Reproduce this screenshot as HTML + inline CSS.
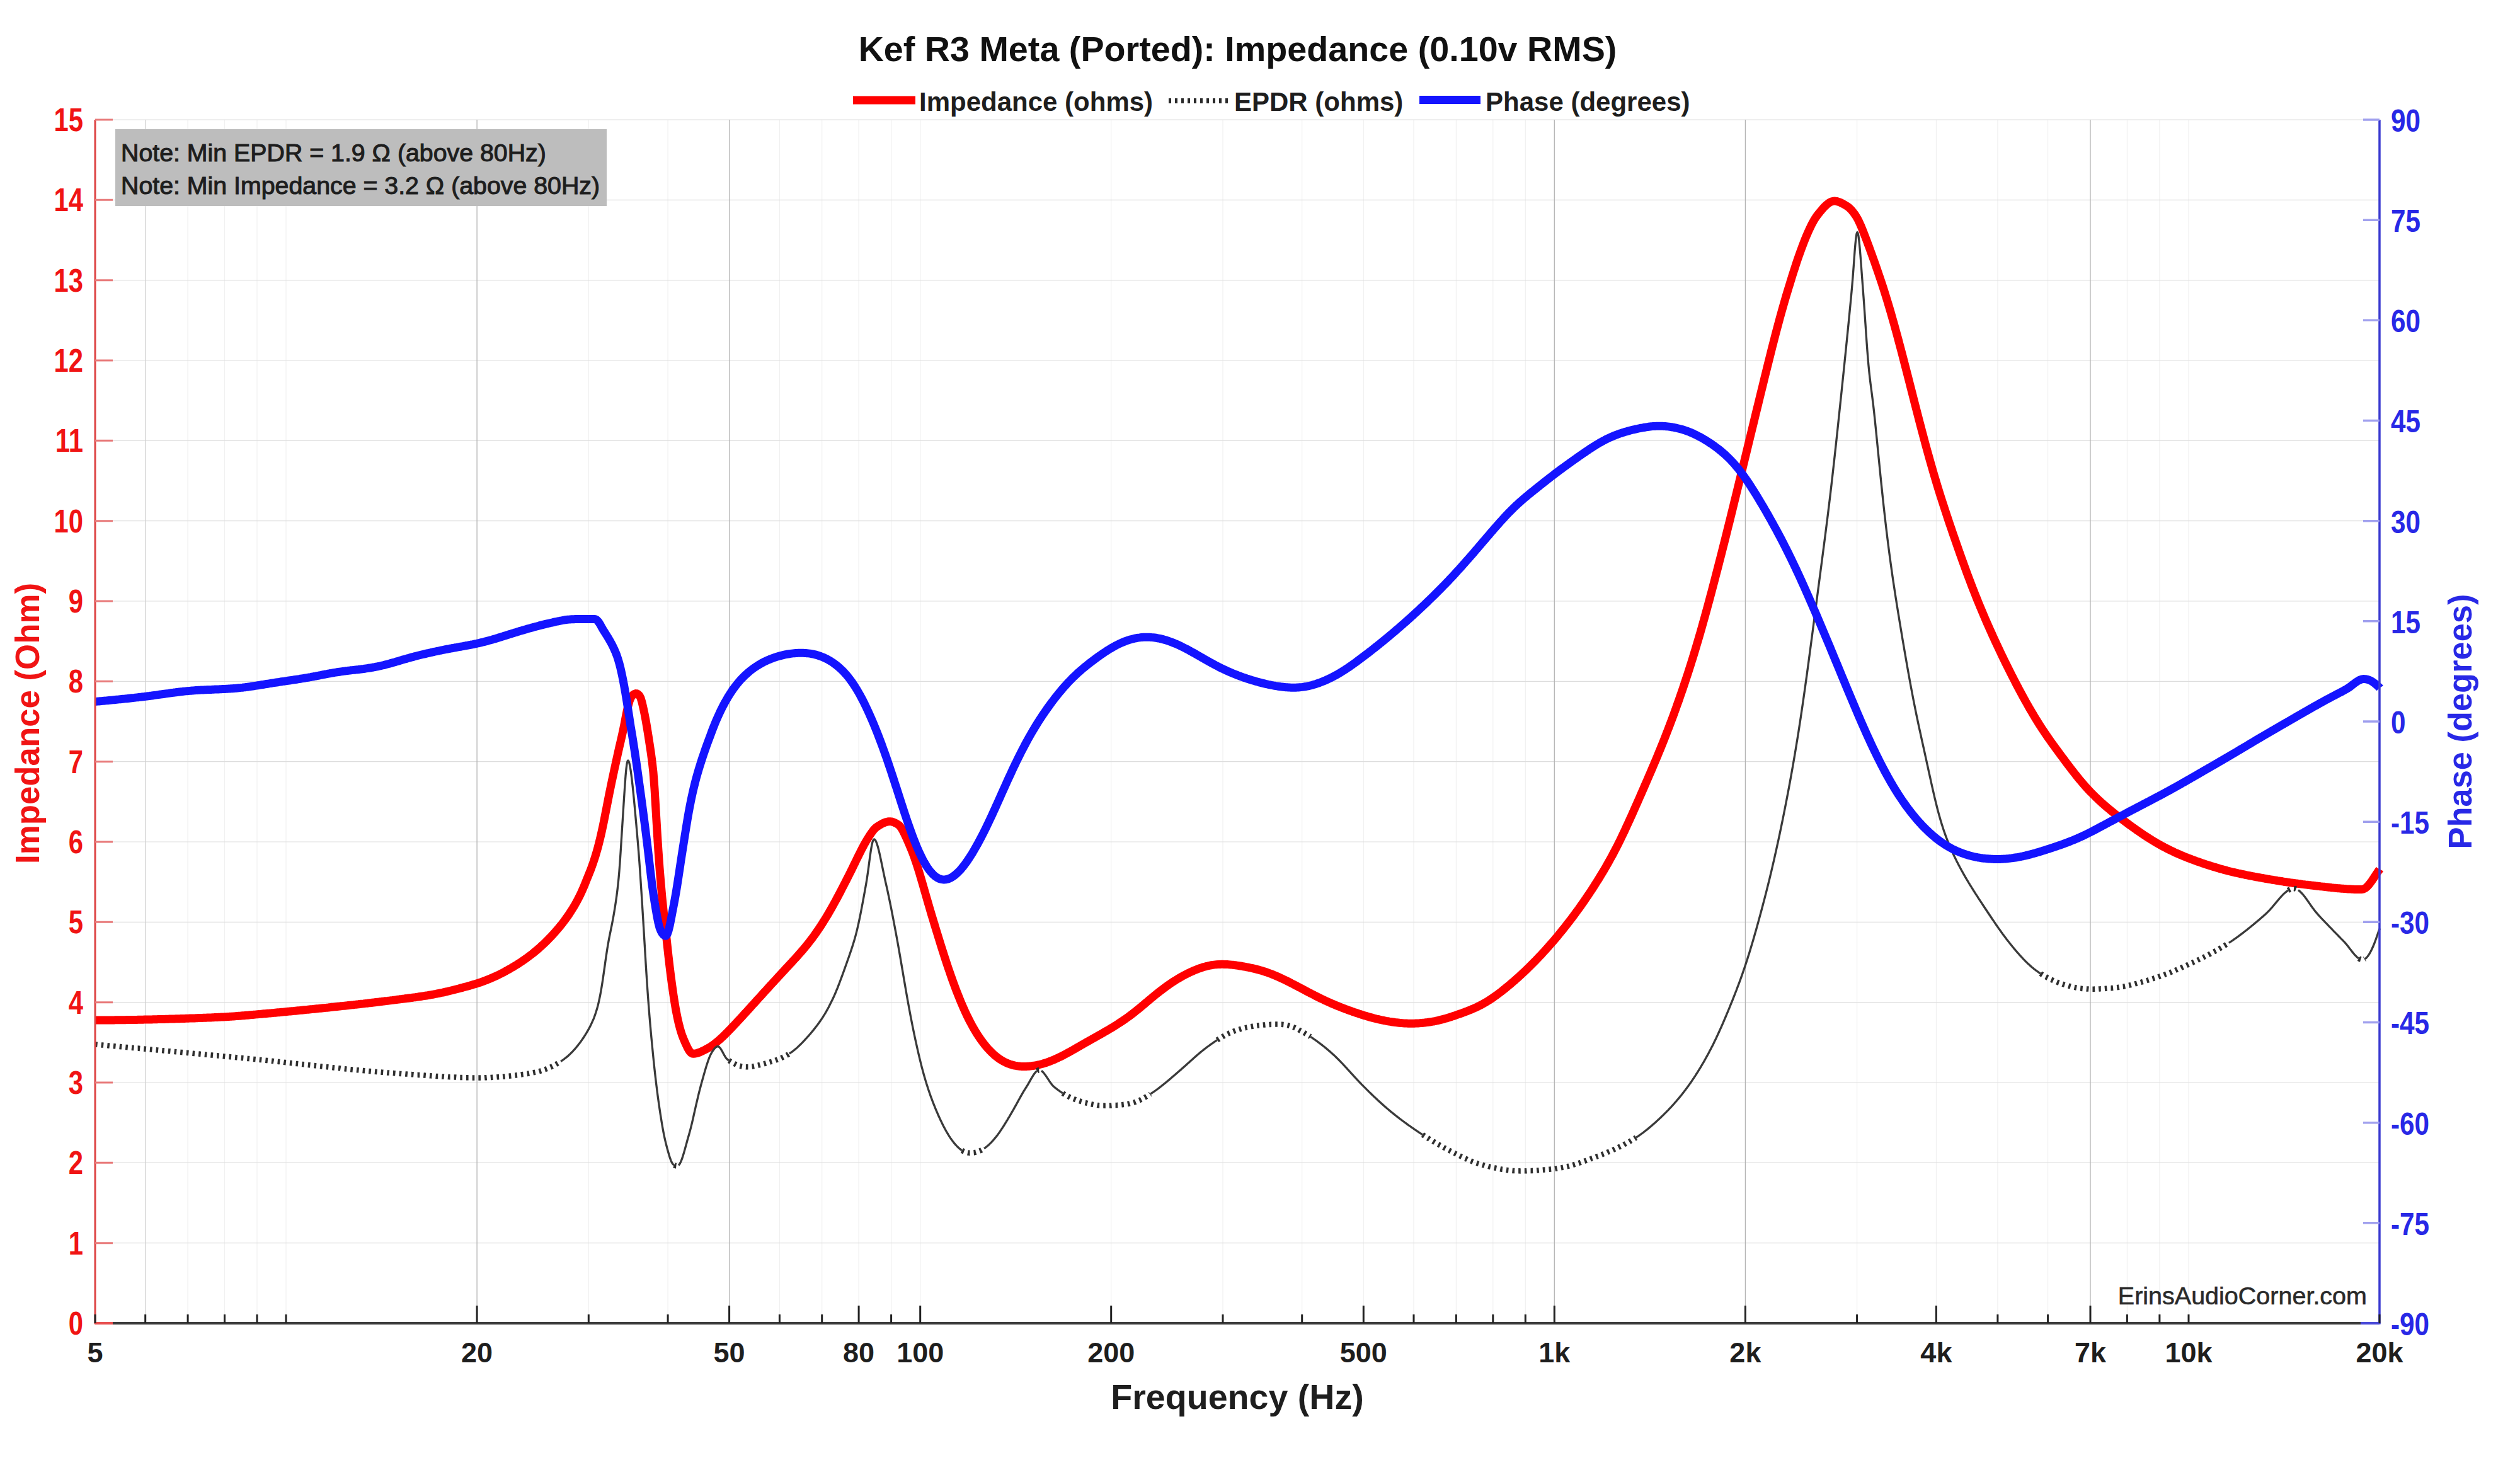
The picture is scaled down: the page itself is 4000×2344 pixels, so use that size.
<!DOCTYPE html>
<html><head><meta charset="utf-8"><title>Kef R3 Meta Impedance</title>
<style>html,body{margin:0;padding:0;background:#fff;width:4000px;height:2344px;overflow:hidden}svg{display:block}</style>
</head><body>
<svg width="4000" height="2344" viewBox="0 0 4000 2344">
<rect width="4000" height="2344" fill="#fff"/>
<path d="M298.1,190.0V2100.0 M356.5,190.0V2100.0 M408.0,190.0V2100.0 M454.0,190.0V2100.0 M934.3,190.0V2100.0 M1060.1,190.0V2100.0 M1237.4,190.0V2100.0 M1304.7,190.0V2100.0 M1363.1,190.0V2100.0 M1414.6,190.0V2100.0 M1460.7,190.0V2100.0 M1763.7,190.0V2100.0 M1941.0,190.0V2100.0 M2066.7,190.0V2100.0 M2164.3,190.0V2100.0 M2244.0,190.0V2100.0 M2311.4,190.0V2100.0 M2369.8,190.0V2100.0 M2421.3,190.0V2100.0 M2947.6,190.0V2100.0 M3073.4,190.0V2100.0 M3170.9,190.0V2100.0 M3250.6,190.0V2100.0 M3376.4,190.0V2100.0 M3427.9,190.0V2100.0 M3474.0,190.0V2100.0" stroke="#f0f0f0" stroke-width="1.2" fill="none"/>
<path d="M151.0,1972.7H3777.0 M151.0,1845.3H3777.0 M151.0,1718.0H3777.0 M151.0,1590.7H3777.0 M151.0,1463.3H3777.0 M151.0,1336.0H3777.0 M151.0,1208.7H3777.0 M151.0,1081.3H3777.0 M151.0,954.0H3777.0 M151.0,826.7H3777.0 M151.0,699.3H3777.0 M151.0,572.0H3777.0 M151.0,444.7H3777.0 M151.0,317.3H3777.0 M151.0,190.0H3777.0" stroke="#dddddd" stroke-width="1.2" fill="none"/>
<path d="M230.7,190.0V2100.0" stroke="#cfcfcf" stroke-width="1.2" fill="none"/>
<path d="M757.1,190.0V2100.0 M1157.6,190.0V2100.0 M2467.3,190.0V2100.0 M2770.4,190.0V2100.0 M3318.0,190.0V2100.0" stroke="#b4b4b4" stroke-width="1.3" fill="none"/>
<rect x="183" y="205" width="780" height="122" fill="#bdbdbd"/>
<text x="192" y="256" font-family='"Liberation Sans", sans-serif' font-size="39.3" fill="#1e1e1e" stroke="#1e1e1e" stroke-width="1.1">Note: Min EPDR = 1.9 &#937; (above 80Hz)</text>
<text x="192" y="308" font-family='"Liberation Sans", sans-serif' font-size="39.3" fill="#1e1e1e" stroke="#1e1e1e" stroke-width="1.1">Note: Min Impedance = 3.2 &#937; (above 80Hz)</text>
<text x="3757" y="2070" text-anchor="end" font-family='"Liberation Sans", sans-serif' font-size="39.5" fill="#2a2a2a" stroke="#2a2a2a" stroke-width="0.6">ErinsAudioCorner.com</text>
<path d="M151.0,1619.0 L153.0,1619.0 L155.0,1619.0 L157.0,1619.0 L159.0,1619.0 L161.0,1619.0 L163.0,1619.0 L165.0,1619.0 L167.0,1619.0 L169.0,1619.0 L171.0,1618.9 L173.0,1618.9 L175.0,1618.9 L177.0,1618.9 L179.0,1618.9 L181.0,1618.9 L183.0,1618.8 L185.0,1618.8 L187.0,1618.8 L189.0,1618.8 L191.0,1618.8 L193.0,1618.7 L195.0,1618.7 L197.0,1618.7 L199.0,1618.7 L201.0,1618.6 L203.0,1618.6 L205.0,1618.6 L207.0,1618.5 L209.0,1618.5 L211.0,1618.5 L213.0,1618.4 L215.0,1618.4 L217.0,1618.4 L219.0,1618.3 L221.0,1618.3 L223.0,1618.2 L225.0,1618.2 L227.0,1618.2 L229.0,1618.1 L231.0,1618.1 L233.0,1618.0 L235.0,1618.0 L237.0,1618.0 L239.0,1617.9 L241.0,1617.9 L243.0,1617.8 L245.0,1617.8 L247.0,1617.7 L249.0,1617.7 L251.0,1617.6 L253.0,1617.6 L255.0,1617.5 L257.0,1617.5 L259.0,1617.4 L261.0,1617.4 L263.0,1617.3 L265.0,1617.3 L267.0,1617.2 L269.0,1617.1 L271.0,1617.1 L273.0,1617.0 L275.0,1617.0 L277.0,1616.9 L279.0,1616.8 L281.0,1616.8 L283.0,1616.7 L285.0,1616.7 L287.0,1616.6 L289.0,1616.5 L291.0,1616.5 L293.0,1616.4 L295.0,1616.3 L297.0,1616.3 L299.0,1616.2 L301.0,1616.1 L303.0,1616.1 L305.0,1616.0 L307.0,1615.9 L309.0,1615.9 L311.0,1615.8 L313.0,1615.7 L315.0,1615.6 L317.0,1615.6 L319.0,1615.5 L321.0,1615.4 L323.0,1615.3 L325.0,1615.3 L327.0,1615.2 L329.0,1615.1 L331.0,1615.0 L333.0,1614.9 L335.0,1614.9 L337.0,1614.8 L339.0,1614.7 L341.0,1614.6 L343.0,1614.5 L345.0,1614.4 L347.0,1614.3 L349.0,1614.2 L351.0,1614.1 L353.0,1614.0 L355.0,1613.9 L357.0,1613.8 L359.0,1613.7 L361.0,1613.6 L363.0,1613.5 L365.0,1613.3 L367.0,1613.2 L369.0,1613.1 L371.0,1612.9 L373.0,1612.8 L375.0,1612.6 L377.0,1612.5 L379.0,1612.3 L381.0,1612.2 L383.0,1612.0 L385.0,1611.8 L387.0,1611.7 L389.0,1611.5 L391.0,1611.3 L393.0,1611.2 L395.0,1611.0 L397.0,1610.8 L399.0,1610.6 L401.0,1610.5 L403.0,1610.3 L405.0,1610.1 L407.0,1609.9 L409.0,1609.7 L411.0,1609.6 L413.0,1609.4 L415.0,1609.2 L417.0,1609.0 L419.0,1608.8 L421.0,1608.7 L423.0,1608.5 L425.0,1608.3 L427.0,1608.1 L429.0,1607.9 L431.0,1607.8 L433.0,1607.6 L435.0,1607.4 L437.0,1607.2 L439.0,1607.0 L441.0,1606.8 L443.0,1606.7 L445.0,1606.5 L447.0,1606.3 L449.0,1606.1 L451.0,1605.9 L453.0,1605.7 L455.0,1605.5 L457.0,1605.3 L459.0,1605.1 L461.0,1605.0 L463.0,1604.8 L465.0,1604.6 L467.0,1604.4 L469.0,1604.2 L471.0,1604.0 L473.0,1603.8 L475.0,1603.6 L477.0,1603.4 L479.0,1603.2 L481.0,1603.0 L483.0,1602.8 L485.0,1602.6 L487.0,1602.4 L489.0,1602.2 L491.0,1602.0 L493.0,1601.8 L495.0,1601.6 L497.0,1601.4 L499.0,1601.2 L501.0,1601.0 L503.0,1600.8 L505.0,1600.6 L507.0,1600.4 L509.0,1600.2 L511.0,1600.0 L513.0,1599.8 L515.0,1599.6 L517.0,1599.4 L519.0,1599.2 L521.0,1599.0 L523.0,1598.7 L525.0,1598.5 L527.0,1598.3 L529.0,1598.1 L531.0,1597.9 L533.0,1597.7 L535.0,1597.5 L537.0,1597.3 L539.0,1597.1 L541.0,1596.8 L543.0,1596.6 L545.0,1596.4 L547.0,1596.2 L549.0,1596.0 L551.0,1595.8 L553.0,1595.5 L555.0,1595.3 L557.0,1595.1 L559.0,1594.9 L561.0,1594.7 L563.0,1594.4 L565.0,1594.2 L567.0,1594.0 L569.0,1593.8 L571.0,1593.5 L573.0,1593.3 L575.0,1593.1 L577.0,1592.9 L579.0,1592.6 L581.0,1592.4 L583.0,1592.2 L585.0,1591.9 L587.0,1591.7 L589.0,1591.5 L591.0,1591.2 L593.0,1591.0 L595.0,1590.8 L597.0,1590.5 L599.0,1590.3 L601.0,1590.1 L603.0,1589.8 L605.0,1589.6 L607.0,1589.3 L609.0,1589.1 L611.0,1588.8 L613.0,1588.6 L615.0,1588.4 L617.0,1588.1 L619.0,1587.9 L621.0,1587.6 L623.0,1587.4 L625.0,1587.1 L627.0,1586.9 L629.0,1586.6 L631.0,1586.3 L633.0,1586.1 L635.0,1585.8 L637.0,1585.6 L639.0,1585.3 L641.0,1585.1 L643.0,1584.8 L645.0,1584.5 L647.0,1584.3 L649.0,1584.0 L651.0,1583.7 L653.0,1583.5 L655.0,1583.2 L657.0,1582.9 L659.0,1582.7 L661.0,1582.4 L663.0,1582.1 L665.0,1581.8 L667.0,1581.5 L669.0,1581.2 L671.0,1580.9 L673.0,1580.6 L675.0,1580.3 L677.0,1580.0 L679.0,1579.7 L681.0,1579.3 L683.0,1579.0 L685.0,1578.6 L687.0,1578.3 L689.0,1577.9 L691.0,1577.5 L693.0,1577.1 L695.0,1576.7 L697.0,1576.3 L699.0,1575.9 L701.0,1575.5 L703.0,1575.1 L705.0,1574.6 L707.0,1574.1 L709.0,1573.7 L711.0,1573.2 L713.0,1572.7 L715.0,1572.2 L717.0,1571.7 L719.0,1571.2 L721.0,1570.7 L723.0,1570.2 L725.0,1569.7 L727.0,1569.2 L729.0,1568.7 L731.0,1568.1 L733.0,1567.6 L735.0,1567.1 L737.0,1566.5 L739.0,1566.0 L741.0,1565.5 L743.0,1564.9 L745.0,1564.4 L747.0,1563.8 L749.0,1563.2 L751.0,1562.6 L753.0,1562.0 L755.0,1561.4 L757.0,1560.8 L759.0,1560.1 L761.0,1559.5 L763.0,1558.8 L765.0,1558.1 L767.0,1557.4 L769.0,1556.6 L771.0,1555.9 L773.0,1555.1 L775.0,1554.3 L777.0,1553.5 L779.0,1552.6 L781.0,1551.8 L783.0,1550.9 L785.0,1550.0 L787.0,1549.1 L789.0,1548.2 L791.0,1547.2 L793.0,1546.2 L795.0,1545.2 L797.0,1544.2 L799.0,1543.2 L801.0,1542.1 L803.0,1541.0 L805.0,1539.9 L807.0,1538.8 L809.0,1537.7 L811.0,1536.5 L813.0,1535.3 L815.0,1534.2 L817.0,1532.9 L819.0,1531.7 L821.0,1530.5 L823.0,1529.2 L825.0,1527.9 L827.0,1526.6 L829.0,1525.2 L831.0,1523.9 L833.0,1522.5 L835.0,1521.1 L837.0,1519.6 L839.0,1518.1 L841.0,1516.6 L843.0,1515.1 L845.0,1513.6 L847.0,1512.0 L849.0,1510.3 L851.0,1508.7 L853.0,1507.0 L855.0,1505.3 L857.0,1503.5 L859.0,1501.7 L861.0,1499.8 L863.0,1498.0 L865.0,1496.1 L867.0,1494.1 L869.0,1492.1 L871.0,1490.1 L873.0,1488.0 L875.0,1485.9 L877.0,1483.8 L879.0,1481.6 L881.0,1479.4 L883.0,1477.1 L885.0,1474.8 L887.0,1472.4 L889.0,1470.0 L891.0,1467.5 L893.0,1465.0 L895.0,1462.4 L897.0,1459.7 L899.0,1456.9 L901.0,1454.1 L903.0,1451.2 L905.0,1448.2 L907.0,1445.1 L909.0,1441.9 L911.0,1438.6 L913.0,1435.2 L915.0,1431.6 L917.0,1427.9 L919.0,1424.0 L921.0,1420.0 L923.0,1415.7 L925.0,1411.3 L927.0,1406.6 L929.0,1401.7 L931.0,1396.6 L933.0,1391.7 L935.0,1386.8 L937.0,1381.8 L939.0,1376.5 L941.0,1370.9 L943.0,1365.0 L945.0,1358.7 L947.0,1352.0 L949.0,1344.9 L951.0,1337.2 L953.0,1329.0 L955.0,1320.3 L957.0,1311.0 L959.0,1301.2 L961.0,1291.0 L963.0,1280.7 L965.0,1270.5 L967.0,1260.3 L969.0,1250.5 L971.0,1240.8 L973.0,1231.3 L975.0,1222.0 L977.0,1212.8 L979.0,1203.7 L981.0,1194.7 L983.0,1185.8 L985.0,1177.2 L987.0,1168.5 L989.0,1159.4 L991.0,1149.6 L993.0,1139.0 L995.0,1128.9 L997.0,1120.2 L999.0,1113.0 L1001.0,1107.8 L1003.0,1104.7 L1005.0,1102.7 L1007.0,1101.3 L1009.0,1100.6 L1011.0,1100.8 L1013.0,1101.9 L1015.0,1104.0 L1017.0,1107.8 L1019.0,1114.5 L1021.0,1123.1 L1023.0,1132.5 L1025.0,1143.0 L1027.0,1154.6 L1029.0,1167.0 L1031.0,1179.9 L1033.0,1193.2 L1035.0,1207.9 L1037.0,1225.8 L1039.0,1251.9 L1041.0,1285.3 L1043.0,1319.0 L1045.0,1350.2 L1047.0,1377.7 L1049.0,1402.1 L1051.0,1424.3 L1053.0,1444.5 L1055.0,1463.1 L1057.0,1480.4 L1059.0,1498.8 L1061.0,1517.1 L1063.0,1534.3 L1065.0,1550.4 L1067.0,1565.2 L1069.0,1579.2 L1071.0,1592.1 L1073.0,1603.8 L1075.0,1613.8 L1077.0,1622.8 L1079.0,1630.7 L1081.0,1637.7 L1083.0,1643.7 L1085.0,1648.8 L1087.0,1653.5 L1089.0,1657.9 L1091.0,1662.1 L1093.0,1665.8 L1095.0,1668.8 L1097.0,1670.9 L1099.0,1672.0 L1101.0,1672.3 L1103.0,1672.1 L1105.0,1671.7 L1107.0,1671.2 L1109.0,1670.5 L1111.0,1669.8 L1113.0,1668.9 L1115.0,1668.0 L1117.0,1667.0 L1119.0,1666.0 L1121.0,1664.9 L1123.0,1663.9 L1125.0,1662.8 L1127.0,1661.6 L1129.0,1660.3 L1131.0,1659.0 L1133.0,1657.5 L1135.0,1656.0 L1137.0,1654.3 L1139.0,1652.6 L1141.0,1650.9 L1143.0,1649.2 L1145.0,1647.4 L1147.0,1645.5 L1149.0,1643.6 L1151.0,1641.6 L1153.0,1639.6 L1155.0,1637.6 L1157.0,1635.6 L1159.0,1633.5 L1161.0,1631.4 L1163.0,1629.3 L1165.0,1627.2 L1167.0,1625.0 L1169.0,1622.9 L1171.0,1620.7 L1173.0,1618.6 L1175.0,1616.4 L1177.0,1614.3 L1179.0,1612.1 L1181.0,1609.9 L1183.0,1607.7 L1185.0,1605.6 L1187.0,1603.4 L1189.0,1601.2 L1191.0,1598.9 L1193.0,1596.7 L1195.0,1594.5 L1197.0,1592.3 L1199.0,1590.1 L1201.0,1587.9 L1203.0,1585.7 L1205.0,1583.5 L1207.0,1581.3 L1209.0,1579.1 L1211.0,1576.9 L1213.0,1574.7 L1215.0,1572.5 L1217.0,1570.3 L1219.0,1568.1 L1221.0,1565.9 L1223.0,1563.7 L1225.0,1561.5 L1227.0,1559.3 L1229.0,1557.2 L1231.0,1555.0 L1233.0,1552.8 L1235.0,1550.6 L1237.0,1548.4 L1239.0,1546.3 L1241.0,1544.1 L1243.0,1542.0 L1245.0,1539.8 L1247.0,1537.6 L1249.0,1535.5 L1251.0,1533.3 L1253.0,1531.2 L1255.0,1529.0 L1257.0,1526.9 L1259.0,1524.7 L1261.0,1522.5 L1263.0,1520.3 L1265.0,1518.1 L1267.0,1515.9 L1269.0,1513.6 L1271.0,1511.4 L1273.0,1509.0 L1275.0,1506.7 L1277.0,1504.3 L1279.0,1501.9 L1281.0,1499.5 L1283.0,1497.0 L1285.0,1494.4 L1287.0,1491.8 L1289.0,1489.2 L1291.0,1486.5 L1293.0,1483.7 L1295.0,1480.9 L1297.0,1478.0 L1299.0,1475.1 L1301.0,1472.1 L1303.0,1469.1 L1305.0,1466.0 L1307.0,1462.8 L1309.0,1459.6 L1311.0,1456.4 L1313.0,1453.1 L1315.0,1449.7 L1317.0,1446.3 L1319.0,1442.8 L1321.0,1439.3 L1323.0,1435.7 L1325.0,1432.0 L1327.0,1428.4 L1329.0,1424.6 L1331.0,1420.9 L1333.0,1417.1 L1335.0,1413.3 L1337.0,1409.4 L1339.0,1405.5 L1341.0,1401.6 L1343.0,1397.7 L1345.0,1393.8 L1347.0,1389.8 L1349.0,1385.9 L1351.0,1381.8 L1353.0,1377.8 L1355.0,1373.7 L1357.0,1369.6 L1359.0,1365.5 L1361.0,1361.4 L1363.0,1357.3 L1365.0,1353.3 L1367.0,1349.3 L1369.0,1345.5 L1371.0,1341.7 L1373.0,1338.1 L1375.0,1334.6 L1377.0,1331.3 L1379.0,1328.1 L1381.0,1325.0 L1383.0,1322.1 L1385.0,1319.4 L1387.0,1316.8 L1389.0,1314.7 L1391.0,1312.9 L1393.0,1311.5 L1395.0,1310.2 L1397.0,1309.0 L1399.0,1307.9 L1401.0,1306.8 L1403.0,1305.9 L1405.0,1305.1 L1407.0,1304.5 L1409.0,1304.0 L1411.0,1303.7 L1413.0,1303.7 L1415.0,1303.9 L1417.0,1304.4 L1419.0,1305.1 L1421.0,1306.0 L1423.0,1307.0 L1425.0,1308.2 L1427.0,1309.6 L1429.0,1311.8 L1431.0,1314.6 L1433.0,1318.0 L1435.0,1322.0 L1437.0,1326.3 L1439.0,1330.6 L1441.0,1335.1 L1443.0,1339.7 L1445.0,1344.4 L1447.0,1349.2 L1449.0,1354.4 L1451.0,1359.8 L1453.0,1365.5 L1455.0,1371.5 L1457.0,1377.7 L1459.0,1384.1 L1461.0,1390.8 L1463.0,1397.6 L1465.0,1404.5 L1467.0,1411.5 L1469.0,1418.5 L1471.0,1425.5 L1473.0,1432.4 L1475.0,1439.3 L1477.0,1446.1 L1479.0,1452.8 L1481.0,1459.4 L1483.0,1466.0 L1485.0,1472.6 L1487.0,1479.1 L1489.0,1485.7 L1491.0,1492.2 L1493.0,1498.6 L1495.0,1505.0 L1497.0,1511.3 L1499.0,1517.5 L1501.0,1523.6 L1503.0,1529.7 L1505.0,1535.7 L1507.0,1541.5 L1509.0,1547.3 L1511.0,1553.0 L1513.0,1558.6 L1515.0,1564.0 L1517.0,1569.4 L1519.0,1574.6 L1521.0,1579.7 L1523.0,1584.7 L1525.0,1589.6 L1527.0,1594.3 L1529.0,1598.9 L1531.0,1603.4 L1533.0,1607.7 L1535.0,1612.0 L1537.0,1616.0 L1539.0,1620.0 L1541.0,1623.8 L1543.0,1627.5 L1545.0,1631.1 L1547.0,1634.5 L1549.0,1637.8 L1551.0,1641.1 L1553.0,1644.1 L1555.0,1647.1 L1557.0,1650.0 L1559.0,1652.8 L1561.0,1655.4 L1563.0,1658.0 L1565.0,1660.4 L1567.0,1662.8 L1569.0,1665.0 L1571.0,1667.2 L1573.0,1669.2 L1575.0,1671.2 L1577.0,1673.0 L1579.0,1674.8 L1581.0,1676.4 L1583.0,1678.0 L1585.0,1679.5 L1587.0,1680.9 L1589.0,1682.1 L1591.0,1683.4 L1593.0,1684.5 L1595.0,1685.5 L1597.0,1686.5 L1599.0,1687.4 L1601.0,1688.2 L1603.0,1688.9 L1605.0,1689.5 L1607.0,1690.1 L1609.0,1690.6 L1611.0,1691.1 L1613.0,1691.5 L1615.0,1691.8 L1617.0,1692.0 L1619.0,1692.2 L1621.0,1692.4 L1623.0,1692.5 L1625.0,1692.5 L1627.0,1692.5 L1629.0,1692.4 L1631.0,1692.3 L1633.0,1692.2 L1635.0,1692.0 L1637.0,1691.8 L1639.0,1691.5 L1641.0,1691.2 L1643.0,1690.9 L1645.0,1690.5 L1647.0,1690.1 L1649.0,1689.7 L1651.0,1689.2 L1653.0,1688.7 L1655.0,1688.2 L1657.0,1687.6 L1659.0,1687.0 L1661.0,1686.3 L1663.0,1685.6 L1665.0,1684.9 L1667.0,1684.1 L1669.0,1683.4 L1671.0,1682.5 L1673.0,1681.7 L1675.0,1680.8 L1677.0,1679.9 L1679.0,1679.0 L1681.0,1678.0 L1683.0,1677.1 L1685.0,1676.1 L1687.0,1675.1 L1689.0,1674.0 L1691.0,1673.0 L1693.0,1671.9 L1695.0,1670.8 L1697.0,1669.7 L1699.0,1668.6 L1701.0,1667.5 L1703.0,1666.4 L1705.0,1665.2 L1707.0,1664.1 L1709.0,1662.9 L1711.0,1661.8 L1713.0,1660.6 L1715.0,1659.5 L1717.0,1658.3 L1719.0,1657.2 L1721.0,1656.0 L1723.0,1654.9 L1725.0,1653.8 L1727.0,1652.6 L1729.0,1651.5 L1731.0,1650.4 L1733.0,1649.2 L1735.0,1648.1 L1737.0,1647.0 L1739.0,1645.9 L1741.0,1644.7 L1743.0,1643.6 L1745.0,1642.5 L1747.0,1641.4 L1749.0,1640.2 L1751.0,1639.1 L1753.0,1637.9 L1755.0,1636.8 L1757.0,1635.6 L1759.0,1634.5 L1761.0,1633.3 L1763.0,1632.1 L1765.0,1630.9 L1767.0,1629.7 L1769.0,1628.4 L1771.0,1627.2 L1773.0,1625.9 L1775.0,1624.6 L1777.0,1623.3 L1779.0,1622.0 L1781.0,1620.7 L1783.0,1619.3 L1785.0,1618.0 L1787.0,1616.6 L1789.0,1615.1 L1791.0,1613.7 L1793.0,1612.2 L1795.0,1610.7 L1797.0,1609.2 L1799.0,1607.7 L1801.0,1606.1 L1803.0,1604.5 L1805.0,1602.9 L1807.0,1601.3 L1809.0,1599.7 L1811.0,1598.0 L1813.0,1596.4 L1815.0,1594.7 L1817.0,1593.0 L1819.0,1591.3 L1821.0,1589.6 L1823.0,1587.9 L1825.0,1586.3 L1827.0,1584.6 L1829.0,1582.9 L1831.0,1581.3 L1833.0,1579.6 L1835.0,1578.0 L1837.0,1576.4 L1839.0,1574.8 L1841.0,1573.2 L1843.0,1571.7 L1845.0,1570.2 L1847.0,1568.7 L1849.0,1567.2 L1851.0,1565.7 L1853.0,1564.3 L1855.0,1562.9 L1857.0,1561.5 L1859.0,1560.1 L1861.0,1558.8 L1863.0,1557.5 L1865.0,1556.2 L1867.0,1555.0 L1869.0,1553.8 L1871.0,1552.6 L1873.0,1551.4 L1875.0,1550.2 L1877.0,1549.1 L1879.0,1548.0 L1881.0,1547.0 L1883.0,1546.0 L1885.0,1544.9 L1887.0,1544.0 L1889.0,1543.0 L1891.0,1542.1 L1893.0,1541.2 L1895.0,1540.3 L1897.0,1539.5 L1899.0,1538.7 L1901.0,1537.9 L1903.0,1537.2 L1905.0,1536.5 L1907.0,1535.8 L1909.0,1535.1 L1911.0,1534.5 L1913.0,1534.0 L1915.0,1533.4 L1917.0,1533.0 L1919.0,1532.5 L1921.0,1532.1 L1923.0,1531.7 L1925.0,1531.4 L1927.0,1531.1 L1929.0,1530.9 L1931.0,1530.7 L1933.0,1530.6 L1935.0,1530.4 L1937.0,1530.4 L1939.0,1530.3 L1941.0,1530.3 L1943.0,1530.4 L1945.0,1530.4 L1947.0,1530.5 L1949.0,1530.6 L1951.0,1530.8 L1953.0,1530.9 L1955.0,1531.1 L1957.0,1531.3 L1959.0,1531.6 L1961.0,1531.8 L1963.0,1532.1 L1965.0,1532.4 L1967.0,1532.7 L1969.0,1533.0 L1971.0,1533.3 L1973.0,1533.7 L1975.0,1534.0 L1977.0,1534.4 L1979.0,1534.8 L1981.0,1535.2 L1983.0,1535.6 L1985.0,1536.0 L1987.0,1536.4 L1989.0,1536.9 L1991.0,1537.4 L1993.0,1537.9 L1995.0,1538.4 L1997.0,1538.9 L1999.0,1539.4 L2001.0,1540.0 L2003.0,1540.6 L2005.0,1541.2 L2007.0,1541.8 L2009.0,1542.5 L2011.0,1543.2 L2013.0,1543.9 L2015.0,1544.6 L2017.0,1545.3 L2019.0,1546.1 L2021.0,1546.9 L2023.0,1547.7 L2025.0,1548.6 L2027.0,1549.4 L2029.0,1550.3 L2031.0,1551.2 L2033.0,1552.1 L2035.0,1553.1 L2037.0,1554.0 L2039.0,1555.0 L2041.0,1555.9 L2043.0,1556.9 L2045.0,1557.9 L2047.0,1558.9 L2049.0,1560.0 L2051.0,1561.0 L2053.0,1562.0 L2055.0,1563.1 L2057.0,1564.1 L2059.0,1565.1 L2061.0,1566.2 L2063.0,1567.3 L2065.0,1568.3 L2067.0,1569.4 L2069.0,1570.4 L2071.0,1571.5 L2073.0,1572.6 L2075.0,1573.6 L2077.0,1574.7 L2079.0,1575.7 L2081.0,1576.8 L2083.0,1577.8 L2085.0,1578.8 L2087.0,1579.9 L2089.0,1580.9 L2091.0,1581.9 L2093.0,1582.9 L2095.0,1583.9 L2097.0,1584.9 L2099.0,1585.8 L2101.0,1586.8 L2103.0,1587.7 L2105.0,1588.6 L2107.0,1589.5 L2109.0,1590.4 L2111.0,1591.3 L2113.0,1592.2 L2115.0,1593.1 L2117.0,1593.9 L2119.0,1594.7 L2121.0,1595.6 L2123.0,1596.4 L2125.0,1597.2 L2127.0,1598.0 L2129.0,1598.8 L2131.0,1599.6 L2133.0,1600.3 L2135.0,1601.1 L2137.0,1601.8 L2139.0,1602.6 L2141.0,1603.3 L2143.0,1604.0 L2145.0,1604.7 L2147.0,1605.5 L2149.0,1606.2 L2151.0,1606.8 L2153.0,1607.5 L2155.0,1608.2 L2157.0,1608.9 L2159.0,1609.5 L2161.0,1610.2 L2163.0,1610.8 L2165.0,1611.4 L2167.0,1612.0 L2169.0,1612.6 L2171.0,1613.2 L2173.0,1613.8 L2175.0,1614.4 L2177.0,1614.9 L2179.0,1615.4 L2181.0,1616.0 L2183.0,1616.5 L2185.0,1617.0 L2187.0,1617.4 L2189.0,1617.9 L2191.0,1618.3 L2193.0,1618.8 L2195.0,1619.2 L2197.0,1619.6 L2199.0,1620.0 L2201.0,1620.4 L2203.0,1620.7 L2205.0,1621.1 L2207.0,1621.4 L2209.0,1621.7 L2211.0,1622.0 L2213.0,1622.3 L2215.0,1622.6 L2217.0,1622.8 L2219.0,1623.0 L2221.0,1623.3 L2223.0,1623.4 L2225.0,1623.6 L2227.0,1623.8 L2229.0,1623.9 L2231.0,1624.0 L2233.0,1624.1 L2235.0,1624.2 L2237.0,1624.2 L2239.0,1624.2 L2241.0,1624.2 L2243.0,1624.2 L2245.0,1624.2 L2247.0,1624.1 L2249.0,1624.0 L2251.0,1623.9 L2253.0,1623.8 L2255.0,1623.6 L2257.0,1623.5 L2259.0,1623.3 L2261.0,1623.1 L2263.0,1622.8 L2265.0,1622.6 L2267.0,1622.3 L2269.0,1622.0 L2271.0,1621.7 L2273.0,1621.4 L2275.0,1621.0 L2277.0,1620.7 L2279.0,1620.3 L2281.0,1619.8 L2283.0,1619.4 L2285.0,1618.9 L2287.0,1618.4 L2289.0,1617.9 L2291.0,1617.4 L2293.0,1616.8 L2295.0,1616.3 L2297.0,1615.7 L2299.0,1615.1 L2301.0,1614.4 L2303.0,1613.8 L2305.0,1613.1 L2307.0,1612.5 L2309.0,1611.8 L2311.0,1611.1 L2313.0,1610.4 L2315.0,1609.7 L2317.0,1609.0 L2319.0,1608.3 L2321.0,1607.6 L2323.0,1606.8 L2325.0,1606.1 L2327.0,1605.3 L2329.0,1604.6 L2331.0,1603.8 L2333.0,1603.0 L2335.0,1602.2 L2337.0,1601.3 L2339.0,1600.5 L2341.0,1599.6 L2343.0,1598.7 L2345.0,1597.7 L2347.0,1596.8 L2349.0,1595.8 L2351.0,1594.7 L2353.0,1593.6 L2355.0,1592.5 L2357.0,1591.4 L2359.0,1590.2 L2361.0,1589.0 L2363.0,1587.8 L2365.0,1586.5 L2367.0,1585.2 L2369.0,1583.8 L2371.0,1582.4 L2373.0,1581.0 L2375.0,1579.6 L2377.0,1578.1 L2379.0,1576.6 L2381.0,1575.1 L2383.0,1573.6 L2385.0,1572.0 L2387.0,1570.4 L2389.0,1568.8 L2391.0,1567.2 L2393.0,1565.5 L2395.0,1563.9 L2397.0,1562.2 L2399.0,1560.5 L2401.0,1558.8 L2403.0,1557.1 L2405.0,1555.3 L2407.0,1553.5 L2409.0,1551.8 L2411.0,1550.0 L2413.0,1548.1 L2415.0,1546.3 L2417.0,1544.4 L2419.0,1542.6 L2421.0,1540.7 L2423.0,1538.8 L2425.0,1536.8 L2427.0,1534.9 L2429.0,1532.9 L2431.0,1530.9 L2433.0,1528.9 L2435.0,1526.9 L2437.0,1524.9 L2439.0,1522.8 L2441.0,1520.7 L2443.0,1518.6 L2445.0,1516.5 L2447.0,1514.4 L2449.0,1512.2 L2451.0,1510.0 L2453.0,1507.8 L2455.0,1505.6 L2457.0,1503.4 L2459.0,1501.1 L2461.0,1498.8 L2463.0,1496.5 L2465.0,1494.2 L2467.0,1491.9 L2469.0,1489.5 L2471.0,1487.2 L2473.0,1484.8 L2475.0,1482.3 L2477.0,1479.9 L2479.0,1477.4 L2481.0,1475.0 L2483.0,1472.5 L2485.0,1469.9 L2487.0,1467.4 L2489.0,1464.8 L2491.0,1462.2 L2493.0,1459.6 L2495.0,1457.0 L2497.0,1454.3 L2499.0,1451.6 L2501.0,1448.9 L2503.0,1446.2 L2505.0,1443.5 L2507.0,1440.7 L2509.0,1437.9 L2511.0,1435.0 L2513.0,1432.2 L2515.0,1429.3 L2517.0,1426.4 L2519.0,1423.4 L2521.0,1420.5 L2523.0,1417.5 L2525.0,1414.5 L2527.0,1411.4 L2529.0,1408.4 L2531.0,1405.2 L2533.0,1402.1 L2535.0,1398.9 L2537.0,1395.7 L2539.0,1392.5 L2541.0,1389.2 L2543.0,1385.9 L2545.0,1382.6 L2547.0,1379.2 L2549.0,1375.8 L2551.0,1372.3 L2553.0,1368.8 L2555.0,1365.2 L2557.0,1361.5 L2559.0,1357.9 L2561.0,1354.1 L2563.0,1350.3 L2565.0,1346.5 L2567.0,1342.6 L2569.0,1338.6 L2571.0,1334.6 L2573.0,1330.5 L2575.0,1326.3 L2577.0,1322.2 L2579.0,1317.9 L2581.0,1313.6 L2583.0,1309.3 L2585.0,1304.9 L2587.0,1300.5 L2589.0,1296.1 L2591.0,1291.7 L2593.0,1287.2 L2595.0,1282.7 L2597.0,1278.2 L2599.0,1273.6 L2601.0,1269.1 L2603.0,1264.5 L2605.0,1260.0 L2607.0,1255.4 L2609.0,1250.8 L2611.0,1246.2 L2613.0,1241.6 L2615.0,1237.0 L2617.0,1232.4 L2619.0,1227.7 L2621.0,1223.1 L2623.0,1218.4 L2625.0,1213.7 L2627.0,1208.9 L2629.0,1204.2 L2631.0,1199.4 L2633.0,1194.6 L2635.0,1189.7 L2637.0,1184.8 L2639.0,1179.8 L2641.0,1174.8 L2643.0,1169.8 L2645.0,1164.7 L2647.0,1159.5 L2649.0,1154.3 L2651.0,1149.1 L2653.0,1143.8 L2655.0,1138.4 L2657.0,1133.0 L2659.0,1127.5 L2661.0,1121.9 L2663.0,1116.3 L2665.0,1110.7 L2667.0,1104.9 L2669.0,1099.2 L2671.0,1093.3 L2673.0,1087.4 L2675.0,1081.4 L2677.0,1075.3 L2679.0,1069.2 L2681.0,1063.0 L2683.0,1056.7 L2685.0,1050.4 L2687.0,1044.0 L2689.0,1037.5 L2691.0,1030.9 L2693.0,1024.2 L2695.0,1017.4 L2697.0,1010.6 L2699.0,1003.7 L2701.0,996.7 L2703.0,989.6 L2705.0,982.5 L2707.0,975.3 L2709.0,968.0 L2711.0,960.6 L2713.0,953.2 L2715.0,945.8 L2717.0,938.3 L2719.0,930.7 L2721.0,923.1 L2723.0,915.4 L2725.0,907.7 L2727.0,900.0 L2729.0,892.2 L2731.0,884.4 L2733.0,876.6 L2735.0,868.7 L2737.0,860.8 L2739.0,852.8 L2741.0,844.9 L2743.0,836.8 L2745.0,828.8 L2747.0,820.7 L2749.0,812.6 L2751.0,804.5 L2753.0,796.3 L2755.0,788.2 L2757.0,780.0 L2759.0,771.8 L2761.0,763.6 L2763.0,755.3 L2765.0,747.1 L2767.0,738.9 L2769.0,730.7 L2771.0,722.4 L2773.0,714.2 L2775.0,706.0 L2777.0,697.7 L2779.0,689.5 L2781.0,681.3 L2783.0,673.1 L2785.0,664.9 L2787.0,656.6 L2789.0,648.4 L2791.0,640.2 L2793.0,632.0 L2795.0,623.8 L2797.0,615.7 L2799.0,607.5 L2801.0,599.3 L2803.0,591.2 L2805.0,583.1 L2807.0,575.1 L2809.0,567.1 L2811.0,559.1 L2813.0,551.2 L2815.0,543.4 L2817.0,535.6 L2819.0,527.9 L2821.0,520.3 L2823.0,512.8 L2825.0,505.4 L2827.0,498.1 L2829.0,491.0 L2831.0,483.9 L2833.0,477.0 L2835.0,470.1 L2837.0,463.5 L2839.0,456.9 L2841.0,450.5 L2843.0,443.9 L2845.0,437.4 L2847.0,431.1 L2849.0,424.9 L2851.0,418.8 L2853.0,412.8 L2855.0,407.0 L2857.0,401.4 L2859.0,395.9 L2861.0,390.5 L2863.0,385.2 L2865.0,380.1 L2867.0,375.3 L2869.0,370.7 L2871.0,366.2 L2873.0,361.8 L2875.0,357.7 L2877.0,353.8 L2879.0,350.2 L2881.0,346.9 L2883.0,343.9 L2885.0,341.1 L2887.0,338.6 L2889.0,336.2 L2891.0,333.8 L2893.0,331.4 L2895.0,329.2 L2897.0,327.2 L2899.0,325.3 L2901.0,323.6 L2903.0,322.1 L2905.0,320.9 L2907.0,320.0 L2909.0,319.4 L2911.0,319.1 L2913.0,319.1 L2915.0,319.4 L2917.0,319.9 L2919.0,320.5 L2921.0,321.3 L2923.0,322.2 L2925.0,323.3 L2927.0,324.4 L2929.0,325.5 L2931.0,326.7 L2933.0,328.0 L2935.0,329.6 L2937.0,331.5 L2939.0,333.6 L2941.0,336.0 L2943.0,338.6 L2945.0,341.4 L2947.0,344.6 L2949.0,348.2 L2951.0,352.2 L2953.0,356.6 L2955.0,361.3 L2957.0,366.2 L2959.0,371.3 L2961.0,376.5 L2963.0,381.8 L2965.0,387.2 L2967.0,392.6 L2969.0,398.1 L2971.0,403.5 L2973.0,409.1 L2975.0,414.6 L2977.0,420.3 L2979.0,426.1 L2981.0,432.0 L2983.0,437.8 L2985.0,443.8 L2987.0,449.8 L2989.0,455.9 L2991.0,462.2 L2993.0,468.6 L2995.0,475.1 L2997.0,481.7 L2999.0,488.4 L3001.0,495.2 L3003.0,502.2 L3005.0,509.2 L3007.0,516.3 L3009.0,523.6 L3011.0,530.9 L3013.0,538.3 L3015.0,545.8 L3017.0,553.3 L3019.0,560.9 L3021.0,568.6 L3023.0,576.3 L3025.0,584.1 L3027.0,591.9 L3029.0,599.7 L3031.0,607.5 L3033.0,615.3 L3035.0,623.2 L3037.0,631.0 L3039.0,638.9 L3041.0,646.7 L3043.0,654.4 L3045.0,662.2 L3047.0,669.9 L3049.0,677.5 L3051.0,685.1 L3053.0,692.7 L3055.0,700.2 L3057.0,707.6 L3059.0,714.9 L3061.0,722.1 L3063.0,729.3 L3065.0,736.3 L3067.0,743.3 L3069.0,750.2 L3071.0,757.0 L3073.0,763.7 L3075.0,770.3 L3077.0,776.8 L3079.0,783.3 L3081.0,789.6 L3083.0,795.9 L3085.0,802.1 L3087.0,808.3 L3089.0,814.3 L3091.0,820.4 L3093.0,826.4 L3095.0,832.3 L3097.0,838.2 L3099.0,844.1 L3101.0,849.9 L3103.0,855.7 L3105.0,861.4 L3107.0,867.2 L3109.0,872.9 L3111.0,878.5 L3113.0,884.2 L3115.0,889.8 L3117.0,895.3 L3119.0,900.8 L3121.0,906.3 L3123.0,911.7 L3125.0,917.0 L3127.0,922.3 L3129.0,927.6 L3131.0,932.8 L3133.0,937.9 L3135.0,943.0 L3137.0,948.0 L3139.0,953.0 L3141.0,957.9 L3143.0,962.8 L3145.0,967.6 L3147.0,972.3 L3149.0,977.0 L3151.0,981.7 L3153.0,986.3 L3155.0,990.9 L3157.0,995.4 L3159.0,999.9 L3161.0,1004.3 L3163.0,1008.7 L3165.0,1013.1 L3167.0,1017.5 L3169.0,1021.8 L3171.0,1026.1 L3173.0,1030.3 L3175.0,1034.5 L3177.0,1038.7 L3179.0,1042.9 L3181.0,1047.0 L3183.0,1051.1 L3185.0,1055.2 L3187.0,1059.2 L3189.0,1063.2 L3191.0,1067.2 L3193.0,1071.1 L3195.0,1075.0 L3197.0,1078.9 L3199.0,1082.8 L3201.0,1086.6 L3203.0,1090.4 L3205.0,1094.2 L3207.0,1097.9 L3209.0,1101.6 L3211.0,1105.3 L3213.0,1108.9 L3215.0,1112.6 L3217.0,1116.1 L3219.0,1119.7 L3221.0,1123.2 L3223.0,1126.6 L3225.0,1130.0 L3227.0,1133.4 L3229.0,1136.8 L3231.0,1140.1 L3233.0,1143.3 L3235.0,1146.5 L3237.0,1149.7 L3239.0,1152.8 L3241.0,1155.9 L3243.0,1158.9 L3245.0,1161.9 L3247.0,1164.9 L3249.0,1167.8 L3251.0,1170.7 L3253.0,1173.5 L3255.0,1176.4 L3257.0,1179.2 L3259.0,1182.0 L3261.0,1184.7 L3263.0,1187.5 L3265.0,1190.2 L3267.0,1192.9 L3269.0,1195.6 L3271.0,1198.3 L3273.0,1201.0 L3275.0,1203.7 L3277.0,1206.4 L3279.0,1209.1 L3281.0,1211.7 L3283.0,1214.4 L3285.0,1217.0 L3287.0,1219.6 L3289.0,1222.2 L3291.0,1224.8 L3293.0,1227.4 L3295.0,1229.9 L3297.0,1232.4 L3299.0,1234.9 L3301.0,1237.3 L3303.0,1239.7 L3305.0,1242.0 L3307.0,1244.4 L3309.0,1246.6 L3311.0,1248.9 L3313.0,1251.1 L3315.0,1253.3 L3317.0,1255.4 L3319.0,1257.5 L3321.0,1259.5 L3323.0,1261.5 L3325.0,1263.5 L3327.0,1265.5 L3329.0,1267.4 L3331.0,1269.3 L3333.0,1271.1 L3335.0,1273.0 L3337.0,1274.8 L3339.0,1276.5 L3341.0,1278.3 L3343.0,1280.0 L3345.0,1281.7 L3347.0,1283.4 L3349.0,1285.0 L3351.0,1286.7 L3353.0,1288.3 L3355.0,1289.9 L3357.0,1291.5 L3359.0,1293.1 L3361.0,1294.6 L3363.0,1296.2 L3365.0,1297.7 L3367.0,1299.2 L3369.0,1300.8 L3371.0,1302.3 L3373.0,1303.8 L3375.0,1305.3 L3377.0,1306.7 L3379.0,1308.2 L3381.0,1309.7 L3383.0,1311.1 L3385.0,1312.6 L3387.0,1314.0 L3389.0,1315.4 L3391.0,1316.9 L3393.0,1318.3 L3395.0,1319.6 L3397.0,1321.0 L3399.0,1322.4 L3401.0,1323.7 L3403.0,1325.1 L3405.0,1326.4 L3407.0,1327.7 L3409.0,1329.0 L3411.0,1330.3 L3413.0,1331.5 L3415.0,1332.8 L3417.0,1334.0 L3419.0,1335.2 L3421.0,1336.4 L3423.0,1337.6 L3425.0,1338.7 L3427.0,1339.9 L3429.0,1341.0 L3431.0,1342.1 L3433.0,1343.2 L3435.0,1344.3 L3437.0,1345.3 L3439.0,1346.4 L3441.0,1347.4 L3443.0,1348.4 L3445.0,1349.4 L3447.0,1350.3 L3449.0,1351.3 L3451.0,1352.2 L3453.0,1353.2 L3455.0,1354.1 L3457.0,1354.9 L3459.0,1355.8 L3461.0,1356.7 L3463.0,1357.5 L3465.0,1358.4 L3467.0,1359.2 L3469.0,1360.0 L3471.0,1360.8 L3473.0,1361.6 L3475.0,1362.3 L3477.0,1363.1 L3479.0,1363.9 L3481.0,1364.6 L3483.0,1365.3 L3485.0,1366.1 L3487.0,1366.8 L3489.0,1367.5 L3491.0,1368.2 L3493.0,1368.9 L3495.0,1369.6 L3497.0,1370.3 L3499.0,1370.9 L3501.0,1371.6 L3503.0,1372.3 L3505.0,1372.9 L3507.0,1373.5 L3509.0,1374.2 L3511.0,1374.8 L3513.0,1375.4 L3515.0,1376.0 L3517.0,1376.6 L3519.0,1377.2 L3521.0,1377.8 L3523.0,1378.4 L3525.0,1379.0 L3527.0,1379.5 L3529.0,1380.1 L3531.0,1380.6 L3533.0,1381.1 L3535.0,1381.7 L3537.0,1382.2 L3539.0,1382.7 L3541.0,1383.2 L3543.0,1383.7 L3545.0,1384.2 L3547.0,1384.6 L3549.0,1385.1 L3551.0,1385.5 L3553.0,1386.0 L3555.0,1386.4 L3557.0,1386.9 L3559.0,1387.3 L3561.0,1387.7 L3563.0,1388.1 L3565.0,1388.6 L3567.0,1389.0 L3569.0,1389.4 L3571.0,1389.8 L3573.0,1390.1 L3575.0,1390.5 L3577.0,1390.9 L3579.0,1391.3 L3581.0,1391.7 L3583.0,1392.0 L3585.0,1392.4 L3587.0,1392.8 L3589.0,1393.1 L3591.0,1393.5 L3593.0,1393.8 L3595.0,1394.2 L3597.0,1394.5 L3599.0,1394.9 L3601.0,1395.2 L3603.0,1395.6 L3605.0,1395.9 L3607.0,1396.3 L3609.0,1396.6 L3611.0,1396.9 L3613.0,1397.2 L3615.0,1397.6 L3617.0,1397.9 L3619.0,1398.2 L3621.0,1398.5 L3623.0,1398.8 L3625.0,1399.2 L3627.0,1399.5 L3629.0,1399.8 L3631.0,1400.1 L3633.0,1400.4 L3635.0,1400.7 L3637.0,1400.9 L3639.0,1401.2 L3641.0,1401.5 L3643.0,1401.8 L3645.0,1402.0 L3647.0,1402.3 L3649.0,1402.6 L3651.0,1402.8 L3653.0,1403.1 L3655.0,1403.4 L3657.0,1403.6 L3659.0,1403.9 L3661.0,1404.1 L3663.0,1404.3 L3665.0,1404.6 L3667.0,1404.8 L3669.0,1405.1 L3671.0,1405.3 L3673.0,1405.5 L3675.0,1405.8 L3677.0,1406.0 L3679.0,1406.2 L3681.0,1406.4 L3683.0,1406.7 L3685.0,1406.9 L3687.0,1407.1 L3689.0,1407.3 L3691.0,1407.6 L3693.0,1407.8 L3695.0,1408.0 L3697.0,1408.2 L3699.0,1408.4 L3701.0,1408.7 L3703.0,1408.9 L3705.0,1409.1 L3707.0,1409.3 L3709.0,1409.5 L3711.0,1409.7 L3713.0,1409.8 L3715.0,1410.0 L3717.0,1410.2 L3719.0,1410.3 L3721.0,1410.5 L3723.0,1410.6 L3725.0,1410.8 L3727.0,1410.9 L3729.0,1411.0 L3731.0,1411.1 L3733.0,1411.2 L3735.0,1411.3 L3737.0,1411.4 L3739.0,1411.4 L3741.0,1411.5 L3743.0,1411.5 L3745.0,1411.6 L3747.0,1411.6 L3749.0,1411.5 L3751.0,1411.1 L3753.0,1410.3 L3755.0,1409.1 L3757.0,1407.4 L3759.0,1405.4 L3761.0,1403.0 L3763.0,1400.4 L3765.0,1397.7 L3767.0,1394.7 L3769.0,1391.7 L3771.0,1388.6 L3773.0,1385.5 L3775.0,1382.5 L3777.0,1380.1 L3777.3,1379.5" stroke="#ff0000" stroke-width="13" fill="none" stroke-linejoin="round" stroke-linecap="butt"/>
<path d="M151.0,1657.6 L152.0,1657.6 L153.0,1657.7 L154.0,1657.8 L155.0,1657.9 L156.0,1657.9 L157.0,1658.0 L158.0,1658.1 L159.0,1658.2 L160.0,1658.3 L161.0,1658.4 L162.0,1658.5 L163.0,1658.6 L164.0,1658.7 L165.0,1658.8 L166.0,1658.8 L167.0,1658.9 L168.0,1659.0 L169.0,1659.1 L170.0,1659.2 L171.0,1659.3 L172.0,1659.4 L173.0,1659.5 L174.0,1659.6 L175.0,1659.7 L176.0,1659.7 L177.0,1659.8 L178.0,1659.9 L179.0,1660.0 L180.0,1660.1 L181.0,1660.2 L182.0,1660.3 L183.0,1660.4 L184.0,1660.5 L185.0,1660.6 L186.0,1660.6 L187.0,1660.7 L188.0,1660.8 L189.0,1660.9 L190.0,1661.0 L191.0,1661.1 L192.0,1661.2 L193.0,1661.3 L194.0,1661.4 L195.0,1661.5 L196.0,1661.6 L197.0,1661.6 L198.0,1661.7 L199.0,1661.8 L200.0,1661.9 L201.0,1662.0 L202.0,1662.1 L203.0,1662.2 L204.0,1662.3 L205.0,1662.4 L206.0,1662.5 L207.0,1662.6 L208.0,1662.6 L209.0,1662.7 L210.0,1662.8 L211.0,1662.9 L212.0,1663.0 L213.0,1663.1 L214.0,1663.2 L215.0,1663.3 L216.0,1663.4 L217.0,1663.5 L218.0,1663.6 L219.0,1663.6 L220.0,1663.7 L221.0,1663.8 L222.0,1663.9 L223.0,1664.0 L224.0,1664.1 L225.0,1664.2 L226.0,1664.3 L227.0,1664.4 L228.0,1664.5 L229.0,1664.6 L230.0,1664.7 L231.0,1664.7 L232.0,1664.8 L233.0,1664.9 L234.0,1665.0 L235.0,1665.1 L236.0,1665.2 L237.0,1665.3 L238.0,1665.4 L239.0,1665.5 L240.0,1665.6 L241.0,1665.7 L242.0,1665.8 L243.0,1665.8 L244.0,1665.9 L245.0,1666.0 L246.0,1666.1 L247.0,1666.2 L248.0,1666.3 L249.0,1666.4 L250.0,1666.5 L251.0,1666.6 L252.0,1666.7 L253.0,1666.8 L254.0,1666.9 L255.0,1666.9 L256.0,1667.0 L257.0,1667.1 L258.0,1667.2 L259.0,1667.3 L260.0,1667.4 L261.0,1667.5 L262.0,1667.6 L263.0,1667.7 L264.0,1667.8 L265.0,1667.9 L266.0,1668.0 L267.0,1668.1 L268.0,1668.2 L269.0,1668.2 L270.0,1668.3 L271.0,1668.4 L272.0,1668.5 L273.0,1668.6 L274.0,1668.7 L275.0,1668.8 L276.0,1668.9 L277.0,1669.0 L278.0,1669.1 L279.0,1669.2 L280.0,1669.3 L281.0,1669.4 L282.0,1669.4 L283.0,1669.5 L284.0,1669.6 L285.0,1669.7 L286.0,1669.8 L287.0,1669.9 L288.0,1670.0 L289.0,1670.1 L290.0,1670.2 L291.0,1670.3 L292.0,1670.4 L293.0,1670.5 L294.0,1670.6 L295.0,1670.7 L296.0,1670.8 L297.0,1670.8 L298.0,1670.9 L299.0,1671.0 L300.0,1671.1 L301.0,1671.2 L302.0,1671.3 L303.0,1671.4 L304.0,1671.5 L305.0,1671.6 L306.0,1671.7 L307.0,1671.8 L308.0,1671.9 L309.0,1672.0 L310.0,1672.1 L311.0,1672.2 L312.0,1672.2 L313.0,1672.3 L314.0,1672.4 L315.0,1672.5 L316.0,1672.6 L317.0,1672.7 L318.0,1672.8 L319.0,1672.9 L320.0,1673.0 L321.0,1673.1 L322.0,1673.2 L323.0,1673.3 L324.0,1673.4 L325.0,1673.5 L326.0,1673.6 L327.0,1673.7 L328.0,1673.7 L329.0,1673.8 L330.0,1673.9 L331.0,1674.0 L332.0,1674.1 L333.0,1674.2 L334.0,1674.3 L335.0,1674.4 L336.0,1674.5 L337.0,1674.6 L338.0,1674.7 L339.0,1674.8 L340.0,1674.9 L341.0,1675.0 L342.0,1675.1 L343.0,1675.2 L344.0,1675.3 L345.0,1675.3 L346.0,1675.4 L347.0,1675.5 L348.0,1675.6 L349.0,1675.7 L350.0,1675.8 L351.0,1675.9 L352.0,1676.0 L353.0,1676.1 L354.0,1676.2 L355.0,1676.3 L356.0,1676.4 L357.0,1676.5 L358.0,1676.6 L359.0,1676.7 L360.0,1676.8 L361.0,1676.9 L362.0,1677.0 L363.0,1677.0 L364.0,1677.1 L365.0,1677.2 L366.0,1677.3 L367.0,1677.4 L368.0,1677.5 L369.0,1677.6 L370.0,1677.7 L371.0,1677.8 L372.0,1677.9 L373.0,1678.0 L374.0,1678.1 L375.0,1678.2 L376.0,1678.3 L377.0,1678.4 L378.0,1678.5 L379.0,1678.6 L380.0,1678.7 L381.0,1678.8 L382.0,1678.9 L383.0,1679.0 L384.0,1679.0 L385.0,1679.1 L386.0,1679.2 L387.0,1679.3 L388.0,1679.4 L389.0,1679.5 L390.0,1679.6 L391.0,1679.7 L392.0,1679.8 L393.0,1679.9 L394.0,1680.0 L395.0,1680.1 L396.0,1680.2 L397.0,1680.3 L398.0,1680.4 L399.0,1680.5 L400.0,1680.6 L401.0,1680.7 L402.0,1680.8 L403.0,1680.9 L404.0,1681.0 L405.0,1681.1 L406.0,1681.2 L407.0,1681.3 L408.0,1681.4 L409.0,1681.5 L410.0,1681.6 L411.0,1681.7 L412.0,1681.8 L413.0,1681.9 L414.0,1682.0 L415.0,1682.1 L416.0,1682.2 L417.0,1682.3 L418.0,1682.4 L419.0,1682.5 L420.0,1682.6 L421.0,1682.7 L422.0,1682.8 L423.0,1682.9 L424.0,1683.0 L425.0,1683.1 L426.0,1683.2 L427.0,1683.3 L428.0,1683.4 L429.0,1683.5 L430.0,1683.6 L431.0,1683.7 L432.0,1683.8 L433.0,1683.9 L434.0,1684.0 L435.0,1684.2 L436.0,1684.3 L437.0,1684.4 L438.0,1684.5 L439.0,1684.6 L440.0,1684.7 L441.0,1684.8 L442.0,1684.9 L443.0,1685.0 L444.0,1685.1 L445.0,1685.2 L446.0,1685.3 L447.0,1685.4 L448.0,1685.5 L449.0,1685.6 L450.0,1685.7 L451.0,1685.9 L452.0,1686.0 L453.0,1686.1 L454.0,1686.2 L455.0,1686.3 L456.0,1686.4 L457.0,1686.5 L458.0,1686.6 L459.0,1686.7 L460.0,1686.8 L461.0,1686.9 L462.0,1687.0 L463.0,1687.2 L464.0,1687.3 L465.0,1687.4 L466.0,1687.5 L467.0,1687.6 L468.0,1687.7 L469.0,1687.8 L470.0,1687.9 L471.0,1688.0 L472.0,1688.1 L473.0,1688.2 L474.0,1688.3 L475.0,1688.5 L476.0,1688.6 L477.0,1688.7 L478.0,1688.8 L479.0,1688.9 L480.0,1689.0 L481.0,1689.1 L482.0,1689.2 L483.0,1689.3 L484.0,1689.4 L485.0,1689.6 L486.0,1689.7 L487.0,1689.8 L488.0,1689.9 L489.0,1690.0 L490.0,1690.1 L491.0,1690.2 L492.0,1690.3 L493.0,1690.4 L494.0,1690.5 L495.0,1690.6 L496.0,1690.8 L497.0,1690.9 L498.0,1691.0 L499.0,1691.1 L500.0,1691.2 L501.0,1691.3 L502.0,1691.4 L503.0,1691.5 L504.0,1691.6 L505.0,1691.7 L506.0,1691.8 L507.0,1691.9 L508.0,1692.1 L509.0,1692.2 L510.0,1692.3 L511.0,1692.4 L512.0,1692.5 L513.0,1692.6 L514.0,1692.7 L515.0,1692.8 L516.0,1692.9 L517.0,1693.0 L518.0,1693.1 L519.0,1693.2 L520.0,1693.3 L521.0,1693.5 L522.0,1693.6 L523.0,1693.7 L524.0,1693.8 L525.0,1693.9 L526.0,1694.0 L527.0,1694.1 L528.0,1694.2 L529.0,1694.3 L530.0,1694.4 L531.0,1694.5 L532.0,1694.6 L533.0,1694.7 L534.0,1694.8 L535.0,1694.9 L536.0,1695.0 L537.0,1695.1 L538.0,1695.2 L539.0,1695.3 L540.0,1695.4 L541.0,1695.6 L542.0,1695.7 L543.0,1695.8 L544.0,1695.9 L545.0,1696.0 L546.0,1696.1 L547.0,1696.2 L548.0,1696.3 L549.0,1696.4 L550.0,1696.5 L551.0,1696.6 L552.0,1696.7 L553.0,1696.8 L554.0,1696.9 L555.0,1697.0 L556.0,1697.1 L557.0,1697.2 L558.0,1697.3 L559.0,1697.4 L560.0,1697.5 L561.0,1697.6 L562.0,1697.7 L563.0,1697.8 L564.0,1697.9 L565.0,1698.0 L566.0,1698.1 L567.0,1698.2 L568.0,1698.2 L569.0,1698.3 L570.0,1698.4 L571.0,1698.5 L572.0,1698.6 L573.0,1698.7 L574.0,1698.8 L575.0,1698.9 L576.0,1699.0 L577.0,1699.1 L578.0,1699.2 L579.0,1699.3 L580.0,1699.4 L581.0,1699.5 L582.0,1699.6 L583.0,1699.7 L584.0,1699.7 L585.0,1699.8 L586.0,1699.9 L587.0,1700.0 L588.0,1700.1 L589.0,1700.2 L590.0,1700.3 L591.0,1700.4 L592.0,1700.5 L593.0,1700.6 L594.0,1700.6 L595.0,1700.7 L596.0,1700.8 L597.0,1700.9 L598.0,1701.0 L599.0,1701.1 L600.0,1701.2 L601.0,1701.2 L602.0,1701.3 L603.0,1701.4 L604.0,1701.5 L605.0,1701.6 L606.0,1701.7 L607.0,1701.7 L608.0,1701.8 L609.0,1701.9 L610.0,1702.0 L611.0,1702.1 L612.0,1702.1 L613.0,1702.2 L614.0,1702.3 L615.0,1702.4 L616.0,1702.5 L617.0,1702.5 L618.0,1702.6 L619.0,1702.7 L620.0,1702.8 L621.0,1702.8 L622.0,1702.9 L623.0,1703.0 L624.0,1703.1 L625.0,1703.1 L626.0,1703.2 L627.0,1703.3 L628.0,1703.4 L629.0,1703.4 L630.0,1703.5 L631.0,1703.6 L632.0,1703.6 L633.0,1703.7 L634.0,1703.8 L635.0,1703.9 L636.0,1703.9 L637.0,1704.0 L638.0,1704.1 L639.0,1704.1 L640.0,1704.2 L641.0,1704.3 L642.0,1704.3 L643.0,1704.4 L644.0,1704.5 L645.0,1704.6 L646.0,1704.6 L647.0,1704.7 L648.0,1704.8 L649.0,1704.8 L650.0,1704.9 L651.0,1705.0 L652.0,1705.1 L653.0,1705.1 L654.0,1705.2 L655.0,1705.3 L656.0,1705.3 L657.0,1705.4 L658.0,1705.5 L659.0,1705.6 L660.0,1705.6 L661.0,1705.7 L662.0,1705.8 L663.0,1705.8 L664.0,1705.9 L665.0,1706.0 L666.0,1706.1 L667.0,1706.1 L668.0,1706.2 L669.0,1706.3 L670.0,1706.3 L671.0,1706.4 L672.0,1706.5 L673.0,1706.6 L674.0,1706.6 L675.0,1706.7 L676.0,1706.8 L677.0,1706.8 L678.0,1706.9 L679.0,1707.0 L680.0,1707.0 L681.0,1707.1 L682.0,1707.2 L683.0,1707.3 L684.0,1707.3 L685.0,1707.4 L686.0,1707.5 L687.0,1707.5 L688.0,1707.6 L689.0,1707.7 L690.0,1707.7 L691.0,1707.8 L692.0,1707.9 L693.0,1707.9 L694.0,1708.0 L695.0,1708.1 L696.0,1708.1 L697.0,1708.2 L698.0,1708.2 L699.0,1708.3 L700.0,1708.4 L701.0,1708.4 L702.0,1708.5 L703.0,1708.5 L704.0,1708.6 L705.0,1708.7 L706.0,1708.7 L707.0,1708.8 L708.0,1708.8 L709.0,1708.9 L710.0,1708.9 L711.0,1709.0 L712.0,1709.1 L713.0,1709.1 L714.0,1709.2 L715.0,1709.2 L716.0,1709.3 L717.0,1709.3 L718.0,1709.4 L719.0,1709.4 L720.0,1709.5 L721.0,1709.5 L722.0,1709.5 L723.0,1709.6 L724.0,1709.6 L725.0,1709.7 L726.0,1709.7 L727.0,1709.8 L728.0,1709.8 L729.0,1709.8 L730.0,1709.9 L731.0,1709.9 L732.0,1709.9 L733.0,1710.0 L734.0,1710.0 L735.0,1710.0 L736.0,1710.1 L737.0,1710.1 L738.0,1710.1 L739.0,1710.2 L740.0,1710.2 L741.0,1710.2 L742.0,1710.2 L743.0,1710.3 L744.0,1710.3 L745.0,1710.3 L746.0,1710.3 L747.0,1710.3 L748.0,1710.3 L749.0,1710.4 L750.0,1710.4 L751.0,1710.4 L752.0,1710.4 L753.0,1710.4 L754.0,1710.4 L755.0,1710.4 L756.0,1710.4 L757.0,1710.4 L758.0,1710.4 L759.0,1710.4 L760.0,1710.4 L761.0,1710.4 L762.0,1710.4 L763.0,1710.4 L764.0,1710.4 L765.0,1710.3 L766.0,1710.3 L767.0,1710.3 L768.0,1710.3 L769.0,1710.3 L770.0,1710.2 L771.0,1710.2 L772.0,1710.2 L773.0,1710.1 L774.0,1710.1 L775.0,1710.1 L776.0,1710.0 L777.0,1710.0 L778.0,1710.0 L779.0,1709.9 L780.0,1709.9 L781.0,1709.8 L782.0,1709.8 L783.0,1709.7 L784.0,1709.7 L785.0,1709.6 L786.0,1709.5 L787.0,1709.5 L788.0,1709.4 L789.0,1709.3 L790.0,1709.3 L791.0,1709.2 L792.0,1709.1 L793.0,1709.1 L794.0,1709.0 L795.0,1708.9 L796.0,1708.8 L797.0,1708.7 L798.0,1708.7 L799.0,1708.6 L800.0,1708.5 L801.0,1708.4 L802.0,1708.3 L803.0,1708.2 L804.0,1708.1 L805.0,1708.0 L806.0,1707.9 L807.0,1707.8 L808.0,1707.7 L809.0,1707.6 L810.0,1707.5 L811.0,1707.4 L812.0,1707.3 L813.0,1707.2 L814.0,1707.0 L815.0,1706.9 L816.0,1706.8 L817.0,1706.7 L818.0,1706.6 L819.0,1706.5 L820.0,1706.3 L821.0,1706.2 L822.0,1706.1 L823.0,1705.9 L824.0,1705.8 L825.0,1705.7 L826.0,1705.6 L827.0,1705.4 L828.0,1705.3 L829.0,1705.1 L830.0,1705.0 L831.0,1704.9 L832.0,1704.7 L833.0,1704.6 L834.0,1704.4 L835.0,1704.3 L836.0,1704.1 L837.0,1704.0 L838.0,1703.8 L839.0,1703.7 L840.0,1703.5 L841.0,1703.3 L842.0,1703.2 L843.0,1703.0 L844.0,1702.8 L845.0,1702.6 L846.0,1702.4 L847.0,1702.2 L848.0,1702.0 L849.0,1701.8 L850.0,1701.6 L851.0,1701.4 L852.0,1701.2 L853.0,1700.9 L854.0,1700.7 L855.0,1700.4 L856.0,1700.1 L857.0,1699.9 L858.0,1699.6 L859.0,1699.3 L860.0,1699.0 L861.0,1698.7 L862.0,1698.3 L863.0,1698.0 L864.0,1697.6 L865.0,1697.3 L866.0,1696.9 L867.0,1696.5 L868.0,1696.1 L869.0,1695.7 L870.0,1695.3 L871.0,1694.8 L872.0,1694.4 L873.0,1693.9 L874.0,1693.5 L875.0,1693.0 L876.0,1692.5 L877.0,1692.0 L878.0,1691.5 L879.0,1691.0 L880.0,1690.5 L881.0,1689.9 L882.0,1689.4 L883.0,1688.8 L884.0,1688.2 L885.0,1687.6 L886.0,1687.0 L887.0,1686.4 L888.0,1685.8 L889.0,1685.2 L890.0,1684.5 M1070.0,1849.1 L1071.0,1849.6 L1072.0,1849.9 L1073.0,1850.2 L1074.0,1850.3 L1075.0,1850.3 L1076.0,1850.1 L1077.0,1849.4 M1157.0,1683.1 L1158.0,1683.7 L1159.0,1684.3 L1160.0,1684.9 L1161.0,1685.5 L1162.0,1686.1 L1163.0,1686.7 L1164.0,1687.2 L1165.0,1687.8 L1166.0,1688.3 L1167.0,1688.8 L1168.0,1689.2 L1169.0,1689.7 L1170.0,1690.1 L1171.0,1690.5 L1172.0,1690.9 L1173.0,1691.2 L1174.0,1691.6 L1175.0,1691.8 L1176.0,1692.1 L1177.0,1692.4 L1178.0,1692.6 L1179.0,1692.8 L1180.0,1692.9 L1181.0,1693.0 L1182.0,1693.1 L1183.0,1693.2 L1184.0,1693.2 L1185.0,1693.3 L1186.0,1693.3 L1187.0,1693.2 L1188.0,1693.2 L1189.0,1693.1 L1190.0,1693.0 L1191.0,1692.9 L1192.0,1692.8 L1193.0,1692.6 L1194.0,1692.5 L1195.0,1692.3 L1196.0,1692.2 L1197.0,1692.0 L1198.0,1691.8 L1199.0,1691.6 L1200.0,1691.4 L1201.0,1691.2 L1202.0,1690.9 L1203.0,1690.7 L1204.0,1690.5 L1205.0,1690.2 L1206.0,1690.0 L1207.0,1689.7 L1208.0,1689.5 L1209.0,1689.2 L1210.0,1689.0 L1211.0,1688.7 L1212.0,1688.5 L1213.0,1688.2 L1214.0,1687.9 L1215.0,1687.7 L1216.0,1687.4 L1217.0,1687.1 L1218.0,1686.8 L1219.0,1686.5 L1220.0,1686.2 L1221.0,1685.9 L1222.0,1685.6 L1223.0,1685.3 L1224.0,1685.0 L1225.0,1684.7 L1226.0,1684.4 L1227.0,1684.1 L1228.0,1683.7 L1229.0,1683.4 L1230.0,1683.1 L1231.0,1682.7 L1232.0,1682.3 L1233.0,1682.0 L1234.0,1681.6 L1235.0,1681.2 L1236.0,1680.8 L1237.0,1680.4 L1238.0,1680.0 L1239.0,1679.6 L1240.0,1679.1 L1241.0,1678.7 L1242.0,1678.2 L1243.0,1677.8 L1244.0,1677.3 L1245.0,1676.8 L1246.0,1676.2 L1247.0,1675.7 L1248.0,1675.1 L1249.0,1674.6 L1250.0,1674.0 L1251.0,1673.4 L1252.0,1672.7 L1253.0,1672.1 M1527.0,1825.7 L1528.0,1826.3 L1529.0,1826.9 L1530.0,1827.4 L1531.0,1827.8 L1532.0,1828.2 L1533.0,1828.6 L1534.0,1828.9 L1535.0,1829.1 L1536.0,1829.3 L1537.0,1829.5 L1538.0,1829.6 L1539.0,1829.7 L1540.0,1829.7 L1541.0,1829.7 L1542.0,1829.7 L1543.0,1829.6 L1544.0,1829.5 L1545.0,1829.4 L1546.0,1829.3 L1547.0,1829.1 L1548.0,1828.8 L1549.0,1828.6 L1550.0,1828.3 L1551.0,1828.0 L1552.0,1827.7 L1553.0,1827.3 L1554.0,1826.9 L1555.0,1826.5 L1556.0,1826.1 L1557.0,1825.6 L1558.0,1825.1 L1559.0,1824.5 L1560.0,1823.9 L1561.0,1823.3 L1562.0,1822.7 M1646.0,1699.5 L1647.0,1698.9 L1648.0,1698.4 L1649.0,1698.2 L1650.0,1698.2 L1651.0,1698.4 L1652.0,1698.8 L1653.0,1699.3 M1687.0,1735.0 L1688.0,1735.7 L1689.0,1736.3 L1690.0,1736.9 L1691.0,1737.5 L1692.0,1738.1 L1693.0,1738.6 L1694.0,1739.2 L1695.0,1739.7 L1696.0,1740.2 L1697.0,1740.7 L1698.0,1741.2 L1699.0,1741.7 L1700.0,1742.2 L1701.0,1742.6 L1702.0,1743.0 L1703.0,1743.4 L1704.0,1743.8 L1705.0,1744.2 L1706.0,1744.6 L1707.0,1745.0 L1708.0,1745.4 L1709.0,1745.7 L1710.0,1746.1 L1711.0,1746.4 L1712.0,1746.8 L1713.0,1747.1 L1714.0,1747.4 L1715.0,1747.7 L1716.0,1748.1 L1717.0,1748.4 L1718.0,1748.7 L1719.0,1749.0 L1720.0,1749.3 L1721.0,1749.6 L1722.0,1749.9 L1723.0,1750.1 L1724.0,1750.4 L1725.0,1750.7 L1726.0,1750.9 L1727.0,1751.2 L1728.0,1751.4 L1729.0,1751.7 L1730.0,1751.9 L1731.0,1752.1 L1732.0,1752.3 L1733.0,1752.5 L1734.0,1752.7 L1735.0,1752.9 L1736.0,1753.1 L1737.0,1753.3 L1738.0,1753.4 L1739.0,1753.6 L1740.0,1753.7 L1741.0,1753.8 L1742.0,1754.0 L1743.0,1754.1 L1744.0,1754.2 L1745.0,1754.3 L1746.0,1754.3 L1747.0,1754.4 L1748.0,1754.5 L1749.0,1754.5 L1750.0,1754.6 L1751.0,1754.6 L1752.0,1754.6 L1753.0,1754.6 L1754.0,1754.7 L1755.0,1754.7 L1756.0,1754.7 L1757.0,1754.7 L1758.0,1754.6 L1759.0,1754.6 L1760.0,1754.6 L1761.0,1754.6 L1762.0,1754.5 L1763.0,1754.5 L1764.0,1754.5 L1765.0,1754.4 L1766.0,1754.4 L1767.0,1754.3 L1768.0,1754.3 L1769.0,1754.2 L1770.0,1754.1 L1771.0,1754.1 L1772.0,1754.0 L1773.0,1753.9 L1774.0,1753.8 L1775.0,1753.8 L1776.0,1753.7 L1777.0,1753.6 L1778.0,1753.5 L1779.0,1753.4 L1780.0,1753.3 L1781.0,1753.2 L1782.0,1753.1 L1783.0,1752.9 L1784.0,1752.8 L1785.0,1752.7 L1786.0,1752.6 L1787.0,1752.4 L1788.0,1752.3 L1789.0,1752.1 L1790.0,1751.9 L1791.0,1751.8 L1792.0,1751.6 L1793.0,1751.4 L1794.0,1751.1 L1795.0,1750.9 L1796.0,1750.7 L1797.0,1750.4 L1798.0,1750.1 L1799.0,1749.8 L1800.0,1749.5 L1801.0,1749.2 L1802.0,1748.9 L1803.0,1748.5 L1804.0,1748.1 L1805.0,1747.7 L1806.0,1747.3 L1807.0,1746.9 L1808.0,1746.4 L1809.0,1746.0 L1810.0,1745.5 L1811.0,1745.0 L1812.0,1744.5 L1813.0,1744.0 L1814.0,1743.4 L1815.0,1742.9 L1816.0,1742.3 L1817.0,1741.8 L1818.0,1741.2 L1819.0,1740.6 L1820.0,1740.0 L1821.0,1739.4 L1822.0,1738.8 L1823.0,1738.1 L1824.0,1737.5 L1825.0,1736.9 L1826.0,1736.2 M1932.0,1650.6 L1933.0,1649.9 L1934.0,1649.3 L1935.0,1648.7 L1936.0,1648.0 L1937.0,1647.4 L1938.0,1646.8 L1939.0,1646.2 L1940.0,1645.6 L1941.0,1645.0 L1942.0,1644.4 L1943.0,1643.9 L1944.0,1643.3 L1945.0,1642.8 L1946.0,1642.2 L1947.0,1641.7 L1948.0,1641.2 L1949.0,1640.7 L1950.0,1640.2 L1951.0,1639.7 L1952.0,1639.3 L1953.0,1638.8 L1954.0,1638.4 L1955.0,1637.9 L1956.0,1637.5 L1957.0,1637.1 L1958.0,1636.7 L1959.0,1636.3 L1960.0,1636.0 L1961.0,1635.6 L1962.0,1635.3 L1963.0,1634.9 L1964.0,1634.6 L1965.0,1634.3 L1966.0,1634.0 L1967.0,1633.7 L1968.0,1633.4 L1969.0,1633.1 L1970.0,1632.8 L1971.0,1632.5 L1972.0,1632.3 L1973.0,1632.0 L1974.0,1631.8 L1975.0,1631.5 L1976.0,1631.3 L1977.0,1631.1 L1978.0,1630.8 L1979.0,1630.6 L1980.0,1630.4 L1981.0,1630.2 L1982.0,1630.0 L1983.0,1629.8 L1984.0,1629.6 L1985.0,1629.4 L1986.0,1629.2 L1987.0,1629.0 L1988.0,1628.8 L1989.0,1628.7 L1990.0,1628.5 L1991.0,1628.3 L1992.0,1628.2 L1993.0,1628.0 L1994.0,1627.9 L1995.0,1627.7 L1996.0,1627.6 L1997.0,1627.5 L1998.0,1627.3 L1999.0,1627.2 L2000.0,1627.1 L2001.0,1627.0 L2002.0,1626.9 L2003.0,1626.8 L2004.0,1626.7 L2005.0,1626.6 L2006.0,1626.5 L2007.0,1626.4 L2008.0,1626.4 L2009.0,1626.3 L2010.0,1626.2 L2011.0,1626.2 L2012.0,1626.1 L2013.0,1626.0 L2014.0,1626.0 L2015.0,1625.9 L2016.0,1625.9 L2017.0,1625.8 L2018.0,1625.8 L2019.0,1625.8 L2020.0,1625.7 L2021.0,1625.7 L2022.0,1625.7 L2023.0,1625.6 L2024.0,1625.6 L2025.0,1625.6 L2026.0,1625.6 L2027.0,1625.6 L2028.0,1625.6 L2029.0,1625.6 L2030.0,1625.6 L2031.0,1625.6 L2032.0,1625.6 L2033.0,1625.7 L2034.0,1625.7 L2035.0,1625.8 L2036.0,1625.9 L2037.0,1626.0 L2038.0,1626.1 L2039.0,1626.2 L2040.0,1626.3 L2041.0,1626.5 L2042.0,1626.7 L2043.0,1626.9 L2044.0,1627.1 L2045.0,1627.4 L2046.0,1627.6 L2047.0,1627.9 L2048.0,1628.2 L2049.0,1628.5 L2050.0,1628.9 L2051.0,1629.3 L2052.0,1629.7 L2053.0,1630.1 L2054.0,1630.5 L2055.0,1630.9 L2056.0,1631.4 L2057.0,1631.9 L2058.0,1632.4 L2059.0,1632.9 L2060.0,1633.4 L2061.0,1633.9 L2062.0,1634.5 L2063.0,1635.0 L2064.0,1635.6 L2065.0,1636.1 L2066.0,1636.7 L2067.0,1637.3 L2068.0,1637.8 L2069.0,1638.4 L2070.0,1639.0 L2071.0,1639.6 L2072.0,1640.2 L2073.0,1640.8 L2074.0,1641.5 L2075.0,1642.1 L2076.0,1642.7 L2077.0,1643.3 L2078.0,1644.0 L2079.0,1644.6 L2080.0,1645.3 M2258.0,1800.8 L2259.0,1801.4 L2260.0,1802.0 L2261.0,1802.7 L2262.0,1803.3 L2263.0,1804.0 L2264.0,1804.6 L2265.0,1805.2 L2266.0,1805.9 L2267.0,1806.5 L2268.0,1807.1 L2269.0,1807.7 L2270.0,1808.4 L2271.0,1809.0 L2272.0,1809.6 L2273.0,1810.2 L2274.0,1810.8 L2275.0,1811.4 L2276.0,1812.0 L2277.0,1812.6 L2278.0,1813.2 L2279.0,1813.8 L2280.0,1814.4 L2281.0,1815.0 L2282.0,1815.6 L2283.0,1816.1 L2284.0,1816.7 L2285.0,1817.3 L2286.0,1817.8 L2287.0,1818.4 L2288.0,1819.0 L2289.0,1819.5 L2290.0,1820.1 L2291.0,1820.6 L2292.0,1821.2 L2293.0,1821.7 L2294.0,1822.3 L2295.0,1822.8 L2296.0,1823.4 L2297.0,1823.9 L2298.0,1824.5 L2299.0,1825.0 L2300.0,1825.5 L2301.0,1826.1 L2302.0,1826.6 L2303.0,1827.1 L2304.0,1827.6 L2305.0,1828.2 L2306.0,1828.7 L2307.0,1829.2 L2308.0,1829.7 L2309.0,1830.2 L2310.0,1830.8 L2311.0,1831.3 L2312.0,1831.8 L2313.0,1832.3 L2314.0,1832.8 L2315.0,1833.3 L2316.0,1833.8 L2317.0,1834.3 L2318.0,1834.8 L2319.0,1835.3 L2320.0,1835.8 L2321.0,1836.3 L2322.0,1836.8 L2323.0,1837.2 L2324.0,1837.7 L2325.0,1838.2 L2326.0,1838.6 L2327.0,1839.1 L2328.0,1839.5 L2329.0,1840.0 L2330.0,1840.4 L2331.0,1840.9 L2332.0,1841.3 L2333.0,1841.7 L2334.0,1842.1 L2335.0,1842.5 L2336.0,1842.9 L2337.0,1843.3 L2338.0,1843.7 L2339.0,1844.1 L2340.0,1844.4 L2341.0,1844.8 L2342.0,1845.1 L2343.0,1845.5 L2344.0,1845.8 L2345.0,1846.2 L2346.0,1846.5 L2347.0,1846.8 L2348.0,1847.1 L2349.0,1847.4 L2350.0,1847.7 L2351.0,1848.0 L2352.0,1848.3 L2353.0,1848.6 L2354.0,1848.9 L2355.0,1849.1 L2356.0,1849.4 L2357.0,1849.7 L2358.0,1849.9 L2359.0,1850.2 L2360.0,1850.4 L2361.0,1850.7 L2362.0,1850.9 L2363.0,1851.2 L2364.0,1851.4 L2365.0,1851.7 L2366.0,1851.9 L2367.0,1852.1 L2368.0,1852.4 L2369.0,1852.6 L2370.0,1852.8 L2371.0,1853.1 L2372.0,1853.3 L2373.0,1853.5 L2374.0,1853.7 L2375.0,1853.9 L2376.0,1854.1 L2377.0,1854.3 L2378.0,1854.5 L2379.0,1854.7 L2380.0,1854.9 L2381.0,1855.1 L2382.0,1855.3 L2383.0,1855.5 L2384.0,1855.7 L2385.0,1855.8 L2386.0,1856.0 L2387.0,1856.2 L2388.0,1856.3 L2389.0,1856.5 L2390.0,1856.6 L2391.0,1856.8 L2392.0,1856.9 L2393.0,1857.0 L2394.0,1857.2 L2395.0,1857.3 L2396.0,1857.4 L2397.0,1857.5 L2398.0,1857.6 L2399.0,1857.7 L2400.0,1857.8 L2401.0,1857.9 L2402.0,1857.9 L2403.0,1858.0 L2404.0,1858.1 L2405.0,1858.1 L2406.0,1858.2 L2407.0,1858.2 L2408.0,1858.2 L2409.0,1858.3 L2410.0,1858.3 L2411.0,1858.3 L2412.0,1858.3 L2413.0,1858.4 L2414.0,1858.4 L2415.0,1858.4 L2416.0,1858.4 L2417.0,1858.4 L2418.0,1858.4 L2419.0,1858.3 L2420.0,1858.3 L2421.0,1858.3 L2422.0,1858.3 L2423.0,1858.3 L2424.0,1858.2 L2425.0,1858.2 L2426.0,1858.2 L2427.0,1858.1 L2428.0,1858.1 L2429.0,1858.0 L2430.0,1858.0 L2431.0,1857.9 L2432.0,1857.9 L2433.0,1857.8 L2434.0,1857.8 L2435.0,1857.7 L2436.0,1857.7 L2437.0,1857.6 L2438.0,1857.5 L2439.0,1857.5 L2440.0,1857.4 L2441.0,1857.3 L2442.0,1857.3 L2443.0,1857.2 L2444.0,1857.1 L2445.0,1857.0 L2446.0,1857.0 L2447.0,1856.9 L2448.0,1856.8 L2449.0,1856.7 L2450.0,1856.6 L2451.0,1856.5 L2452.0,1856.4 L2453.0,1856.4 L2454.0,1856.3 L2455.0,1856.2 L2456.0,1856.1 L2457.0,1856.0 L2458.0,1855.9 L2459.0,1855.8 L2460.0,1855.7 L2461.0,1855.6 L2462.0,1855.5 L2463.0,1855.4 L2464.0,1855.2 L2465.0,1855.1 L2466.0,1855.0 L2467.0,1854.9 L2468.0,1854.8 L2469.0,1854.6 L2470.0,1854.5 L2471.0,1854.4 L2472.0,1854.2 L2473.0,1854.1 L2474.0,1853.9 L2475.0,1853.8 L2476.0,1853.6 L2477.0,1853.5 L2478.0,1853.3 L2479.0,1853.1 L2480.0,1852.9 L2481.0,1852.7 L2482.0,1852.5 L2483.0,1852.3 L2484.0,1852.1 L2485.0,1851.9 L2486.0,1851.7 L2487.0,1851.4 L2488.0,1851.2 L2489.0,1850.9 L2490.0,1850.7 L2491.0,1850.4 L2492.0,1850.2 L2493.0,1849.9 L2494.0,1849.6 L2495.0,1849.3 L2496.0,1849.0 L2497.0,1848.7 L2498.0,1848.4 L2499.0,1848.1 L2500.0,1847.8 L2501.0,1847.5 L2502.0,1847.2 L2503.0,1846.9 L2504.0,1846.5 L2505.0,1846.2 L2506.0,1845.9 L2507.0,1845.5 L2508.0,1845.2 L2509.0,1844.9 L2510.0,1844.5 L2511.0,1844.2 L2512.0,1843.8 L2513.0,1843.5 L2514.0,1843.1 L2515.0,1842.7 L2516.0,1842.4 L2517.0,1842.0 L2518.0,1841.7 L2519.0,1841.3 L2520.0,1840.9 L2521.0,1840.6 L2522.0,1840.2 L2523.0,1839.8 L2524.0,1839.5 L2525.0,1839.1 L2526.0,1838.7 L2527.0,1838.3 L2528.0,1838.0 L2529.0,1837.6 L2530.0,1837.2 L2531.0,1836.8 L2532.0,1836.5 L2533.0,1836.1 L2534.0,1835.7 L2535.0,1835.3 L2536.0,1834.9 L2537.0,1834.6 L2538.0,1834.2 L2539.0,1833.8 L2540.0,1833.4 L2541.0,1833.0 L2542.0,1832.6 L2543.0,1832.2 L2544.0,1831.8 L2545.0,1831.4 L2546.0,1831.0 L2547.0,1830.6 L2548.0,1830.2 L2549.0,1829.8 L2550.0,1829.4 L2551.0,1829.0 L2552.0,1828.5 L2553.0,1828.1 L2554.0,1827.7 L2555.0,1827.3 L2556.0,1826.8 L2557.0,1826.4 L2558.0,1826.0 L2559.0,1825.5 L2560.0,1825.1 L2561.0,1824.6 L2562.0,1824.2 L2563.0,1823.7 L2564.0,1823.2 L2565.0,1822.8 L2566.0,1822.3 L2567.0,1821.8 L2568.0,1821.4 L2569.0,1820.9 L2570.0,1820.4 L2571.0,1819.9 L2572.0,1819.4 L2573.0,1818.9 L2574.0,1818.4 L2575.0,1817.9 L2576.0,1817.4 L2577.0,1816.9 L2578.0,1816.3 L2579.0,1815.8 L2580.0,1815.3 L2581.0,1814.7 L2582.0,1814.2 L2583.0,1813.6 L2584.0,1813.1 L2585.0,1812.5 L2586.0,1812.0 L2587.0,1811.4 L2588.0,1810.8 L2589.0,1810.2 L2590.0,1809.6 L2591.0,1809.0 L2592.0,1808.4 L2593.0,1807.8 L2594.0,1807.2 L2595.0,1806.6 L2596.0,1805.9 L2597.0,1805.3 M3239.0,1545.1 L3240.0,1545.8 L3241.0,1546.4 L3242.0,1547.0 L3243.0,1547.6 L3244.0,1548.2 L3245.0,1548.8 L3246.0,1549.4 L3247.0,1550.0 L3248.0,1550.5 L3249.0,1551.1 L3250.0,1551.6 L3251.0,1552.1 L3252.0,1552.7 L3253.0,1553.2 L3254.0,1553.7 L3255.0,1554.2 L3256.0,1554.6 L3257.0,1555.1 L3258.0,1555.6 L3259.0,1556.0 L3260.0,1556.5 L3261.0,1556.9 L3262.0,1557.3 L3263.0,1557.7 L3264.0,1558.1 L3265.0,1558.5 L3266.0,1558.9 L3267.0,1559.3 L3268.0,1559.7 L3269.0,1560.0 L3270.0,1560.4 L3271.0,1560.7 L3272.0,1561.1 L3273.0,1561.4 L3274.0,1561.7 L3275.0,1562.1 L3276.0,1562.4 L3277.0,1562.7 L3278.0,1563.0 L3279.0,1563.3 L3280.0,1563.6 L3281.0,1563.9 L3282.0,1564.1 L3283.0,1564.4 L3284.0,1564.7 L3285.0,1565.0 L3286.0,1565.2 L3287.0,1565.5 L3288.0,1565.7 L3289.0,1566.0 L3290.0,1566.2 L3291.0,1566.4 L3292.0,1566.7 L3293.0,1566.9 L3294.0,1567.1 L3295.0,1567.3 L3296.0,1567.5 L3297.0,1567.7 L3298.0,1567.9 L3299.0,1568.0 L3300.0,1568.2 L3301.0,1568.4 L3302.0,1568.5 L3303.0,1568.6 L3304.0,1568.8 L3305.0,1568.9 L3306.0,1569.0 L3307.0,1569.1 L3308.0,1569.2 L3309.0,1569.3 L3310.0,1569.4 L3311.0,1569.4 L3312.0,1569.5 L3313.0,1569.5 L3314.0,1569.6 L3315.0,1569.6 L3316.0,1569.7 L3317.0,1569.7 L3318.0,1569.7 L3319.0,1569.7 L3320.0,1569.7 L3321.0,1569.7 L3322.0,1569.7 L3323.0,1569.7 L3324.0,1569.7 L3325.0,1569.6 L3326.0,1569.6 L3327.0,1569.6 L3328.0,1569.6 L3329.0,1569.5 L3330.0,1569.5 L3331.0,1569.5 L3332.0,1569.4 L3333.0,1569.4 L3334.0,1569.3 L3335.0,1569.3 L3336.0,1569.2 L3337.0,1569.2 L3338.0,1569.1 L3339.0,1569.0 L3340.0,1569.0 L3341.0,1568.9 L3342.0,1568.8 L3343.0,1568.8 L3344.0,1568.7 L3345.0,1568.6 L3346.0,1568.6 L3347.0,1568.5 L3348.0,1568.4 L3349.0,1568.3 L3350.0,1568.2 L3351.0,1568.2 L3352.0,1568.1 L3353.0,1568.0 L3354.0,1567.9 L3355.0,1567.8 L3356.0,1567.7 L3357.0,1567.5 L3358.0,1567.4 L3359.0,1567.3 L3360.0,1567.2 L3361.0,1567.1 L3362.0,1566.9 L3363.0,1566.8 L3364.0,1566.6 L3365.0,1566.5 L3366.0,1566.3 L3367.0,1566.2 L3368.0,1566.0 L3369.0,1565.8 L3370.0,1565.7 L3371.0,1565.5 L3372.0,1565.3 L3373.0,1565.1 L3374.0,1564.9 L3375.0,1564.7 L3376.0,1564.5 L3377.0,1564.3 L3378.0,1564.1 L3379.0,1563.8 L3380.0,1563.6 L3381.0,1563.4 L3382.0,1563.2 L3383.0,1562.9 L3384.0,1562.7 L3385.0,1562.4 L3386.0,1562.2 L3387.0,1561.9 L3388.0,1561.7 L3389.0,1561.4 L3390.0,1561.1 L3391.0,1560.9 L3392.0,1560.6 L3393.0,1560.3 L3394.0,1560.1 L3395.0,1559.8 L3396.0,1559.5 L3397.0,1559.2 L3398.0,1559.0 L3399.0,1558.7 L3400.0,1558.4 L3401.0,1558.1 L3402.0,1557.8 L3403.0,1557.5 L3404.0,1557.2 L3405.0,1556.9 L3406.0,1556.6 L3407.0,1556.3 L3408.0,1556.0 L3409.0,1555.7 L3410.0,1555.4 L3411.0,1555.1 L3412.0,1554.8 L3413.0,1554.5 L3414.0,1554.2 L3415.0,1553.9 L3416.0,1553.6 L3417.0,1553.3 L3418.0,1553.0 L3419.0,1552.6 L3420.0,1552.3 L3421.0,1552.0 L3422.0,1551.7 L3423.0,1551.3 L3424.0,1551.0 L3425.0,1550.7 L3426.0,1550.3 L3427.0,1550.0 L3428.0,1549.6 L3429.0,1549.3 L3430.0,1548.9 L3431.0,1548.6 L3432.0,1548.2 L3433.0,1547.8 L3434.0,1547.5 L3435.0,1547.1 L3436.0,1546.7 L3437.0,1546.3 L3438.0,1545.9 L3439.0,1545.6 L3440.0,1545.2 L3441.0,1544.8 L3442.0,1544.4 L3443.0,1544.0 L3444.0,1543.6 L3445.0,1543.2 L3446.0,1542.8 L3447.0,1542.4 L3448.0,1541.9 L3449.0,1541.5 L3450.0,1541.1 L3451.0,1540.7 L3452.0,1540.3 L3453.0,1539.8 L3454.0,1539.4 L3455.0,1539.0 L3456.0,1538.6 L3457.0,1538.1 L3458.0,1537.7 L3459.0,1537.3 L3460.0,1536.8 L3461.0,1536.4 L3462.0,1535.9 L3463.0,1535.5 L3464.0,1535.1 L3465.0,1534.6 L3466.0,1534.2 L3467.0,1533.7 L3468.0,1533.3 L3469.0,1532.8 L3470.0,1532.4 L3471.0,1531.9 L3472.0,1531.4 L3473.0,1531.0 L3474.0,1530.5 L3475.0,1530.1 L3476.0,1529.6 L3477.0,1529.2 L3478.0,1528.7 L3479.0,1528.2 L3480.0,1527.8 L3481.0,1527.3 L3482.0,1526.8 L3483.0,1526.3 L3484.0,1525.9 L3485.0,1525.4 L3486.0,1524.9 L3487.0,1524.4 L3488.0,1524.0 L3489.0,1523.5 L3490.0,1523.0 L3491.0,1522.5 L3492.0,1522.0 L3493.0,1521.5 L3494.0,1521.0 L3495.0,1520.5 L3496.0,1520.0 L3497.0,1519.5 L3498.0,1519.0 L3499.0,1518.5 L3500.0,1518.0 L3501.0,1517.5 L3502.0,1517.0 L3503.0,1516.5 L3504.0,1516.0 L3505.0,1515.4 L3506.0,1514.9 L3507.0,1514.4 L3508.0,1513.9 L3509.0,1513.3 L3510.0,1512.8 L3511.0,1512.2 L3512.0,1511.7 L3513.0,1511.2 L3514.0,1510.6 L3515.0,1510.1 L3516.0,1509.5 L3517.0,1508.9 L3518.0,1508.4 L3519.0,1507.8 L3520.0,1507.2 L3521.0,1506.7 L3522.0,1506.1 L3523.0,1505.5 L3524.0,1504.9 L3525.0,1504.3 L3526.0,1503.7 L3527.0,1503.2 L3528.0,1502.6 L3529.0,1501.9 L3530.0,1501.3 L3531.0,1500.7 L3532.0,1500.1 L3533.0,1499.5 L3534.0,1498.9 L3535.0,1498.2 L3536.0,1497.6 L3537.0,1496.9 L3538.0,1496.3 M3632.0,1413.1 L3633.0,1412.5 L3634.0,1411.9 L3635.0,1411.5 L3636.0,1411.0 L3637.0,1410.7 L3638.0,1410.4 L3639.0,1410.2 L3640.0,1410.1 L3641.0,1410.1 L3642.0,1410.2 L3643.0,1410.3 L3644.0,1410.6 L3645.0,1411.0 L3646.0,1411.4 L3647.0,1412.0 L3648.0,1412.6 M3744.0,1521.1 L3745.0,1521.7 L3746.0,1522.2 L3747.0,1522.6 L3748.0,1522.9 L3749.0,1523.1 L3750.0,1523.1 L3751.0,1523.0 L3752.0,1522.8 L3753.0,1522.4 L3754.0,1521.8" stroke="#2e2e2e" stroke-width="8.5" stroke-dasharray="3.6 6.1" fill="none"/>
<path d="M890.0,1684.5 L891.0,1683.9 L892.0,1683.2 L893.0,1682.5 L894.0,1681.8 L895.0,1681.0 L896.0,1680.3 L897.0,1679.5 L898.0,1678.7 L899.0,1677.9 L900.0,1677.1 L901.0,1676.3 L902.0,1675.4 L903.0,1674.5 L904.0,1673.6 L905.0,1672.6 L906.0,1671.6 L907.0,1670.7 L908.0,1669.6 L909.0,1668.6 L910.0,1667.5 L911.0,1666.4 L912.0,1665.3 L913.0,1664.2 L914.0,1663.0 L915.0,1661.8 L916.0,1660.6 L917.0,1659.4 L918.0,1658.1 L919.0,1656.8 L920.0,1655.5 L921.0,1654.2 L922.0,1652.8 L923.0,1651.4 L924.0,1649.9 L925.0,1648.5 L926.0,1647.0 L927.0,1645.5 L928.0,1643.9 L929.0,1642.4 L930.0,1640.7 L931.0,1639.1 L932.0,1637.4 L933.0,1635.7 L934.0,1633.9 L935.0,1632.1 L936.0,1630.2 L937.0,1628.2 L938.0,1626.2 L939.0,1624.1 L940.0,1621.9 L941.0,1619.6 L942.0,1617.3 L943.0,1614.8 L944.0,1612.1 L945.0,1609.3 L946.0,1606.3 L947.0,1603.1 L948.0,1599.6 L949.0,1595.9 L950.0,1591.8 L951.0,1587.4 L952.0,1582.7 L953.0,1577.6 L954.0,1572.1 L955.0,1566.2 L956.0,1560.0 L957.0,1553.4 L958.0,1546.5 L959.0,1539.5 L960.0,1532.4 L961.0,1525.3 L962.0,1518.4 L963.0,1511.7 L964.0,1505.3 L965.0,1499.3 L966.0,1493.6 L967.0,1488.3 L968.0,1483.2 L969.0,1478.3 L970.0,1473.4 L971.0,1468.6 L972.0,1463.5 L973.0,1458.3 L974.0,1452.8 L975.0,1446.9 L976.0,1440.8 L977.0,1434.3 L978.0,1427.5 L979.0,1420.2 L980.0,1412.3 L981.0,1403.5 L982.0,1393.6 L983.0,1382.1 L984.0,1368.8 L985.0,1353.9 L986.0,1338.1 L987.0,1322.1 L988.0,1306.4 L989.0,1290.8 L990.0,1275.2 L991.0,1259.7 L992.0,1244.8 L993.0,1231.3 L994.0,1220.2 L995.0,1212.4 L996.0,1208.0 L997.0,1206.9 L998.0,1208.2 L999.0,1211.5 L1000.0,1216.2 L1001.0,1222.1 L1002.0,1229.2 L1003.0,1237.2 L1004.0,1246.0 L1005.0,1255.5 L1006.0,1265.6 L1007.0,1276.1 L1008.0,1287.0 L1009.0,1298.0 L1010.0,1309.2 L1011.0,1320.4 L1012.0,1331.8 L1013.0,1343.6 L1014.0,1356.2 L1015.0,1369.6 L1016.0,1383.9 L1017.0,1398.8 L1018.0,1414.1 L1019.0,1429.7 L1020.0,1445.6 L1021.0,1461.8 L1022.0,1478.4 L1023.0,1495.1 L1024.0,1511.9 L1025.0,1528.3 L1026.0,1544.3 L1027.0,1559.6 L1028.0,1574.2 L1029.0,1588.0 L1030.0,1601.0 L1031.0,1613.4 L1032.0,1625.2 L1033.0,1636.5 L1034.0,1647.3 L1035.0,1657.7 L1036.0,1667.8 L1037.0,1678.1 L1038.0,1687.9 L1039.0,1697.2 L1040.0,1706.2 L1041.0,1714.8 L1042.0,1723.1 L1043.0,1731.0 L1044.0,1738.7 L1045.0,1746.1 L1046.0,1753.2 L1047.0,1760.0 L1048.0,1766.7 L1049.0,1773.1 L1050.0,1779.3 L1051.0,1785.3 L1052.0,1791.0 L1053.0,1796.4 L1054.0,1801.5 L1055.0,1806.1 L1056.0,1810.5 L1057.0,1814.6 L1058.0,1818.5 L1059.0,1822.3 L1060.0,1826.0 L1061.0,1829.5 L1062.0,1833.0 L1063.0,1836.2 L1064.0,1839.2 L1065.0,1841.8 L1066.0,1844.1 L1067.0,1846.0 L1068.0,1847.4 L1069.0,1848.4 L1070.0,1849.1 M1077.0,1849.4 L1078.0,1848.4 L1079.0,1847.0 L1080.0,1845.1 L1081.0,1842.9 L1082.0,1840.4 L1083.0,1837.6 L1084.0,1834.6 L1085.0,1831.3 L1086.0,1827.9 L1087.0,1824.4 L1088.0,1820.8 L1089.0,1817.1 L1090.0,1813.5 L1091.0,1809.8 L1092.0,1806.2 L1093.0,1802.7 L1094.0,1799.2 L1095.0,1795.6 L1096.0,1791.8 L1097.0,1787.9 L1098.0,1783.8 L1099.0,1779.6 L1100.0,1775.3 L1101.0,1770.9 L1102.0,1766.4 L1103.0,1762.0 L1104.0,1757.5 L1105.0,1753.1 L1106.0,1748.8 L1107.0,1744.6 L1108.0,1740.4 L1109.0,1736.2 L1110.0,1732.2 L1111.0,1728.3 L1112.0,1724.5 L1113.0,1720.8 L1114.0,1717.1 L1115.0,1713.5 L1116.0,1710.0 L1117.0,1706.4 L1118.0,1702.9 L1119.0,1699.4 L1120.0,1696.0 L1121.0,1692.6 L1122.0,1689.4 L1123.0,1686.4 L1124.0,1683.4 L1125.0,1680.7 L1126.0,1678.1 L1127.0,1675.7 L1128.0,1673.6 L1129.0,1671.7 L1130.0,1669.9 L1131.0,1668.4 L1132.0,1666.9 L1133.0,1665.6 L1134.0,1664.3 L1135.0,1663.1 L1136.0,1662.2 L1137.0,1661.4 L1138.0,1660.9 L1139.0,1660.6 L1140.0,1660.7 L1141.0,1661.2 L1142.0,1662.0 L1143.0,1663.1 L1144.0,1664.5 L1145.0,1666.1 L1146.0,1667.8 L1147.0,1669.6 L1148.0,1671.5 L1149.0,1673.4 L1150.0,1675.2 L1151.0,1676.9 L1152.0,1678.4 L1153.0,1679.7 L1154.0,1680.8 L1155.0,1681.6 L1156.0,1682.4 L1157.0,1683.1 M1253.0,1672.1 L1254.0,1671.4 L1255.0,1670.7 L1256.0,1670.0 L1257.0,1669.3 L1258.0,1668.6 L1259.0,1667.8 L1260.0,1667.0 L1261.0,1666.2 L1262.0,1665.4 L1263.0,1664.5 L1264.0,1663.7 L1265.0,1662.8 L1266.0,1661.9 L1267.0,1660.9 L1268.0,1660.0 L1269.0,1659.0 L1270.0,1658.1 L1271.0,1657.1 L1272.0,1656.1 L1273.0,1655.1 L1274.0,1654.1 L1275.0,1653.0 L1276.0,1652.0 L1277.0,1650.9 L1278.0,1649.8 L1279.0,1648.7 L1280.0,1647.7 L1281.0,1646.5 L1282.0,1645.4 L1283.0,1644.3 L1284.0,1643.2 L1285.0,1642.0 L1286.0,1640.9 L1287.0,1639.7 L1288.0,1638.5 L1289.0,1637.3 L1290.0,1636.1 L1291.0,1634.9 L1292.0,1633.6 L1293.0,1632.4 L1294.0,1631.1 L1295.0,1629.8 L1296.0,1628.5 L1297.0,1627.2 L1298.0,1625.9 L1299.0,1624.5 L1300.0,1623.1 L1301.0,1621.7 L1302.0,1620.3 L1303.0,1618.8 L1304.0,1617.3 L1305.0,1615.8 L1306.0,1614.3 L1307.0,1612.7 L1308.0,1611.1 L1309.0,1609.5 L1310.0,1607.8 L1311.0,1606.1 L1312.0,1604.4 L1313.0,1602.6 L1314.0,1600.8 L1315.0,1598.9 L1316.0,1597.0 L1317.0,1595.0 L1318.0,1593.1 L1319.0,1591.1 L1320.0,1589.1 L1321.0,1587.1 L1322.0,1585.0 L1323.0,1582.8 L1324.0,1580.6 L1325.0,1578.3 L1326.0,1576.0 L1327.0,1573.7 L1328.0,1571.2 L1329.0,1568.8 L1330.0,1566.3 L1331.0,1563.7 L1332.0,1561.1 L1333.0,1558.5 L1334.0,1555.8 L1335.0,1553.1 L1336.0,1550.4 L1337.0,1547.7 L1338.0,1544.9 L1339.0,1542.2 L1340.0,1539.4 L1341.0,1536.6 L1342.0,1533.8 L1343.0,1531.0 L1344.0,1528.2 L1345.0,1525.3 L1346.0,1522.5 L1347.0,1519.7 L1348.0,1516.8 L1349.0,1513.9 L1350.0,1511.0 L1351.0,1508.1 L1352.0,1505.0 L1353.0,1502.0 L1354.0,1498.8 L1355.0,1495.6 L1356.0,1492.2 L1357.0,1488.7 L1358.0,1485.1 L1359.0,1481.3 L1360.0,1477.3 L1361.0,1473.2 L1362.0,1468.9 L1363.0,1464.4 L1364.0,1459.7 L1365.0,1454.9 L1366.0,1449.9 L1367.0,1444.7 L1368.0,1439.5 L1369.0,1434.2 L1370.0,1428.9 L1371.0,1423.5 L1372.0,1418.0 L1373.0,1412.5 L1374.0,1407.0 L1375.0,1401.3 L1376.0,1395.2 L1377.0,1388.6 L1378.0,1381.5 L1379.0,1374.0 L1380.0,1366.4 L1381.0,1359.0 L1382.0,1352.0 L1383.0,1345.7 L1384.0,1340.3 L1385.0,1336.2 L1386.0,1333.5 L1387.0,1332.1 L1388.0,1332.0 L1389.0,1332.8 L1390.0,1334.4 L1391.0,1336.6 L1392.0,1339.3 L1393.0,1342.4 L1394.0,1346.0 L1395.0,1349.9 L1396.0,1354.1 L1397.0,1358.6 L1398.0,1363.3 L1399.0,1368.1 L1400.0,1372.9 L1401.0,1377.8 L1402.0,1382.7 L1403.0,1387.5 L1404.0,1392.2 L1405.0,1396.8 L1406.0,1401.3 L1407.0,1405.7 L1408.0,1410.2 L1409.0,1414.7 L1410.0,1419.4 L1411.0,1424.1 L1412.0,1428.9 L1413.0,1433.8 L1414.0,1438.8 L1415.0,1443.8 L1416.0,1448.9 L1417.0,1454.0 L1418.0,1459.2 L1419.0,1464.5 L1420.0,1469.7 L1421.0,1475.1 L1422.0,1480.4 L1423.0,1485.8 L1424.0,1491.3 L1425.0,1496.8 L1426.0,1502.3 L1427.0,1508.0 L1428.0,1513.6 L1429.0,1519.4 L1430.0,1525.2 L1431.0,1531.1 L1432.0,1536.9 L1433.0,1542.8 L1434.0,1548.7 L1435.0,1554.6 L1436.0,1560.4 L1437.0,1566.2 L1438.0,1572.0 L1439.0,1577.7 L1440.0,1583.4 L1441.0,1589.0 L1442.0,1594.5 L1443.0,1599.9 L1444.0,1605.3 L1445.0,1610.6 L1446.0,1615.8 L1447.0,1620.9 L1448.0,1626.0 L1449.0,1631.0 L1450.0,1635.9 L1451.0,1640.7 L1452.0,1645.5 L1453.0,1650.2 L1454.0,1654.7 L1455.0,1659.2 L1456.0,1663.6 L1457.0,1668.0 L1458.0,1672.3 L1459.0,1676.6 L1460.0,1680.8 L1461.0,1684.9 L1462.0,1688.9 L1463.0,1692.8 L1464.0,1696.6 L1465.0,1700.3 L1466.0,1704.0 L1467.0,1707.5 L1468.0,1711.0 L1469.0,1714.4 L1470.0,1717.7 L1471.0,1720.9 L1472.0,1724.1 L1473.0,1727.2 L1474.0,1730.2 L1475.0,1733.1 L1476.0,1736.0 L1477.0,1738.9 L1478.0,1741.6 L1479.0,1744.3 L1480.0,1747.0 L1481.0,1749.6 L1482.0,1752.2 L1483.0,1754.7 L1484.0,1757.2 L1485.0,1759.6 L1486.0,1762.0 L1487.0,1764.4 L1488.0,1766.7 L1489.0,1769.0 L1490.0,1771.2 L1491.0,1773.4 L1492.0,1775.6 L1493.0,1777.7 L1494.0,1779.8 L1495.0,1781.9 L1496.0,1783.9 L1497.0,1785.9 L1498.0,1787.9 L1499.0,1789.8 L1500.0,1791.7 L1501.0,1793.5 L1502.0,1795.3 L1503.0,1797.0 L1504.0,1798.7 L1505.0,1800.4 L1506.0,1802.0 L1507.0,1803.6 L1508.0,1805.1 L1509.0,1806.6 L1510.0,1808.0 L1511.0,1809.4 L1512.0,1810.8 L1513.0,1812.1 L1514.0,1813.4 L1515.0,1814.6 L1516.0,1815.8 L1517.0,1816.9 L1518.0,1818.0 L1519.0,1819.1 L1520.0,1820.1 L1521.0,1821.0 L1522.0,1821.9 L1523.0,1822.8 L1524.0,1823.6 L1525.0,1824.4 L1526.0,1825.1 L1527.0,1825.7 M1562.0,1822.7 L1563.0,1822.0 L1564.0,1821.3 L1565.0,1820.6 L1566.0,1819.8 L1567.0,1819.0 L1568.0,1818.1 L1569.0,1817.3 L1570.0,1816.4 L1571.0,1815.4 L1572.0,1814.4 L1573.0,1813.4 L1574.0,1812.4 L1575.0,1811.3 L1576.0,1810.2 L1577.0,1809.0 L1578.0,1807.9 L1579.0,1806.6 L1580.0,1805.4 L1581.0,1804.2 L1582.0,1802.9 L1583.0,1801.7 L1584.0,1800.3 L1585.0,1799.0 L1586.0,1797.6 L1587.0,1796.2 L1588.0,1794.7 L1589.0,1793.2 L1590.0,1791.7 L1591.0,1790.2 L1592.0,1788.6 L1593.0,1787.0 L1594.0,1785.5 L1595.0,1783.8 L1596.0,1782.2 L1597.0,1780.6 L1598.0,1778.9 L1599.0,1777.3 L1600.0,1775.6 L1601.0,1773.9 L1602.0,1772.3 L1603.0,1770.6 L1604.0,1768.9 L1605.0,1767.2 L1606.0,1765.4 L1607.0,1763.7 L1608.0,1762.0 L1609.0,1760.2 L1610.0,1758.4 L1611.0,1756.7 L1612.0,1754.9 L1613.0,1753.1 L1614.0,1751.3 L1615.0,1749.4 L1616.0,1747.6 L1617.0,1745.8 L1618.0,1744.0 L1619.0,1742.2 L1620.0,1740.4 L1621.0,1738.6 L1622.0,1736.9 L1623.0,1735.1 L1624.0,1733.4 L1625.0,1731.7 L1626.0,1730.1 L1627.0,1728.5 L1628.0,1726.9 L1629.0,1725.3 L1630.0,1723.7 L1631.0,1722.1 L1632.0,1720.4 L1633.0,1718.7 L1634.0,1716.9 L1635.0,1715.2 L1636.0,1713.4 L1637.0,1711.7 L1638.0,1710.0 L1639.0,1708.3 L1640.0,1706.7 L1641.0,1705.2 L1642.0,1703.8 L1643.0,1702.5 L1644.0,1701.3 L1645.0,1700.3 L1646.0,1699.5 M1653.0,1699.3 L1654.0,1700.1 L1655.0,1701.0 L1656.0,1702.0 L1657.0,1703.1 L1658.0,1704.4 L1659.0,1705.7 L1660.0,1707.1 L1661.0,1708.6 L1662.0,1710.1 L1663.0,1711.6 L1664.0,1713.1 L1665.0,1714.7 L1666.0,1716.2 L1667.0,1717.6 L1668.0,1719.0 L1669.0,1720.4 L1670.0,1721.6 L1671.0,1722.8 L1672.0,1723.8 L1673.0,1724.7 L1674.0,1725.5 L1675.0,1726.4 L1676.0,1727.2 L1677.0,1727.9 L1678.0,1728.7 L1679.0,1729.5 L1680.0,1730.2 L1681.0,1730.9 L1682.0,1731.6 L1683.0,1732.3 L1684.0,1733.0 L1685.0,1733.7 L1686.0,1734.4 L1687.0,1735.0 M1826.0,1736.2 L1827.0,1735.6 L1828.0,1734.9 L1829.0,1734.2 L1830.0,1733.6 L1831.0,1732.9 L1832.0,1732.2 L1833.0,1731.5 L1834.0,1730.8 L1835.0,1730.0 L1836.0,1729.3 L1837.0,1728.6 L1838.0,1727.8 L1839.0,1727.1 L1840.0,1726.3 L1841.0,1725.6 L1842.0,1724.8 L1843.0,1724.0 L1844.0,1723.2 L1845.0,1722.4 L1846.0,1721.6 L1847.0,1720.8 L1848.0,1720.0 L1849.0,1719.2 L1850.0,1718.4 L1851.0,1717.5 L1852.0,1716.7 L1853.0,1715.9 L1854.0,1715.0 L1855.0,1714.2 L1856.0,1713.4 L1857.0,1712.5 L1858.0,1711.7 L1859.0,1710.8 L1860.0,1710.0 L1861.0,1709.1 L1862.0,1708.2 L1863.0,1707.4 L1864.0,1706.5 L1865.0,1705.7 L1866.0,1704.8 L1867.0,1703.9 L1868.0,1703.1 L1869.0,1702.2 L1870.0,1701.3 L1871.0,1700.5 L1872.0,1699.6 L1873.0,1698.7 L1874.0,1697.9 L1875.0,1697.0 L1876.0,1696.1 L1877.0,1695.2 L1878.0,1694.3 L1879.0,1693.4 L1880.0,1692.6 L1881.0,1691.7 L1882.0,1690.8 L1883.0,1689.9 L1884.0,1689.0 L1885.0,1688.1 L1886.0,1687.2 L1887.0,1686.3 L1888.0,1685.4 L1889.0,1684.5 L1890.0,1683.6 L1891.0,1682.7 L1892.0,1681.8 L1893.0,1680.9 L1894.0,1680.0 L1895.0,1679.1 L1896.0,1678.2 L1897.0,1677.3 L1898.0,1676.4 L1899.0,1675.6 L1900.0,1674.7 L1901.0,1673.8 L1902.0,1673.0 L1903.0,1672.1 L1904.0,1671.3 L1905.0,1670.4 L1906.0,1669.6 L1907.0,1668.8 L1908.0,1668.0 L1909.0,1667.2 L1910.0,1666.4 L1911.0,1665.6 L1912.0,1664.8 L1913.0,1664.0 L1914.0,1663.3 L1915.0,1662.5 L1916.0,1661.7 L1917.0,1661.0 L1918.0,1660.3 L1919.0,1659.5 L1920.0,1658.8 L1921.0,1658.1 L1922.0,1657.4 L1923.0,1656.7 L1924.0,1656.0 L1925.0,1655.3 L1926.0,1654.6 L1927.0,1653.9 L1928.0,1653.2 L1929.0,1652.6 L1930.0,1651.9 L1931.0,1651.2 L1932.0,1650.6 M2080.0,1645.3 L2081.0,1645.9 L2082.0,1646.6 L2083.0,1647.2 L2084.0,1647.9 L2085.0,1648.6 L2086.0,1649.3 L2087.0,1650.0 L2088.0,1650.7 L2089.0,1651.4 L2090.0,1652.1 L2091.0,1652.8 L2092.0,1653.6 L2093.0,1654.3 L2094.0,1655.1 L2095.0,1655.8 L2096.0,1656.6 L2097.0,1657.3 L2098.0,1658.1 L2099.0,1658.9 L2100.0,1659.7 L2101.0,1660.5 L2102.0,1661.3 L2103.0,1662.1 L2104.0,1662.9 L2105.0,1663.7 L2106.0,1664.6 L2107.0,1665.4 L2108.0,1666.2 L2109.0,1667.1 L2110.0,1667.9 L2111.0,1668.8 L2112.0,1669.7 L2113.0,1670.6 L2114.0,1671.5 L2115.0,1672.4 L2116.0,1673.3 L2117.0,1674.2 L2118.0,1675.1 L2119.0,1676.1 L2120.0,1677.0 L2121.0,1678.0 L2122.0,1679.0 L2123.0,1680.0 L2124.0,1680.9 L2125.0,1682.0 L2126.0,1683.0 L2127.0,1684.0 L2128.0,1685.0 L2129.0,1686.1 L2130.0,1687.1 L2131.0,1688.2 L2132.0,1689.2 L2133.0,1690.3 L2134.0,1691.4 L2135.0,1692.5 L2136.0,1693.5 L2137.0,1694.6 L2138.0,1695.7 L2139.0,1696.8 L2140.0,1697.9 L2141.0,1699.0 L2142.0,1700.1 L2143.0,1701.2 L2144.0,1702.3 L2145.0,1703.4 L2146.0,1704.5 L2147.0,1705.6 L2148.0,1706.7 L2149.0,1707.8 L2150.0,1708.9 L2151.0,1710.0 L2152.0,1711.1 L2153.0,1712.2 L2154.0,1713.2 L2155.0,1714.3 L2156.0,1715.4 L2157.0,1716.4 L2158.0,1717.5 L2159.0,1718.5 L2160.0,1719.5 L2161.0,1720.6 L2162.0,1721.6 L2163.0,1722.6 L2164.0,1723.7 L2165.0,1724.7 L2166.0,1725.7 L2167.0,1726.7 L2168.0,1727.7 L2169.0,1728.7 L2170.0,1729.7 L2171.0,1730.7 L2172.0,1731.6 L2173.0,1732.6 L2174.0,1733.6 L2175.0,1734.6 L2176.0,1735.5 L2177.0,1736.5 L2178.0,1737.5 L2179.0,1738.4 L2180.0,1739.4 L2181.0,1740.3 L2182.0,1741.3 L2183.0,1742.2 L2184.0,1743.2 L2185.0,1744.1 L2186.0,1745.0 L2187.0,1746.0 L2188.0,1746.9 L2189.0,1747.8 L2190.0,1748.7 L2191.0,1749.6 L2192.0,1750.5 L2193.0,1751.4 L2194.0,1752.3 L2195.0,1753.2 L2196.0,1754.1 L2197.0,1755.0 L2198.0,1755.9 L2199.0,1756.7 L2200.0,1757.6 L2201.0,1758.5 L2202.0,1759.3 L2203.0,1760.2 L2204.0,1761.0 L2205.0,1761.9 L2206.0,1762.7 L2207.0,1763.5 L2208.0,1764.4 L2209.0,1765.2 L2210.0,1766.0 L2211.0,1766.8 L2212.0,1767.6 L2213.0,1768.4 L2214.0,1769.2 L2215.0,1770.0 L2216.0,1770.8 L2217.0,1771.6 L2218.0,1772.4 L2219.0,1773.2 L2220.0,1773.9 L2221.0,1774.7 L2222.0,1775.5 L2223.0,1776.2 L2224.0,1777.0 L2225.0,1777.7 L2226.0,1778.5 L2227.0,1779.2 L2228.0,1780.0 L2229.0,1780.7 L2230.0,1781.5 L2231.0,1782.2 L2232.0,1782.9 L2233.0,1783.6 L2234.0,1784.4 L2235.0,1785.1 L2236.0,1785.8 L2237.0,1786.5 L2238.0,1787.2 L2239.0,1787.9 L2240.0,1788.6 L2241.0,1789.3 L2242.0,1790.0 L2243.0,1790.7 L2244.0,1791.4 L2245.0,1792.1 L2246.0,1792.8 L2247.0,1793.4 L2248.0,1794.1 L2249.0,1794.8 L2250.0,1795.5 L2251.0,1796.1 L2252.0,1796.8 L2253.0,1797.5 L2254.0,1798.1 L2255.0,1798.8 L2256.0,1799.4 L2257.0,1800.1 L2258.0,1800.8 M2597.0,1805.3 L2598.0,1804.6 L2599.0,1803.9 L2600.0,1803.3 L2601.0,1802.6 L2602.0,1801.9 L2603.0,1801.2 L2604.0,1800.5 L2605.0,1799.7 L2606.0,1799.0 L2607.0,1798.3 L2608.0,1797.5 L2609.0,1796.8 L2610.0,1796.0 L2611.0,1795.2 L2612.0,1794.4 L2613.0,1793.7 L2614.0,1792.9 L2615.0,1792.0 L2616.0,1791.2 L2617.0,1790.4 L2618.0,1789.6 L2619.0,1788.7 L2620.0,1787.9 L2621.0,1787.0 L2622.0,1786.2 L2623.0,1785.3 L2624.0,1784.4 L2625.0,1783.6 L2626.0,1782.7 L2627.0,1781.8 L2628.0,1780.9 L2629.0,1780.0 L2630.0,1779.1 L2631.0,1778.2 L2632.0,1777.2 L2633.0,1776.3 L2634.0,1775.4 L2635.0,1774.4 L2636.0,1773.5 L2637.0,1772.5 L2638.0,1771.6 L2639.0,1770.6 L2640.0,1769.6 L2641.0,1768.7 L2642.0,1767.7 L2643.0,1766.7 L2644.0,1765.7 L2645.0,1764.7 L2646.0,1763.6 L2647.0,1762.6 L2648.0,1761.6 L2649.0,1760.5 L2650.0,1759.5 L2651.0,1758.4 L2652.0,1757.3 L2653.0,1756.3 L2654.0,1755.2 L2655.0,1754.1 L2656.0,1753.0 L2657.0,1751.9 L2658.0,1750.7 L2659.0,1749.6 L2660.0,1748.4 L2661.0,1747.3 L2662.0,1746.1 L2663.0,1744.9 L2664.0,1743.8 L2665.0,1742.6 L2666.0,1741.4 L2667.0,1740.1 L2668.0,1738.9 L2669.0,1737.7 L2670.0,1736.4 L2671.0,1735.1 L2672.0,1733.9 L2673.0,1732.6 L2674.0,1731.3 L2675.0,1730.0 L2676.0,1728.6 L2677.0,1727.3 L2678.0,1725.9 L2679.0,1724.6 L2680.0,1723.2 L2681.0,1721.8 L2682.0,1720.4 L2683.0,1719.0 L2684.0,1717.5 L2685.0,1716.1 L2686.0,1714.6 L2687.0,1713.1 L2688.0,1711.6 L2689.0,1710.1 L2690.0,1708.6 L2691.0,1707.1 L2692.0,1705.5 L2693.0,1704.0 L2694.0,1702.4 L2695.0,1700.8 L2696.0,1699.2 L2697.0,1697.6 L2698.0,1695.9 L2699.0,1694.3 L2700.0,1692.6 L2701.0,1690.9 L2702.0,1689.2 L2703.0,1687.5 L2704.0,1685.8 L2705.0,1684.1 L2706.0,1682.3 L2707.0,1680.5 L2708.0,1678.7 L2709.0,1676.9 L2710.0,1675.1 L2711.0,1673.3 L2712.0,1671.4 L2713.0,1669.5 L2714.0,1667.6 L2715.0,1665.7 L2716.0,1663.8 L2717.0,1661.8 L2718.0,1659.9 L2719.0,1657.9 L2720.0,1655.9 L2721.0,1653.8 L2722.0,1651.8 L2723.0,1649.7 L2724.0,1647.6 L2725.0,1645.5 L2726.0,1643.4 L2727.0,1641.2 L2728.0,1639.0 L2729.0,1636.8 L2730.0,1634.6 L2731.0,1632.4 L2732.0,1630.2 L2733.0,1627.9 L2734.0,1625.6 L2735.0,1623.3 L2736.0,1621.0 L2737.0,1618.7 L2738.0,1616.3 L2739.0,1614.0 L2740.0,1611.6 L2741.0,1609.2 L2742.0,1606.9 L2743.0,1604.5 L2744.0,1602.0 L2745.0,1599.6 L2746.0,1597.2 L2747.0,1594.7 L2748.0,1592.2 L2749.0,1589.8 L2750.0,1587.3 L2751.0,1584.7 L2752.0,1582.2 L2753.0,1579.7 L2754.0,1577.1 L2755.0,1574.5 L2756.0,1572.0 L2757.0,1569.3 L2758.0,1566.7 L2759.0,1564.0 L2760.0,1561.4 L2761.0,1558.7 L2762.0,1555.9 L2763.0,1553.2 L2764.0,1550.4 L2765.0,1547.6 L2766.0,1544.7 L2767.0,1541.8 L2768.0,1538.9 L2769.0,1536.0 L2770.0,1533.0 L2771.0,1530.0 L2772.0,1526.9 L2773.0,1523.9 L2774.0,1520.7 L2775.0,1517.6 L2776.0,1514.4 L2777.0,1511.2 L2778.0,1507.9 L2779.0,1504.6 L2780.0,1501.3 L2781.0,1498.0 L2782.0,1494.6 L2783.0,1491.2 L2784.0,1487.7 L2785.0,1484.2 L2786.0,1480.7 L2787.0,1477.2 L2788.0,1473.7 L2789.0,1470.1 L2790.0,1466.5 L2791.0,1462.9 L2792.0,1459.3 L2793.0,1455.6 L2794.0,1451.9 L2795.0,1448.2 L2796.0,1444.5 L2797.0,1440.8 L2798.0,1437.0 L2799.0,1433.2 L2800.0,1429.4 L2801.0,1425.6 L2802.0,1421.7 L2803.0,1417.8 L2804.0,1413.9 L2805.0,1409.9 L2806.0,1405.9 L2807.0,1401.9 L2808.0,1397.8 L2809.0,1393.8 L2810.0,1389.6 L2811.0,1385.5 L2812.0,1381.3 L2813.0,1377.0 L2814.0,1372.7 L2815.0,1368.4 L2816.0,1364.1 L2817.0,1359.7 L2818.0,1355.2 L2819.0,1350.8 L2820.0,1346.2 L2821.0,1341.7 L2822.0,1337.1 L2823.0,1332.5 L2824.0,1327.8 L2825.0,1323.1 L2826.0,1318.4 L2827.0,1313.6 L2828.0,1308.7 L2829.0,1303.9 L2830.0,1299.0 L2831.0,1294.0 L2832.0,1289.0 L2833.0,1284.0 L2834.0,1278.9 L2835.0,1273.8 L2836.0,1268.6 L2837.0,1263.4 L2838.0,1258.2 L2839.0,1252.9 L2840.0,1247.5 L2841.0,1242.1 L2842.0,1236.6 L2843.0,1231.1 L2844.0,1225.5 L2845.0,1219.9 L2846.0,1214.2 L2847.0,1208.4 L2848.0,1202.6 L2849.0,1196.7 L2850.0,1190.7 L2851.0,1184.7 L2852.0,1178.6 L2853.0,1172.4 L2854.0,1166.2 L2855.0,1159.9 L2856.0,1153.5 L2857.0,1147.0 L2858.0,1140.4 L2859.0,1133.8 L2860.0,1127.1 L2861.0,1120.3 L2862.0,1113.5 L2863.0,1106.5 L2864.0,1099.5 L2865.0,1092.5 L2866.0,1085.3 L2867.0,1078.1 L2868.0,1070.9 L2869.0,1063.5 L2870.0,1056.2 L2871.0,1048.8 L2872.0,1041.3 L2873.0,1033.8 L2874.0,1026.3 L2875.0,1018.8 L2876.0,1011.2 L2877.0,1003.6 L2878.0,996.0 L2879.0,988.4 L2880.0,980.8 L2881.0,973.2 L2882.0,965.5 L2883.0,957.9 L2884.0,950.3 L2885.0,942.6 L2886.0,935.0 L2887.0,927.4 L2888.0,919.8 L2889.0,912.2 L2890.0,904.6 L2891.0,897.0 L2892.0,889.4 L2893.0,881.8 L2894.0,874.1 L2895.0,866.5 L2896.0,858.8 L2897.0,851.1 L2898.0,843.3 L2899.0,835.4 L2900.0,827.5 L2901.0,819.6 L2902.0,811.5 L2903.0,803.3 L2904.0,795.1 L2905.0,786.7 L2906.0,778.2 L2907.0,769.7 L2908.0,761.0 L2909.0,752.3 L2910.0,743.4 L2911.0,734.5 L2912.0,725.5 L2913.0,716.4 L2914.0,707.2 L2915.0,698.0 L2916.0,688.7 L2917.0,679.3 L2918.0,669.9 L2919.0,660.4 L2920.0,650.9 L2921.0,641.4 L2922.0,631.8 L2923.0,622.3 L2924.0,612.7 L2925.0,603.1 L2926.0,593.5 L2927.0,583.8 L2928.0,574.1 L2929.0,564.4 L2930.0,554.6 L2931.0,544.7 L2932.0,534.8 L2933.0,524.9 L2934.0,514.8 L2935.0,504.7 L2936.0,494.5 L2937.0,484.2 L2938.0,473.8 L2939.0,463.1 L2940.0,451.7 L2941.0,439.5 L2942.0,426.3 L2943.0,412.6 L2944.0,399.2 L2945.0,387.2 L2946.0,377.5 L2947.0,371.1 L2948.0,368.6 L2949.0,369.9 L2950.0,374.9 L2951.0,382.9 L2952.0,393.2 L2953.0,405.1 L2954.0,418.1 L2955.0,431.5 L2956.0,444.8 L2957.0,458.1 L2958.0,471.4 L2959.0,485.2 L2960.0,499.5 L2961.0,514.2 L2962.0,528.9 L2963.0,543.2 L2964.0,556.8 L2965.0,569.3 L2966.0,580.7 L2967.0,590.8 L2968.0,599.8 L2969.0,608.1 L2970.0,615.9 L2971.0,623.4 L2972.0,631.2 L2973.0,639.3 L2974.0,647.8 L2975.0,656.9 L2976.0,666.2 L2977.0,675.9 L2978.0,685.8 L2979.0,695.8 L2980.0,705.9 L2981.0,716.0 L2982.0,726.1 L2983.0,736.2 L2984.0,746.2 L2985.0,756.1 L2986.0,765.9 L2987.0,775.5 L2988.0,785.0 L2989.0,794.4 L2990.0,803.6 L2991.0,812.6 L2992.0,821.4 L2993.0,830.1 L2994.0,838.6 L2995.0,847.0 L2996.0,855.1 L2997.0,863.1 L2998.0,870.9 L2999.0,878.5 L3000.0,886.0 L3001.0,893.4 L3002.0,900.6 L3003.0,907.7 L3004.0,914.7 L3005.0,921.5 L3006.0,928.2 L3007.0,934.8 L3008.0,941.3 L3009.0,947.8 L3010.0,954.1 L3011.0,960.4 L3012.0,966.6 L3013.0,972.7 L3014.0,978.8 L3015.0,984.9 L3016.0,991.0 L3017.0,997.0 L3018.0,1002.9 L3019.0,1008.9 L3020.0,1014.9 L3021.0,1020.8 L3022.0,1026.6 L3023.0,1032.5 L3024.0,1038.3 L3025.0,1044.0 L3026.0,1049.8 L3027.0,1055.5 L3028.0,1061.1 L3029.0,1066.7 L3030.0,1072.3 L3031.0,1077.8 L3032.0,1083.2 L3033.0,1088.7 L3034.0,1094.0 L3035.0,1099.3 L3036.0,1104.5 L3037.0,1109.7 L3038.0,1114.8 L3039.0,1119.8 L3040.0,1124.8 L3041.0,1129.7 L3042.0,1134.6 L3043.0,1139.4 L3044.0,1144.1 L3045.0,1148.8 L3046.0,1153.5 L3047.0,1158.1 L3048.0,1162.7 L3049.0,1167.2 L3050.0,1171.8 L3051.0,1176.3 L3052.0,1180.9 L3053.0,1185.4 L3054.0,1189.9 L3055.0,1194.4 L3056.0,1199.0 L3057.0,1203.5 L3058.0,1208.1 L3059.0,1212.6 L3060.0,1217.2 L3061.0,1221.8 L3062.0,1226.3 L3063.0,1230.9 L3064.0,1235.4 L3065.0,1240.0 L3066.0,1244.5 L3067.0,1248.9 L3068.0,1253.3 L3069.0,1257.7 L3070.0,1262.0 L3071.0,1266.3 L3072.0,1270.4 L3073.0,1274.5 L3074.0,1278.5 L3075.0,1282.5 L3076.0,1286.3 L3077.0,1290.1 L3078.0,1293.7 L3079.0,1297.3 L3080.0,1300.8 L3081.0,1304.1 L3082.0,1307.4 L3083.0,1310.6 L3084.0,1313.7 L3085.0,1316.8 L3086.0,1319.7 L3087.0,1322.6 L3088.0,1325.4 L3089.0,1328.1 L3090.0,1330.8 L3091.0,1333.4 L3092.0,1335.9 L3093.0,1338.4 L3094.0,1340.8 L3095.0,1343.2 L3096.0,1345.5 L3097.0,1347.8 L3098.0,1350.1 L3099.0,1352.3 L3100.0,1354.5 L3101.0,1356.6 L3102.0,1358.7 L3103.0,1360.8 L3104.0,1362.8 L3105.0,1364.9 L3106.0,1366.9 L3107.0,1368.8 L3108.0,1370.8 L3109.0,1372.7 L3110.0,1374.6 L3111.0,1376.5 L3112.0,1378.3 L3113.0,1380.2 L3114.0,1382.0 L3115.0,1383.8 L3116.0,1385.6 L3117.0,1387.3 L3118.0,1389.1 L3119.0,1390.8 L3120.0,1392.6 L3121.0,1394.3 L3122.0,1396.0 L3123.0,1397.7 L3124.0,1399.3 L3125.0,1401.0 L3126.0,1402.6 L3127.0,1404.3 L3128.0,1405.9 L3129.0,1407.5 L3130.0,1409.1 L3131.0,1410.7 L3132.0,1412.3 L3133.0,1413.9 L3134.0,1415.5 L3135.0,1417.0 L3136.0,1418.6 L3137.0,1420.1 L3138.0,1421.7 L3139.0,1423.2 L3140.0,1424.8 L3141.0,1426.3 L3142.0,1427.8 L3143.0,1429.4 L3144.0,1430.9 L3145.0,1432.4 L3146.0,1433.9 L3147.0,1435.5 L3148.0,1437.0 L3149.0,1438.5 L3150.0,1440.0 L3151.0,1441.5 L3152.0,1443.0 L3153.0,1444.5 L3154.0,1446.0 L3155.0,1447.5 L3156.0,1449.0 L3157.0,1450.5 L3158.0,1452.0 L3159.0,1453.5 L3160.0,1455.0 L3161.0,1456.5 L3162.0,1458.0 L3163.0,1459.5 L3164.0,1460.9 L3165.0,1462.4 L3166.0,1463.9 L3167.0,1465.4 L3168.0,1466.8 L3169.0,1468.3 L3170.0,1469.7 L3171.0,1471.1 L3172.0,1472.6 L3173.0,1474.0 L3174.0,1475.4 L3175.0,1476.8 L3176.0,1478.2 L3177.0,1479.6 L3178.0,1481.0 L3179.0,1482.4 L3180.0,1483.7 L3181.0,1485.1 L3182.0,1486.4 L3183.0,1487.8 L3184.0,1489.1 L3185.0,1490.4 L3186.0,1491.7 L3187.0,1493.0 L3188.0,1494.3 L3189.0,1495.5 L3190.0,1496.8 L3191.0,1498.1 L3192.0,1499.3 L3193.0,1500.5 L3194.0,1501.8 L3195.0,1503.0 L3196.0,1504.2 L3197.0,1505.4 L3198.0,1506.6 L3199.0,1507.8 L3200.0,1508.9 L3201.0,1510.1 L3202.0,1511.3 L3203.0,1512.4 L3204.0,1513.5 L3205.0,1514.7 L3206.0,1515.8 L3207.0,1516.9 L3208.0,1518.0 L3209.0,1519.1 L3210.0,1520.2 L3211.0,1521.2 L3212.0,1522.3 L3213.0,1523.3 L3214.0,1524.3 L3215.0,1525.4 L3216.0,1526.4 L3217.0,1527.3 L3218.0,1528.3 L3219.0,1529.3 L3220.0,1530.2 L3221.0,1531.1 L3222.0,1532.0 L3223.0,1532.9 L3224.0,1533.8 L3225.0,1534.7 L3226.0,1535.5 L3227.0,1536.3 L3228.0,1537.2 L3229.0,1538.0 L3230.0,1538.7 L3231.0,1539.5 L3232.0,1540.3 L3233.0,1541.0 L3234.0,1541.7 L3235.0,1542.4 L3236.0,1543.1 L3237.0,1543.8 L3238.0,1544.5 L3239.0,1545.1 M3538.0,1496.3 L3539.0,1495.6 L3540.0,1495.0 L3541.0,1494.3 L3542.0,1493.7 L3543.0,1493.0 L3544.0,1492.3 L3545.0,1491.6 L3546.0,1490.9 L3547.0,1490.2 L3548.0,1489.5 L3549.0,1488.8 L3550.0,1488.1 L3551.0,1487.4 L3552.0,1486.6 L3553.0,1485.9 L3554.0,1485.2 L3555.0,1484.4 L3556.0,1483.7 L3557.0,1482.9 L3558.0,1482.2 L3559.0,1481.4 L3560.0,1480.7 L3561.0,1479.9 L3562.0,1479.1 L3563.0,1478.3 L3564.0,1477.5 L3565.0,1476.8 L3566.0,1476.0 L3567.0,1475.2 L3568.0,1474.4 L3569.0,1473.6 L3570.0,1472.8 L3571.0,1472.0 L3572.0,1471.2 L3573.0,1470.3 L3574.0,1469.5 L3575.0,1468.7 L3576.0,1467.9 L3577.0,1467.1 L3578.0,1466.2 L3579.0,1465.4 L3580.0,1464.6 L3581.0,1463.7 L3582.0,1462.9 L3583.0,1462.1 L3584.0,1461.2 L3585.0,1460.4 L3586.0,1459.5 L3587.0,1458.7 L3588.0,1457.8 L3589.0,1457.0 L3590.0,1456.1 L3591.0,1455.2 L3592.0,1454.4 L3593.0,1453.5 L3594.0,1452.6 L3595.0,1451.7 L3596.0,1450.8 L3597.0,1449.8 L3598.0,1448.9 L3599.0,1447.9 L3600.0,1446.9 L3601.0,1445.9 L3602.0,1444.9 L3603.0,1443.8 L3604.0,1442.7 L3605.0,1441.6 L3606.0,1440.4 L3607.0,1439.3 L3608.0,1438.1 L3609.0,1436.9 L3610.0,1435.7 L3611.0,1434.5 L3612.0,1433.3 L3613.0,1432.1 L3614.0,1430.9 L3615.0,1429.7 L3616.0,1428.5 L3617.0,1427.3 L3618.0,1426.2 L3619.0,1425.0 L3620.0,1423.9 L3621.0,1422.8 L3622.0,1421.7 L3623.0,1420.7 L3624.0,1419.7 L3625.0,1418.7 L3626.0,1417.7 L3627.0,1416.8 L3628.0,1416.0 L3629.0,1415.2 L3630.0,1414.4 L3631.0,1413.7 L3632.0,1413.1 M3648.0,1412.6 L3649.0,1413.3 L3650.0,1414.1 L3651.0,1415.0 L3652.0,1416.0 L3653.0,1417.0 L3654.0,1418.0 L3655.0,1419.1 L3656.0,1420.3 L3657.0,1421.5 L3658.0,1422.8 L3659.0,1424.1 L3660.0,1425.4 L3661.0,1426.8 L3662.0,1428.2 L3663.0,1429.6 L3664.0,1431.0 L3665.0,1432.5 L3666.0,1433.9 L3667.0,1435.3 L3668.0,1436.8 L3669.0,1438.2 L3670.0,1439.6 L3671.0,1441.0 L3672.0,1442.3 L3673.0,1443.7 L3674.0,1444.9 L3675.0,1446.2 L3676.0,1447.4 L3677.0,1448.6 L3678.0,1449.8 L3679.0,1450.9 L3680.0,1452.1 L3681.0,1453.2 L3682.0,1454.3 L3683.0,1455.4 L3684.0,1456.4 L3685.0,1457.5 L3686.0,1458.6 L3687.0,1459.6 L3688.0,1460.7 L3689.0,1461.7 L3690.0,1462.8 L3691.0,1463.8 L3692.0,1464.9 L3693.0,1465.9 L3694.0,1466.9 L3695.0,1468.0 L3696.0,1469.0 L3697.0,1470.1 L3698.0,1471.1 L3699.0,1472.1 L3700.0,1473.2 L3701.0,1474.2 L3702.0,1475.2 L3703.0,1476.3 L3704.0,1477.3 L3705.0,1478.3 L3706.0,1479.3 L3707.0,1480.4 L3708.0,1481.4 L3709.0,1482.4 L3710.0,1483.4 L3711.0,1484.5 L3712.0,1485.5 L3713.0,1486.5 L3714.0,1487.5 L3715.0,1488.6 L3716.0,1489.6 L3717.0,1490.6 L3718.0,1491.6 L3719.0,1492.6 L3720.0,1493.7 L3721.0,1494.7 L3722.0,1495.8 L3723.0,1496.9 L3724.0,1498.1 L3725.0,1499.3 L3726.0,1500.5 L3727.0,1501.8 L3728.0,1503.1 L3729.0,1504.4 L3730.0,1505.7 L3731.0,1507.0 L3732.0,1508.3 L3733.0,1509.6 L3734.0,1510.9 L3735.0,1512.1 L3736.0,1513.3 L3737.0,1514.5 L3738.0,1515.6 L3739.0,1516.7 L3740.0,1517.7 L3741.0,1518.7 L3742.0,1519.5 L3743.0,1520.3 L3744.0,1521.1 M3754.0,1521.8 L3755.0,1521.1 L3756.0,1520.2 L3757.0,1519.1 L3758.0,1518.0 L3759.0,1516.6 L3760.0,1515.2 L3761.0,1513.6 L3762.0,1511.9 L3763.0,1510.0 L3764.0,1508.1 L3765.0,1506.0 L3766.0,1503.8 L3767.0,1501.5 L3768.0,1499.1 L3769.0,1496.6 L3770.0,1494.0 L3771.0,1491.3 L3772.0,1488.5 L3773.0,1485.6 L3774.0,1482.7 L3775.0,1479.8 L3776.0,1477.1 L3777.0,1474.9 L3777.3,1473.5" stroke="#3a3a3a" stroke-width="3.3" fill="none" stroke-linejoin="round"/>
<path d="M151.0,1113.4 L153.0,1113.3 L155.0,1113.1 L157.0,1113.0 L159.0,1112.8 L161.0,1112.6 L163.0,1112.4 L165.0,1112.2 L167.0,1112.1 L169.0,1111.9 L171.0,1111.7 L173.0,1111.5 L175.0,1111.3 L177.0,1111.1 L179.0,1110.9 L181.0,1110.7 L183.0,1110.5 L185.0,1110.3 L187.0,1110.1 L189.0,1109.9 L191.0,1109.7 L193.0,1109.5 L195.0,1109.3 L197.0,1109.1 L199.0,1108.9 L201.0,1108.7 L203.0,1108.5 L205.0,1108.2 L207.0,1108.0 L209.0,1107.8 L211.0,1107.6 L213.0,1107.4 L215.0,1107.1 L217.0,1106.9 L219.0,1106.7 L221.0,1106.4 L223.0,1106.2 L225.0,1106.0 L227.0,1105.7 L229.0,1105.5 L231.0,1105.2 L233.0,1105.0 L235.0,1104.7 L237.0,1104.5 L239.0,1104.2 L241.0,1104.0 L243.0,1103.7 L245.0,1103.4 L247.0,1103.1 L249.0,1102.9 L251.0,1102.6 L253.0,1102.3 L255.0,1102.0 L257.0,1101.8 L259.0,1101.5 L261.0,1101.2 L263.0,1100.9 L265.0,1100.6 L267.0,1100.4 L269.0,1100.1 L271.0,1099.8 L273.0,1099.5 L275.0,1099.3 L277.0,1099.0 L279.0,1098.8 L281.0,1098.5 L283.0,1098.3 L285.0,1098.0 L287.0,1097.8 L289.0,1097.6 L291.0,1097.3 L293.0,1097.1 L295.0,1096.9 L297.0,1096.7 L299.0,1096.6 L301.0,1096.4 L303.0,1096.2 L305.0,1096.0 L307.0,1095.9 L309.0,1095.7 L311.0,1095.6 L313.0,1095.5 L315.0,1095.3 L317.0,1095.2 L319.0,1095.1 L321.0,1095.0 L323.0,1094.9 L325.0,1094.8 L327.0,1094.7 L329.0,1094.6 L331.0,1094.5 L333.0,1094.5 L335.0,1094.4 L337.0,1094.3 L339.0,1094.2 L341.0,1094.1 L343.0,1094.1 L345.0,1094.0 L347.0,1093.9 L349.0,1093.8 L351.0,1093.7 L353.0,1093.6 L355.0,1093.5 L357.0,1093.4 L359.0,1093.3 L361.0,1093.2 L363.0,1093.1 L365.0,1093.0 L367.0,1092.8 L369.0,1092.7 L371.0,1092.5 L373.0,1092.4 L375.0,1092.2 L377.0,1092.0 L379.0,1091.8 L381.0,1091.6 L383.0,1091.4 L385.0,1091.2 L387.0,1090.9 L389.0,1090.7 L391.0,1090.4 L393.0,1090.2 L395.0,1089.9 L397.0,1089.6 L399.0,1089.3 L401.0,1089.0 L403.0,1088.7 L405.0,1088.4 L407.0,1088.1 L409.0,1087.8 L411.0,1087.5 L413.0,1087.1 L415.0,1086.8 L417.0,1086.5 L419.0,1086.2 L421.0,1085.8 L423.0,1085.5 L425.0,1085.2 L427.0,1084.9 L429.0,1084.5 L431.0,1084.2 L433.0,1083.9 L435.0,1083.6 L437.0,1083.3 L439.0,1083.0 L441.0,1082.7 L443.0,1082.4 L445.0,1082.0 L447.0,1081.7 L449.0,1081.4 L451.0,1081.2 L453.0,1080.9 L455.0,1080.6 L457.0,1080.3 L459.0,1080.0 L461.0,1079.7 L463.0,1079.4 L465.0,1079.1 L467.0,1078.8 L469.0,1078.5 L471.0,1078.2 L473.0,1077.9 L475.0,1077.6 L477.0,1077.2 L479.0,1076.9 L481.0,1076.6 L483.0,1076.3 L485.0,1075.9 L487.0,1075.6 L489.0,1075.3 L491.0,1074.9 L493.0,1074.6 L495.0,1074.2 L497.0,1073.8 L499.0,1073.4 L501.0,1073.1 L503.0,1072.7 L505.0,1072.3 L507.0,1071.9 L509.0,1071.5 L511.0,1071.1 L513.0,1070.7 L515.0,1070.3 L517.0,1070.0 L519.0,1069.6 L521.0,1069.2 L523.0,1068.8 L525.0,1068.5 L527.0,1068.1 L529.0,1067.8 L531.0,1067.4 L533.0,1067.1 L535.0,1066.8 L537.0,1066.5 L539.0,1066.2 L541.0,1065.9 L543.0,1065.6 L545.0,1065.3 L547.0,1065.1 L549.0,1064.8 L551.0,1064.6 L553.0,1064.3 L555.0,1064.1 L557.0,1063.8 L559.0,1063.6 L561.0,1063.4 L563.0,1063.2 L565.0,1062.9 L567.0,1062.7 L569.0,1062.5 L571.0,1062.2 L573.0,1062.0 L575.0,1061.7 L577.0,1061.5 L579.0,1061.2 L581.0,1060.9 L583.0,1060.6 L585.0,1060.3 L587.0,1060.0 L589.0,1059.7 L591.0,1059.3 L593.0,1059.0 L595.0,1058.6 L597.0,1058.2 L599.0,1057.8 L601.0,1057.4 L603.0,1057.0 L605.0,1056.5 L607.0,1056.0 L609.0,1055.6 L611.0,1055.1 L613.0,1054.5 L615.0,1054.0 L617.0,1053.5 L619.0,1052.9 L621.0,1052.4 L623.0,1051.8 L625.0,1051.2 L627.0,1050.7 L629.0,1050.1 L631.0,1049.5 L633.0,1048.9 L635.0,1048.3 L637.0,1047.7 L639.0,1047.1 L641.0,1046.5 L643.0,1046.0 L645.0,1045.4 L647.0,1044.8 L649.0,1044.3 L651.0,1043.7 L653.0,1043.1 L655.0,1042.6 L657.0,1042.1 L659.0,1041.5 L661.0,1041.0 L663.0,1040.5 L665.0,1040.0 L667.0,1039.5 L669.0,1039.0 L671.0,1038.5 L673.0,1038.1 L675.0,1037.6 L677.0,1037.1 L679.0,1036.7 L681.0,1036.2 L683.0,1035.8 L685.0,1035.3 L687.0,1034.9 L689.0,1034.4 L691.0,1034.0 L693.0,1033.6 L695.0,1033.2 L697.0,1032.8 L699.0,1032.3 L701.0,1031.9 L703.0,1031.5 L705.0,1031.1 L707.0,1030.7 L709.0,1030.3 L711.0,1030.0 L713.0,1029.6 L715.0,1029.2 L717.0,1028.8 L719.0,1028.5 L721.0,1028.1 L723.0,1027.7 L725.0,1027.4 L727.0,1027.0 L729.0,1026.6 L731.0,1026.3 L733.0,1025.9 L735.0,1025.6 L737.0,1025.2 L739.0,1024.8 L741.0,1024.5 L743.0,1024.1 L745.0,1023.7 L747.0,1023.3 L749.0,1023.0 L751.0,1022.6 L753.0,1022.1 L755.0,1021.7 L757.0,1021.3 L759.0,1020.8 L761.0,1020.4 L763.0,1019.9 L765.0,1019.4 L767.0,1019.0 L769.0,1018.4 L771.0,1017.9 L773.0,1017.4 L775.0,1016.8 L777.0,1016.3 L779.0,1015.7 L781.0,1015.2 L783.0,1014.6 L785.0,1014.0 L787.0,1013.4 L789.0,1012.8 L791.0,1012.2 L793.0,1011.5 L795.0,1010.9 L797.0,1010.3 L799.0,1009.7 L801.0,1009.0 L803.0,1008.4 L805.0,1007.8 L807.0,1007.2 L809.0,1006.5 L811.0,1005.9 L813.0,1005.3 L815.0,1004.7 L817.0,1004.1 L819.0,1003.5 L821.0,1002.8 L823.0,1002.2 L825.0,1001.6 L827.0,1001.0 L829.0,1000.4 L831.0,999.9 L833.0,999.3 L835.0,998.7 L837.0,998.1 L839.0,997.5 L841.0,997.0 L843.0,996.4 L845.0,995.9 L847.0,995.3 L849.0,994.8 L851.0,994.2 L853.0,993.7 L855.0,993.2 L857.0,992.6 L859.0,992.1 L861.0,991.6 L863.0,991.1 L865.0,990.6 L867.0,990.1 L869.0,989.7 L871.0,989.2 L873.0,988.8 L875.0,988.3 L877.0,987.9 L879.0,987.4 L881.0,986.9 L883.0,986.5 L885.0,986.1 L887.0,985.7 L889.0,985.2 L891.0,984.9 L893.0,984.5 L895.0,984.1 L897.0,983.8 L899.0,983.5 L901.0,983.3 L903.0,983.1 L905.0,982.9 L907.0,982.8 L909.0,982.7 L911.0,982.7 L913.0,982.6 L915.0,982.6 L917.0,982.6 L919.0,982.6 L921.0,982.6 L923.0,982.6 L925.0,982.6 L927.0,982.5 L929.0,982.5 L931.0,982.5 L933.0,982.5 L935.0,982.5 L937.0,982.5 L939.0,982.5 L941.0,982.5 L943.0,982.5 L945.0,982.8 L947.0,983.7 L949.0,985.6 L951.0,988.4 L953.0,991.7 L955.0,995.3 L957.0,998.8 L959.0,1002.1 L961.0,1005.2 L963.0,1008.4 L965.0,1011.6 L967.0,1015.0 L969.0,1018.5 L971.0,1022.2 L973.0,1026.2 L975.0,1030.4 L977.0,1035.0 L979.0,1040.0 L981.0,1046.0 L983.0,1052.9 L985.0,1060.7 L987.0,1069.6 L989.0,1079.3 L991.0,1090.0 L993.0,1101.5 L995.0,1113.6 L997.0,1126.3 L999.0,1139.3 L1001.0,1152.5 L1003.0,1164.2 L1005.0,1176.5 L1007.0,1189.4 L1009.0,1202.7 L1011.0,1216.5 L1013.0,1230.8 L1015.0,1245.3 L1017.0,1259.8 L1019.0,1274.6 L1021.0,1289.6 L1023.0,1304.9 L1025.0,1320.5 L1027.0,1336.7 L1029.0,1353.4 L1031.0,1370.7 L1033.0,1387.8 L1035.0,1404.0 L1037.0,1418.0 L1039.0,1430.9 L1041.0,1443.2 L1043.0,1454.7 L1045.0,1464.6 L1047.0,1472.3 L1049.0,1477.5 L1051.0,1480.9 L1053.0,1483.4 L1055.0,1485.0 L1057.0,1485.2 L1059.0,1482.9 L1061.0,1477.3 L1063.0,1469.2 L1065.0,1459.4 L1067.0,1448.9 L1069.0,1438.5 L1071.0,1428.0 L1073.0,1416.6 L1075.0,1404.4 L1077.0,1391.5 L1079.0,1378.2 L1081.0,1364.9 L1083.0,1351.9 L1085.0,1339.2 L1087.0,1326.5 L1089.0,1314.0 L1091.0,1301.8 L1093.0,1290.2 L1095.0,1279.4 L1097.0,1269.3 L1099.0,1260.0 L1101.0,1251.3 L1103.0,1243.1 L1105.0,1235.4 L1107.0,1228.2 L1109.0,1221.4 L1111.0,1214.9 L1113.0,1208.5 L1115.0,1202.4 L1117.0,1196.5 L1119.0,1190.6 L1121.0,1184.9 L1123.0,1179.4 L1125.0,1174.0 L1127.0,1168.7 L1129.0,1163.2 L1131.0,1157.9 L1133.0,1152.8 L1135.0,1147.9 L1137.0,1143.1 L1139.0,1138.5 L1141.0,1134.1 L1143.0,1129.8 L1145.0,1125.7 L1147.0,1121.7 L1149.0,1117.9 L1151.0,1114.2 L1153.0,1110.7 L1155.0,1107.2 L1157.0,1103.9 L1159.0,1100.8 L1161.0,1097.7 L1163.0,1094.8 L1165.0,1092.0 L1167.0,1089.3 L1169.0,1086.8 L1171.0,1084.3 L1173.0,1081.9 L1175.0,1079.6 L1177.0,1077.4 L1179.0,1075.3 L1181.0,1073.3 L1183.0,1071.4 L1185.0,1069.6 L1187.0,1067.8 L1189.0,1066.1 L1191.0,1064.4 L1193.0,1062.9 L1195.0,1061.4 L1197.0,1059.9 L1199.0,1058.6 L1201.0,1057.2 L1203.0,1056.0 L1205.0,1054.7 L1207.0,1053.6 L1209.0,1052.4 L1211.0,1051.4 L1213.0,1050.3 L1215.0,1049.4 L1217.0,1048.4 L1219.0,1047.5 L1221.0,1046.7 L1223.0,1045.8 L1225.0,1045.1 L1227.0,1044.3 L1229.0,1043.6 L1231.0,1042.9 L1233.0,1042.3 L1235.0,1041.7 L1237.0,1041.1 L1239.0,1040.6 L1241.0,1040.1 L1243.0,1039.6 L1245.0,1039.1 L1247.0,1038.7 L1249.0,1038.3 L1251.0,1038.0 L1253.0,1037.7 L1255.0,1037.4 L1257.0,1037.1 L1259.0,1036.9 L1261.0,1036.7 L1263.0,1036.5 L1265.0,1036.4 L1267.0,1036.3 L1269.0,1036.2 L1271.0,1036.2 L1273.0,1036.2 L1275.0,1036.3 L1277.0,1036.4 L1279.0,1036.5 L1281.0,1036.7 L1283.0,1036.9 L1285.0,1037.1 L1287.0,1037.4 L1289.0,1037.8 L1291.0,1038.2 L1293.0,1038.6 L1295.0,1039.1 L1297.0,1039.7 L1299.0,1040.3 L1301.0,1041.0 L1303.0,1041.7 L1305.0,1042.5 L1307.0,1043.3 L1309.0,1044.2 L1311.0,1045.1 L1313.0,1046.1 L1315.0,1047.2 L1317.0,1048.4 L1319.0,1049.6 L1321.0,1050.9 L1323.0,1052.2 L1325.0,1053.7 L1327.0,1055.2 L1329.0,1056.8 L1331.0,1058.5 L1333.0,1060.2 L1335.0,1062.1 L1337.0,1064.0 L1339.0,1066.1 L1341.0,1068.2 L1343.0,1070.5 L1345.0,1072.8 L1347.0,1075.3 L1349.0,1077.9 L1351.0,1080.6 L1353.0,1083.4 L1355.0,1086.4 L1357.0,1089.4 L1359.0,1092.6 L1361.0,1095.9 L1363.0,1099.4 L1365.0,1102.9 L1367.0,1106.6 L1369.0,1110.4 L1371.0,1114.3 L1373.0,1118.4 L1375.0,1122.5 L1377.0,1126.7 L1379.0,1131.1 L1381.0,1135.6 L1383.0,1140.1 L1385.0,1144.8 L1387.0,1149.5 L1389.0,1154.4 L1391.0,1159.4 L1393.0,1164.4 L1395.0,1169.6 L1397.0,1174.8 L1399.0,1180.1 L1401.0,1185.6 L1403.0,1191.1 L1405.0,1196.7 L1407.0,1202.4 L1409.0,1208.2 L1411.0,1214.1 L1413.0,1220.0 L1415.0,1226.0 L1417.0,1232.1 L1419.0,1238.2 L1421.0,1244.4 L1423.0,1250.6 L1425.0,1256.8 L1427.0,1263.0 L1429.0,1269.2 L1431.0,1275.4 L1433.0,1281.5 L1435.0,1287.7 L1437.0,1293.7 L1439.0,1299.7 L1441.0,1305.5 L1443.0,1311.3 L1445.0,1317.0 L1447.0,1322.5 L1449.0,1327.9 L1451.0,1333.1 L1453.0,1338.2 L1455.0,1343.1 L1457.0,1347.8 L1459.0,1352.3 L1461.0,1356.6 L1463.0,1360.7 L1465.0,1364.6 L1467.0,1368.3 L1469.0,1371.8 L1471.0,1375.0 L1473.0,1378.0 L1475.0,1380.8 L1477.0,1383.3 L1479.0,1385.6 L1481.0,1387.7 L1483.0,1389.5 L1485.0,1391.1 L1487.0,1392.4 L1489.0,1393.6 L1491.0,1394.5 L1493.0,1395.2 L1495.0,1395.6 L1497.0,1395.9 L1499.0,1395.9 L1501.0,1395.8 L1503.0,1395.4 L1505.0,1394.9 L1507.0,1394.1 L1509.0,1393.2 L1511.0,1392.1 L1513.0,1390.8 L1515.0,1389.3 L1517.0,1387.7 L1519.0,1385.9 L1521.0,1384.0 L1523.0,1382.0 L1525.0,1379.8 L1527.0,1377.4 L1529.0,1375.0 L1531.0,1372.4 L1533.0,1369.7 L1535.0,1366.9 L1537.0,1363.9 L1539.0,1360.9 L1541.0,1357.8 L1543.0,1354.6 L1545.0,1351.2 L1547.0,1347.8 L1549.0,1344.3 L1551.0,1340.8 L1553.0,1337.1 L1555.0,1333.4 L1557.0,1329.6 L1559.0,1325.8 L1561.0,1321.8 L1563.0,1317.8 L1565.0,1313.8 L1567.0,1309.7 L1569.0,1305.5 L1571.0,1301.3 L1573.0,1297.0 L1575.0,1292.7 L1577.0,1288.3 L1579.0,1284.0 L1581.0,1279.5 L1583.0,1275.1 L1585.0,1270.6 L1587.0,1266.2 L1589.0,1261.7 L1591.0,1257.2 L1593.0,1252.8 L1595.0,1248.3 L1597.0,1243.9 L1599.0,1239.4 L1601.0,1235.0 L1603.0,1230.7 L1605.0,1226.4 L1607.0,1222.1 L1609.0,1217.8 L1611.0,1213.6 L1613.0,1209.5 L1615.0,1205.4 L1617.0,1201.3 L1619.0,1197.3 L1621.0,1193.4 L1623.0,1189.5 L1625.0,1185.7 L1627.0,1181.9 L1629.0,1178.2 L1631.0,1174.5 L1633.0,1170.9 L1635.0,1167.4 L1637.0,1163.9 L1639.0,1160.4 L1641.0,1157.1 L1643.0,1153.7 L1645.0,1150.5 L1647.0,1147.3 L1649.0,1144.1 L1651.0,1141.0 L1653.0,1137.9 L1655.0,1134.9 L1657.0,1132.0 L1659.0,1129.1 L1661.0,1126.2 L1663.0,1123.4 L1665.0,1120.6 L1667.0,1117.9 L1669.0,1115.2 L1671.0,1112.5 L1673.0,1109.9 L1675.0,1107.3 L1677.0,1104.8 L1679.0,1102.3 L1681.0,1099.8 L1683.0,1097.4 L1685.0,1095.0 L1687.0,1092.6 L1689.0,1090.3 L1691.0,1088.1 L1693.0,1085.9 L1695.0,1083.7 L1697.0,1081.5 L1699.0,1079.5 L1701.0,1077.4 L1703.0,1075.4 L1705.0,1073.5 L1707.0,1071.6 L1709.0,1069.7 L1711.0,1067.8 L1713.0,1066.1 L1715.0,1064.3 L1717.0,1062.6 L1719.0,1060.9 L1721.0,1059.2 L1723.0,1057.6 L1725.0,1056.0 L1727.0,1054.4 L1729.0,1052.8 L1731.0,1051.2 L1733.0,1049.7 L1735.0,1048.2 L1737.0,1046.7 L1739.0,1045.2 L1741.0,1043.8 L1743.0,1042.3 L1745.0,1040.9 L1747.0,1039.5 L1749.0,1038.1 L1751.0,1036.7 L1753.0,1035.4 L1755.0,1034.1 L1757.0,1032.8 L1759.0,1031.5 L1761.0,1030.3 L1763.0,1029.1 L1765.0,1027.9 L1767.0,1026.7 L1769.0,1025.6 L1771.0,1024.5 L1773.0,1023.5 L1775.0,1022.5 L1777.0,1021.5 L1779.0,1020.6 L1781.0,1019.7 L1783.0,1018.9 L1785.0,1018.1 L1787.0,1017.3 L1789.0,1016.6 L1791.0,1015.9 L1793.0,1015.3 L1795.0,1014.7 L1797.0,1014.2 L1799.0,1013.7 L1801.0,1013.2 L1803.0,1012.8 L1805.0,1012.4 L1807.0,1012.1 L1809.0,1011.9 L1811.0,1011.6 L1813.0,1011.5 L1815.0,1011.3 L1817.0,1011.2 L1819.0,1011.2 L1821.0,1011.2 L1823.0,1011.2 L1825.0,1011.3 L1827.0,1011.4 L1829.0,1011.6 L1831.0,1011.8 L1833.0,1012.0 L1835.0,1012.3 L1837.0,1012.7 L1839.0,1013.0 L1841.0,1013.4 L1843.0,1013.9 L1845.0,1014.4 L1847.0,1014.9 L1849.0,1015.5 L1851.0,1016.1 L1853.0,1016.7 L1855.0,1017.4 L1857.0,1018.1 L1859.0,1018.8 L1861.0,1019.6 L1863.0,1020.4 L1865.0,1021.2 L1867.0,1022.0 L1869.0,1022.9 L1871.0,1023.8 L1873.0,1024.8 L1875.0,1025.7 L1877.0,1026.7 L1879.0,1027.7 L1881.0,1028.7 L1883.0,1029.7 L1885.0,1030.8 L1887.0,1031.9 L1889.0,1033.0 L1891.0,1034.1 L1893.0,1035.2 L1895.0,1036.3 L1897.0,1037.4 L1899.0,1038.6 L1901.0,1039.7 L1903.0,1040.9 L1905.0,1042.0 L1907.0,1043.2 L1909.0,1044.3 L1911.0,1045.5 L1913.0,1046.6 L1915.0,1047.7 L1917.0,1048.9 L1919.0,1050.0 L1921.0,1051.1 L1923.0,1052.2 L1925.0,1053.3 L1927.0,1054.4 L1929.0,1055.5 L1931.0,1056.5 L1933.0,1057.5 L1935.0,1058.6 L1937.0,1059.6 L1939.0,1060.6 L1941.0,1061.5 L1943.0,1062.5 L1945.0,1063.4 L1947.0,1064.4 L1949.0,1065.3 L1951.0,1066.1 L1953.0,1067.0 L1955.0,1067.9 L1957.0,1068.7 L1959.0,1069.5 L1961.0,1070.3 L1963.0,1071.1 L1965.0,1071.9 L1967.0,1072.6 L1969.0,1073.4 L1971.0,1074.1 L1973.0,1074.8 L1975.0,1075.5 L1977.0,1076.2 L1979.0,1076.9 L1981.0,1077.5 L1983.0,1078.2 L1985.0,1078.8 L1987.0,1079.4 L1989.0,1080.0 L1991.0,1080.6 L1993.0,1081.2 L1995.0,1081.8 L1997.0,1082.3 L1999.0,1082.9 L2001.0,1083.4 L2003.0,1083.9 L2005.0,1084.4 L2007.0,1084.9 L2009.0,1085.4 L2011.0,1085.8 L2013.0,1086.3 L2015.0,1086.7 L2017.0,1087.1 L2019.0,1087.5 L2021.0,1087.9 L2023.0,1088.2 L2025.0,1088.6 L2027.0,1088.9 L2029.0,1089.2 L2031.0,1089.5 L2033.0,1089.8 L2035.0,1090.0 L2037.0,1090.3 L2039.0,1090.5 L2041.0,1090.7 L2043.0,1090.8 L2045.0,1091.0 L2047.0,1091.1 L2049.0,1091.2 L2051.0,1091.2 L2053.0,1091.3 L2055.0,1091.2 L2057.0,1091.2 L2059.0,1091.1 L2061.0,1091.0 L2063.0,1090.8 L2065.0,1090.6 L2067.0,1090.4 L2069.0,1090.1 L2071.0,1089.8 L2073.0,1089.5 L2075.0,1089.1 L2077.0,1088.7 L2079.0,1088.2 L2081.0,1087.7 L2083.0,1087.2 L2085.0,1086.6 L2087.0,1086.0 L2089.0,1085.4 L2091.0,1084.7 L2093.0,1084.0 L2095.0,1083.3 L2097.0,1082.5 L2099.0,1081.7 L2101.0,1080.9 L2103.0,1080.1 L2105.0,1079.2 L2107.0,1078.3 L2109.0,1077.4 L2111.0,1076.4 L2113.0,1075.5 L2115.0,1074.4 L2117.0,1073.4 L2119.0,1072.3 L2121.0,1071.2 L2123.0,1070.1 L2125.0,1068.9 L2127.0,1067.8 L2129.0,1066.5 L2131.0,1065.3 L2133.0,1064.0 L2135.0,1062.8 L2137.0,1061.4 L2139.0,1060.1 L2141.0,1058.8 L2143.0,1057.4 L2145.0,1056.0 L2147.0,1054.6 L2149.0,1053.1 L2151.0,1051.7 L2153.0,1050.3 L2155.0,1048.8 L2157.0,1047.3 L2159.0,1045.8 L2161.0,1044.3 L2163.0,1042.8 L2165.0,1041.3 L2167.0,1039.8 L2169.0,1038.2 L2171.0,1036.7 L2173.0,1035.2 L2175.0,1033.6 L2177.0,1032.1 L2179.0,1030.5 L2181.0,1028.9 L2183.0,1027.3 L2185.0,1025.7 L2187.0,1024.2 L2189.0,1022.6 L2191.0,1020.9 L2193.0,1019.3 L2195.0,1017.7 L2197.0,1016.1 L2199.0,1014.4 L2201.0,1012.8 L2203.0,1011.1 L2205.0,1009.5 L2207.0,1007.8 L2209.0,1006.1 L2211.0,1004.4 L2213.0,1002.7 L2215.0,1001.0 L2217.0,999.3 L2219.0,997.6 L2221.0,995.9 L2223.0,994.1 L2225.0,992.4 L2227.0,990.6 L2229.0,988.9 L2231.0,987.1 L2233.0,985.3 L2235.0,983.5 L2237.0,981.8 L2239.0,980.0 L2241.0,978.1 L2243.0,976.3 L2245.0,974.5 L2247.0,972.7 L2249.0,970.8 L2251.0,969.0 L2253.0,967.1 L2255.0,965.2 L2257.0,963.4 L2259.0,961.5 L2261.0,959.6 L2263.0,957.7 L2265.0,955.8 L2267.0,953.8 L2269.0,951.9 L2271.0,950.0 L2273.0,948.0 L2275.0,946.1 L2277.0,944.1 L2279.0,942.1 L2281.0,940.1 L2283.0,938.1 L2285.0,936.1 L2287.0,934.1 L2289.0,932.1 L2291.0,930.0 L2293.0,928.0 L2295.0,925.9 L2297.0,923.8 L2299.0,921.8 L2301.0,919.6 L2303.0,917.5 L2305.0,915.4 L2307.0,913.3 L2309.0,911.1 L2311.0,908.9 L2313.0,906.7 L2315.0,904.5 L2317.0,902.3 L2319.0,900.1 L2321.0,897.9 L2323.0,895.6 L2325.0,893.4 L2327.0,891.1 L2329.0,888.8 L2331.0,886.6 L2333.0,884.3 L2335.0,882.0 L2337.0,879.7 L2339.0,877.4 L2341.0,875.1 L2343.0,872.7 L2345.0,870.4 L2347.0,868.1 L2349.0,865.8 L2351.0,863.4 L2353.0,861.1 L2355.0,858.7 L2357.0,856.4 L2359.0,854.1 L2361.0,851.7 L2363.0,849.4 L2365.0,847.1 L2367.0,844.7 L2369.0,842.4 L2371.0,840.1 L2373.0,837.8 L2375.0,835.5 L2377.0,833.2 L2379.0,830.9 L2381.0,828.7 L2383.0,826.5 L2385.0,824.3 L2387.0,822.1 L2389.0,819.9 L2391.0,817.8 L2393.0,815.7 L2395.0,813.6 L2397.0,811.6 L2399.0,809.6 L2401.0,807.6 L2403.0,805.6 L2405.0,803.7 L2407.0,801.8 L2409.0,800.0 L2411.0,798.2 L2413.0,796.4 L2415.0,794.6 L2417.0,792.9 L2419.0,791.1 L2421.0,789.4 L2423.0,787.8 L2425.0,786.1 L2427.0,784.4 L2429.0,782.8 L2431.0,781.2 L2433.0,779.6 L2435.0,778.0 L2437.0,776.4 L2439.0,774.8 L2441.0,773.2 L2443.0,771.6 L2445.0,770.0 L2447.0,768.4 L2449.0,766.8 L2451.0,765.2 L2453.0,763.7 L2455.0,762.1 L2457.0,760.5 L2459.0,759.0 L2461.0,757.4 L2463.0,755.9 L2465.0,754.4 L2467.0,752.8 L2469.0,751.3 L2471.0,749.8 L2473.0,748.3 L2475.0,746.8 L2477.0,745.3 L2479.0,743.8 L2481.0,742.4 L2483.0,740.9 L2485.0,739.5 L2487.0,738.0 L2489.0,736.6 L2491.0,735.1 L2493.0,733.7 L2495.0,732.3 L2497.0,730.9 L2499.0,729.4 L2501.0,728.0 L2503.0,726.6 L2505.0,725.2 L2507.0,723.8 L2509.0,722.4 L2511.0,721.0 L2513.0,719.6 L2515.0,718.3 L2517.0,716.9 L2519.0,715.5 L2521.0,714.2 L2523.0,712.8 L2525.0,711.5 L2527.0,710.2 L2529.0,708.9 L2531.0,707.7 L2533.0,706.4 L2535.0,705.2 L2537.0,704.0 L2539.0,702.8 L2541.0,701.7 L2543.0,700.6 L2545.0,699.5 L2547.0,698.5 L2549.0,697.4 L2551.0,696.4 L2553.0,695.5 L2555.0,694.5 L2557.0,693.6 L2559.0,692.8 L2561.0,691.9 L2563.0,691.1 L2565.0,690.3 L2567.0,689.6 L2569.0,688.8 L2571.0,688.1 L2573.0,687.5 L2575.0,686.8 L2577.0,686.2 L2579.0,685.6 L2581.0,685.0 L2583.0,684.4 L2585.0,683.9 L2587.0,683.3 L2589.0,682.8 L2591.0,682.3 L2593.0,681.8 L2595.0,681.4 L2597.0,680.9 L2599.0,680.5 L2601.0,680.0 L2603.0,679.6 L2605.0,679.2 L2607.0,678.9 L2609.0,678.5 L2611.0,678.2 L2613.0,677.9 L2615.0,677.6 L2617.0,677.3 L2619.0,677.0 L2621.0,676.8 L2623.0,676.6 L2625.0,676.5 L2627.0,676.4 L2629.0,676.3 L2631.0,676.2 L2633.0,676.2 L2635.0,676.2 L2637.0,676.2 L2639.0,676.3 L2641.0,676.4 L2643.0,676.5 L2645.0,676.7 L2647.0,676.9 L2649.0,677.1 L2651.0,677.4 L2653.0,677.7 L2655.0,678.0 L2657.0,678.4 L2659.0,678.8 L2661.0,679.2 L2663.0,679.7 L2665.0,680.2 L2667.0,680.7 L2669.0,681.2 L2671.0,681.8 L2673.0,682.4 L2675.0,683.1 L2677.0,683.8 L2679.0,684.5 L2681.0,685.3 L2683.0,686.1 L2685.0,686.9 L2687.0,687.8 L2689.0,688.7 L2691.0,689.7 L2693.0,690.6 L2695.0,691.7 L2697.0,692.7 L2699.0,693.8 L2701.0,694.9 L2703.0,696.0 L2705.0,697.2 L2707.0,698.4 L2709.0,699.6 L2711.0,700.9 L2713.0,702.2 L2715.0,703.5 L2717.0,704.8 L2719.0,706.2 L2721.0,707.6 L2723.0,709.1 L2725.0,710.6 L2727.0,712.1 L2729.0,713.7 L2731.0,715.3 L2733.0,717.0 L2735.0,718.7 L2737.0,720.4 L2739.0,722.2 L2741.0,724.1 L2743.0,726.0 L2745.0,728.0 L2747.0,730.0 L2749.0,732.2 L2751.0,734.3 L2753.0,736.6 L2755.0,738.9 L2757.0,741.3 L2759.0,743.7 L2761.0,746.2 L2763.0,748.8 L2765.0,751.5 L2767.0,754.2 L2769.0,757.0 L2771.0,759.8 L2773.0,762.7 L2775.0,765.7 L2777.0,768.7 L2779.0,771.8 L2781.0,774.9 L2783.0,778.0 L2785.0,781.2 L2787.0,784.4 L2789.0,787.7 L2791.0,791.0 L2793.0,794.3 L2795.0,797.7 L2797.0,801.0 L2799.0,804.4 L2801.0,807.9 L2803.0,811.3 L2805.0,814.8 L2807.0,818.3 L2809.0,821.9 L2811.0,825.4 L2813.0,829.0 L2815.0,832.6 L2817.0,836.3 L2819.0,839.9 L2821.0,843.6 L2823.0,847.4 L2825.0,851.1 L2827.0,854.9 L2829.0,858.8 L2831.0,862.6 L2833.0,866.6 L2835.0,870.5 L2837.0,874.5 L2839.0,878.5 L2841.0,882.6 L2843.0,886.7 L2845.0,890.8 L2847.0,895.0 L2849.0,899.2 L2851.0,903.4 L2853.0,907.7 L2855.0,912.0 L2857.0,916.4 L2859.0,920.8 L2861.0,925.2 L2863.0,929.6 L2865.0,934.1 L2867.0,938.6 L2869.0,943.1 L2871.0,947.7 L2873.0,952.3 L2875.0,956.8 L2877.0,961.5 L2879.0,966.1 L2881.0,970.7 L2883.0,975.4 L2885.0,980.1 L2887.0,984.8 L2889.0,989.5 L2891.0,994.2 L2893.0,999.0 L2895.0,1003.7 L2897.0,1008.5 L2899.0,1013.2 L2901.0,1018.0 L2903.0,1022.8 L2905.0,1027.6 L2907.0,1032.4 L2909.0,1037.2 L2911.0,1042.1 L2913.0,1046.9 L2915.0,1051.7 L2917.0,1056.5 L2919.0,1061.4 L2921.0,1066.2 L2923.0,1071.1 L2925.0,1075.9 L2927.0,1080.7 L2929.0,1085.6 L2931.0,1090.4 L2933.0,1095.2 L2935.0,1100.0 L2937.0,1104.8 L2939.0,1109.6 L2941.0,1114.3 L2943.0,1119.1 L2945.0,1123.8 L2947.0,1128.5 L2949.0,1133.2 L2951.0,1137.8 L2953.0,1142.5 L2955.0,1147.1 L2957.0,1151.6 L2959.0,1156.1 L2961.0,1160.6 L2963.0,1165.1 L2965.0,1169.5 L2967.0,1173.8 L2969.0,1178.2 L2971.0,1182.5 L2973.0,1186.7 L2975.0,1190.9 L2977.0,1195.0 L2979.0,1199.1 L2981.0,1203.2 L2983.0,1207.2 L2985.0,1211.1 L2987.0,1215.0 L2989.0,1218.8 L2991.0,1222.6 L2993.0,1226.4 L2995.0,1230.0 L2997.0,1233.6 L2999.0,1237.2 L3001.0,1240.7 L3003.0,1244.1 L3005.0,1247.5 L3007.0,1250.8 L3009.0,1254.1 L3011.0,1257.3 L3013.0,1260.4 L3015.0,1263.5 L3017.0,1266.5 L3019.0,1269.5 L3021.0,1272.4 L3023.0,1275.3 L3025.0,1278.1 L3027.0,1280.8 L3029.0,1283.5 L3031.0,1286.2 L3033.0,1288.8 L3035.0,1291.3 L3037.0,1293.8 L3039.0,1296.2 L3041.0,1298.6 L3043.0,1300.9 L3045.0,1303.2 L3047.0,1305.5 L3049.0,1307.6 L3051.0,1309.8 L3053.0,1311.9 L3055.0,1313.9 L3057.0,1315.9 L3059.0,1317.8 L3061.0,1319.7 L3063.0,1321.6 L3065.0,1323.4 L3067.0,1325.2 L3069.0,1326.9 L3071.0,1328.5 L3073.0,1330.2 L3075.0,1331.7 L3077.0,1333.3 L3079.0,1334.8 L3081.0,1336.2 L3083.0,1337.6 L3085.0,1338.9 L3087.0,1340.2 L3089.0,1341.5 L3091.0,1342.7 L3093.0,1343.9 L3095.0,1345.0 L3097.0,1346.1 L3099.0,1347.2 L3101.0,1348.2 L3103.0,1349.1 L3105.0,1350.1 L3107.0,1351.0 L3109.0,1351.8 L3111.0,1352.7 L3113.0,1353.4 L3115.0,1354.2 L3117.0,1354.9 L3119.0,1355.6 L3121.0,1356.2 L3123.0,1356.9 L3125.0,1357.4 L3127.0,1358.0 L3129.0,1358.5 L3131.0,1359.0 L3133.0,1359.5 L3135.0,1359.9 L3137.0,1360.3 L3139.0,1360.7 L3141.0,1361.0 L3143.0,1361.4 L3145.0,1361.7 L3147.0,1362.0 L3149.0,1362.2 L3151.0,1362.4 L3153.0,1362.6 L3155.0,1362.8 L3157.0,1363.0 L3159.0,1363.1 L3161.0,1363.2 L3163.0,1363.3 L3165.0,1363.4 L3167.0,1363.4 L3169.0,1363.4 L3171.0,1363.4 L3173.0,1363.4 L3175.0,1363.4 L3177.0,1363.3 L3179.0,1363.2 L3181.0,1363.1 L3183.0,1362.9 L3185.0,1362.8 L3187.0,1362.6 L3189.0,1362.4 L3191.0,1362.1 L3193.0,1361.9 L3195.0,1361.6 L3197.0,1361.3 L3199.0,1361.0 L3201.0,1360.7 L3203.0,1360.4 L3205.0,1360.0 L3207.0,1359.6 L3209.0,1359.2 L3211.0,1358.8 L3213.0,1358.3 L3215.0,1357.9 L3217.0,1357.4 L3219.0,1356.9 L3221.0,1356.4 L3223.0,1355.9 L3225.0,1355.3 L3227.0,1354.8 L3229.0,1354.2 L3231.0,1353.7 L3233.0,1353.1 L3235.0,1352.5 L3237.0,1351.9 L3239.0,1351.3 L3241.0,1350.7 L3243.0,1350.0 L3245.0,1349.4 L3247.0,1348.8 L3249.0,1348.1 L3251.0,1347.5 L3253.0,1346.9 L3255.0,1346.2 L3257.0,1345.6 L3259.0,1344.9 L3261.0,1344.2 L3263.0,1343.6 L3265.0,1342.9 L3267.0,1342.2 L3269.0,1341.5 L3271.0,1340.8 L3273.0,1340.1 L3275.0,1339.4 L3277.0,1338.6 L3279.0,1337.9 L3281.0,1337.2 L3283.0,1336.4 L3285.0,1335.6 L3287.0,1334.8 L3289.0,1334.0 L3291.0,1333.2 L3293.0,1332.4 L3295.0,1331.5 L3297.0,1330.7 L3299.0,1329.8 L3301.0,1328.9 L3303.0,1328.0 L3305.0,1327.1 L3307.0,1326.1 L3309.0,1325.2 L3311.0,1324.2 L3313.0,1323.2 L3315.0,1322.2 L3317.0,1321.2 L3319.0,1320.2 L3321.0,1319.2 L3323.0,1318.1 L3325.0,1317.1 L3327.0,1316.1 L3329.0,1315.0 L3331.0,1313.9 L3333.0,1312.9 L3335.0,1311.8 L3337.0,1310.7 L3339.0,1309.7 L3341.0,1308.6 L3343.0,1307.5 L3345.0,1306.5 L3347.0,1305.4 L3349.0,1304.3 L3351.0,1303.3 L3353.0,1302.2 L3355.0,1301.1 L3357.0,1300.1 L3359.0,1299.0 L3361.0,1297.9 L3363.0,1296.9 L3365.0,1295.8 L3367.0,1294.8 L3369.0,1293.7 L3371.0,1292.7 L3373.0,1291.6 L3375.0,1290.5 L3377.0,1289.5 L3379.0,1288.4 L3381.0,1287.4 L3383.0,1286.3 L3385.0,1285.3 L3387.0,1284.2 L3389.0,1283.2 L3391.0,1282.1 L3393.0,1281.1 L3395.0,1280.0 L3397.0,1279.0 L3399.0,1278.0 L3401.0,1276.9 L3403.0,1275.9 L3405.0,1274.8 L3407.0,1273.8 L3409.0,1272.7 L3411.0,1271.7 L3413.0,1270.6 L3415.0,1269.6 L3417.0,1268.5 L3419.0,1267.5 L3421.0,1266.4 L3423.0,1265.4 L3425.0,1264.3 L3427.0,1263.3 L3429.0,1262.2 L3431.0,1261.1 L3433.0,1260.1 L3435.0,1259.0 L3437.0,1257.9 L3439.0,1256.8 L3441.0,1255.7 L3443.0,1254.6 L3445.0,1253.6 L3447.0,1252.4 L3449.0,1251.3 L3451.0,1250.2 L3453.0,1249.1 L3455.0,1248.0 L3457.0,1246.9 L3459.0,1245.7 L3461.0,1244.6 L3463.0,1243.5 L3465.0,1242.3 L3467.0,1241.2 L3469.0,1240.1 L3471.0,1238.9 L3473.0,1237.8 L3475.0,1236.6 L3477.0,1235.5 L3479.0,1234.3 L3481.0,1233.2 L3483.0,1232.0 L3485.0,1230.9 L3487.0,1229.7 L3489.0,1228.6 L3491.0,1227.4 L3493.0,1226.2 L3495.0,1225.1 L3497.0,1223.9 L3499.0,1222.8 L3501.0,1221.6 L3503.0,1220.5 L3505.0,1219.3 L3507.0,1218.2 L3509.0,1217.0 L3511.0,1215.9 L3513.0,1214.7 L3515.0,1213.6 L3517.0,1212.4 L3519.0,1211.2 L3521.0,1210.1 L3523.0,1208.9 L3525.0,1207.8 L3527.0,1206.6 L3529.0,1205.4 L3531.0,1204.3 L3533.0,1203.1 L3535.0,1201.9 L3537.0,1200.8 L3539.0,1199.6 L3541.0,1198.4 L3543.0,1197.2 L3545.0,1196.0 L3547.0,1194.9 L3549.0,1193.7 L3551.0,1192.5 L3553.0,1191.3 L3555.0,1190.1 L3557.0,1188.9 L3559.0,1187.7 L3561.0,1186.5 L3563.0,1185.4 L3565.0,1184.2 L3567.0,1183.0 L3569.0,1181.8 L3571.0,1180.6 L3573.0,1179.4 L3575.0,1178.2 L3577.0,1177.0 L3579.0,1175.8 L3581.0,1174.6 L3583.0,1173.4 L3585.0,1172.3 L3587.0,1171.1 L3589.0,1169.9 L3591.0,1168.7 L3593.0,1167.5 L3595.0,1166.4 L3597.0,1165.2 L3599.0,1164.0 L3601.0,1162.9 L3603.0,1161.7 L3605.0,1160.5 L3607.0,1159.4 L3609.0,1158.2 L3611.0,1157.1 L3613.0,1155.9 L3615.0,1154.7 L3617.0,1153.6 L3619.0,1152.4 L3621.0,1151.3 L3623.0,1150.1 L3625.0,1149.0 L3627.0,1147.8 L3629.0,1146.7 L3631.0,1145.5 L3633.0,1144.4 L3635.0,1143.2 L3637.0,1142.0 L3639.0,1140.9 L3641.0,1139.7 L3643.0,1138.6 L3645.0,1137.4 L3647.0,1136.3 L3649.0,1135.1 L3651.0,1134.0 L3653.0,1132.8 L3655.0,1131.7 L3657.0,1130.5 L3659.0,1129.4 L3661.0,1128.2 L3663.0,1127.1 L3665.0,1125.9 L3667.0,1124.8 L3669.0,1123.7 L3671.0,1122.5 L3673.0,1121.4 L3675.0,1120.3 L3677.0,1119.2 L3679.0,1118.1 L3681.0,1116.9 L3683.0,1115.8 L3685.0,1114.7 L3687.0,1113.6 L3689.0,1112.5 L3691.0,1111.4 L3693.0,1110.3 L3695.0,1109.2 L3697.0,1108.2 L3699.0,1107.1 L3701.0,1106.0 L3703.0,1105.0 L3705.0,1104.0 L3707.0,1102.9 L3709.0,1101.9 L3711.0,1100.8 L3713.0,1099.8 L3715.0,1098.8 L3717.0,1097.7 L3719.0,1096.6 L3721.0,1095.5 L3723.0,1094.4 L3725.0,1093.3 L3727.0,1092.0 L3729.0,1090.7 L3731.0,1089.2 L3733.0,1087.7 L3735.0,1086.1 L3737.0,1084.6 L3739.0,1083.1 L3741.0,1081.7 L3743.0,1080.5 L3745.0,1079.4 L3747.0,1078.6 L3749.0,1077.9 L3751.0,1077.6 L3753.0,1077.6 L3755.0,1077.8 L3757.0,1078.1 L3759.0,1078.7 L3761.0,1079.4 L3763.0,1080.3 L3765.0,1081.4 L3767.0,1082.7 L3769.0,1084.2 L3771.0,1085.8 L3773.0,1087.6 L3775.0,1089.5 L3777.0,1091.2 L3777.3,1091.7" stroke="#1414ff" stroke-width="13" fill="none" stroke-linejoin="round" stroke-linecap="butt"/>
<path d="M151.0,2100.0H3777.0" stroke="#3c3c3c" stroke-width="4" fill="none"/>
<path d="M151.0,190.0V2101.5" stroke="#dd4444" stroke-width="3" fill="none"/>
<path d="M3777.0,190.0V2101.5" stroke="#3a3ad0" stroke-width="3.5" fill="none"/>
<path d="M151.0,2100.0H179.0 M151.0,1972.7H179.0 M151.0,1845.3H179.0 M151.0,1718.0H179.0 M151.0,1590.7H179.0 M151.0,1463.3H179.0 M151.0,1336.0H179.0 M151.0,1208.7H179.0 M151.0,1081.3H179.0 M151.0,954.0H179.0 M151.0,826.7H179.0 M151.0,699.3H179.0 M151.0,572.0H179.0 M151.0,444.7H179.0 M151.0,317.3H179.0 M151.0,190.0H179.0" stroke="#e87a7a" stroke-width="3" fill="none"/>
<path d="M151.0,2100.0H179.0" stroke="#e85050" stroke-width="4" fill="none"/>
<path d="M3751.0,2100.0H3777.0 M3751.0,1940.8H3777.0 M3751.0,1781.7H3777.0 M3751.0,1622.5H3777.0 M3751.0,1463.3H3777.0 M3751.0,1304.2H3777.0 M3751.0,1145.0H3777.0 M3751.0,985.8H3777.0 M3751.0,826.7H3777.0 M3751.0,667.5H3777.0 M3751.0,508.3H3777.0 M3751.0,349.2H3777.0 M3751.0,190.0H3777.0" stroke="#a0a0ee" stroke-width="3.5" fill="none"/>
<path d="M3747.0,2100.0H3777.0" stroke="#4a4ad8" stroke-width="4" fill="none"/>
<path d="M151.0,2100.0V2086.0 M230.7,2100.0V2086.0 M298.1,2100.0V2086.0 M356.5,2100.0V2086.0 M408.0,2100.0V2086.0 M454.0,2100.0V2086.0 M757.1,2100.0V2072.0 M934.3,2100.0V2086.0 M1060.1,2100.0V2086.0 M1157.6,2100.0V2072.0 M1237.4,2100.0V2086.0 M1304.7,2100.0V2086.0 M1363.1,2100.0V2072.0 M1414.6,2100.0V2086.0 M1460.7,2100.0V2072.0 M1763.7,2100.0V2072.0 M1941.0,2100.0V2086.0 M2066.7,2100.0V2086.0 M2164.3,2100.0V2072.0 M2244.0,2100.0V2086.0 M2311.4,2100.0V2086.0 M2369.8,2100.0V2086.0 M2421.3,2100.0V2086.0 M2467.3,2100.0V2072.0 M2770.4,2100.0V2072.0 M2947.6,2100.0V2086.0 M3073.4,2100.0V2072.0 M3170.9,2100.0V2086.0 M3250.6,2100.0V2086.0 M3318.0,2100.0V2072.0 M3376.4,2100.0V2086.0 M3427.9,2100.0V2086.0 M3474.0,2100.0V2086.0 M3777.0,2100.0V2086.0" stroke="#222" stroke-width="3" fill="none"/>
<text transform="translate(132,2117.8) scale(0.89,1.09)" text-anchor="end" font-family='"Liberation Sans", sans-serif' font-weight="bold" font-size="47" fill="#f01414">0</text>
<text transform="translate(132,1990.5) scale(0.89,1.09)" text-anchor="end" font-family='"Liberation Sans", sans-serif' font-weight="bold" font-size="47" fill="#f01414">1</text>
<text transform="translate(132,1863.1) scale(0.89,1.09)" text-anchor="end" font-family='"Liberation Sans", sans-serif' font-weight="bold" font-size="47" fill="#f01414">2</text>
<text transform="translate(132,1735.8) scale(0.89,1.09)" text-anchor="end" font-family='"Liberation Sans", sans-serif' font-weight="bold" font-size="47" fill="#f01414">3</text>
<text transform="translate(132,1608.5) scale(0.89,1.09)" text-anchor="end" font-family='"Liberation Sans", sans-serif' font-weight="bold" font-size="47" fill="#f01414">4</text>
<text transform="translate(132,1481.1) scale(0.89,1.09)" text-anchor="end" font-family='"Liberation Sans", sans-serif' font-weight="bold" font-size="47" fill="#f01414">5</text>
<text transform="translate(132,1353.8) scale(0.89,1.09)" text-anchor="end" font-family='"Liberation Sans", sans-serif' font-weight="bold" font-size="47" fill="#f01414">6</text>
<text transform="translate(132,1226.5) scale(0.89,1.09)" text-anchor="end" font-family='"Liberation Sans", sans-serif' font-weight="bold" font-size="47" fill="#f01414">7</text>
<text transform="translate(132,1099.1) scale(0.89,1.09)" text-anchor="end" font-family='"Liberation Sans", sans-serif' font-weight="bold" font-size="47" fill="#f01414">8</text>
<text transform="translate(132,971.8) scale(0.89,1.09)" text-anchor="end" font-family='"Liberation Sans", sans-serif' font-weight="bold" font-size="47" fill="#f01414">9</text>
<text transform="translate(132,844.5) scale(0.89,1.09)" text-anchor="end" font-family='"Liberation Sans", sans-serif' font-weight="bold" font-size="47" fill="#f01414">10</text>
<text transform="translate(132,717.1) scale(0.89,1.09)" text-anchor="end" font-family='"Liberation Sans", sans-serif' font-weight="bold" font-size="47" fill="#f01414">11</text>
<text transform="translate(132,589.8) scale(0.89,1.09)" text-anchor="end" font-family='"Liberation Sans", sans-serif' font-weight="bold" font-size="47" fill="#f01414">12</text>
<text transform="translate(132,462.5) scale(0.89,1.09)" text-anchor="end" font-family='"Liberation Sans", sans-serif' font-weight="bold" font-size="47" fill="#f01414">13</text>
<text transform="translate(132,335.1) scale(0.89,1.09)" text-anchor="end" font-family='"Liberation Sans", sans-serif' font-weight="bold" font-size="47" fill="#f01414">14</text>
<text transform="translate(132,207.8) scale(0.89,1.09)" text-anchor="end" font-family='"Liberation Sans", sans-serif' font-weight="bold" font-size="47" fill="#f01414">15</text>
<text transform="translate(3795,2118.8) scale(0.9,1.06)" font-family='"Liberation Sans", sans-serif' font-weight="bold" font-size="47" fill="#2828e6">-90</text>
<text transform="translate(3795,1959.6) scale(0.9,1.06)" font-family='"Liberation Sans", sans-serif' font-weight="bold" font-size="47" fill="#2828e6">-75</text>
<text transform="translate(3795,1800.5) scale(0.9,1.06)" font-family='"Liberation Sans", sans-serif' font-weight="bold" font-size="47" fill="#2828e6">-60</text>
<text transform="translate(3795,1641.3) scale(0.9,1.06)" font-family='"Liberation Sans", sans-serif' font-weight="bold" font-size="47" fill="#2828e6">-45</text>
<text transform="translate(3795,1482.1) scale(0.9,1.06)" font-family='"Liberation Sans", sans-serif' font-weight="bold" font-size="47" fill="#2828e6">-30</text>
<text transform="translate(3795,1323.0) scale(0.9,1.06)" font-family='"Liberation Sans", sans-serif' font-weight="bold" font-size="47" fill="#2828e6">-15</text>
<text transform="translate(3795,1163.8) scale(0.9,1.06)" font-family='"Liberation Sans", sans-serif' font-weight="bold" font-size="47" fill="#2828e6">0</text>
<text transform="translate(3795,1004.6) scale(0.9,1.06)" font-family='"Liberation Sans", sans-serif' font-weight="bold" font-size="47" fill="#2828e6">15</text>
<text transform="translate(3795,845.5) scale(0.9,1.06)" font-family='"Liberation Sans", sans-serif' font-weight="bold" font-size="47" fill="#2828e6">30</text>
<text transform="translate(3795,686.3) scale(0.9,1.06)" font-family='"Liberation Sans", sans-serif' font-weight="bold" font-size="47" fill="#2828e6">45</text>
<text transform="translate(3795,527.1) scale(0.9,1.06)" font-family='"Liberation Sans", sans-serif' font-weight="bold" font-size="47" fill="#2828e6">60</text>
<text transform="translate(3795,368.0) scale(0.9,1.06)" font-family='"Liberation Sans", sans-serif' font-weight="bold" font-size="47" fill="#2828e6">75</text>
<text transform="translate(3795,208.8) scale(0.9,1.06)" font-family='"Liberation Sans", sans-serif' font-weight="bold" font-size="47" fill="#2828e6">90</text>
<text x="151.0" y="2162" text-anchor="middle" font-family='"Liberation Sans", sans-serif' font-weight="bold" font-size="45" fill="#1e1e1e">5</text>
<text x="757.1" y="2162" text-anchor="middle" font-family='"Liberation Sans", sans-serif' font-weight="bold" font-size="45" fill="#1e1e1e">20</text>
<text x="1157.6" y="2162" text-anchor="middle" font-family='"Liberation Sans", sans-serif' font-weight="bold" font-size="45" fill="#1e1e1e">50</text>
<text x="1363.1" y="2162" text-anchor="middle" font-family='"Liberation Sans", sans-serif' font-weight="bold" font-size="45" fill="#1e1e1e">80</text>
<text x="1460.7" y="2162" text-anchor="middle" font-family='"Liberation Sans", sans-serif' font-weight="bold" font-size="45" fill="#1e1e1e">100</text>
<text x="1763.7" y="2162" text-anchor="middle" font-family='"Liberation Sans", sans-serif' font-weight="bold" font-size="45" fill="#1e1e1e">200</text>
<text x="2164.3" y="2162" text-anchor="middle" font-family='"Liberation Sans", sans-serif' font-weight="bold" font-size="45" fill="#1e1e1e">500</text>
<text x="2467.3" y="2162" text-anchor="middle" font-family='"Liberation Sans", sans-serif' font-weight="bold" font-size="45" fill="#1e1e1e">1k</text>
<text x="2770.4" y="2162" text-anchor="middle" font-family='"Liberation Sans", sans-serif' font-weight="bold" font-size="45" fill="#1e1e1e">2k</text>
<text x="3073.4" y="2162" text-anchor="middle" font-family='"Liberation Sans", sans-serif' font-weight="bold" font-size="45" fill="#1e1e1e">4k</text>
<text x="3318.0" y="2162" text-anchor="middle" font-family='"Liberation Sans", sans-serif' font-weight="bold" font-size="45" fill="#1e1e1e">7k</text>
<text x="3474.0" y="2162" text-anchor="middle" font-family='"Liberation Sans", sans-serif' font-weight="bold" font-size="45" fill="#1e1e1e">10k</text>
<text x="3777.0" y="2162" text-anchor="middle" font-family='"Liberation Sans", sans-serif' font-weight="bold" font-size="45" fill="#1e1e1e">20k</text>
<text x="1964" y="2236" text-anchor="middle" font-family='"Liberation Sans", sans-serif' font-weight="bold" font-size="55.6" fill="#1e1e1e">Frequency (Hz)</text>
<text transform="translate(62,1148) rotate(-90)" text-anchor="middle" font-family='"Liberation Sans", sans-serif' font-weight="bold" font-size="52.8" fill="#f01414">Impedance (Ohm)</text>
<text transform="translate(3923,1145) rotate(-90)" text-anchor="middle" font-family='"Liberation Sans", sans-serif' font-weight="bold" font-size="52.4" fill="#2828e6">Phase (degrees)</text>
<text x="1964.5" y="97" text-anchor="middle" font-family='"Liberation Sans", sans-serif' font-weight="bold" font-size="55.7" fill="#111">Kef R3 Meta (Ported): Impedance (0.10v RMS)</text>
<path d="M1354,159H1453" stroke="#ff0000" stroke-width="13"/>
<text x="1459" y="176" font-family='"Liberation Sans", sans-serif' font-weight="bold" font-size="42" fill="#1e1e1e">Impedance (ohms)</text>
<path d="M1855,160H1954" stroke="#2a2a2a" stroke-width="8" stroke-dasharray="4 6"/>
<text x="1959" y="176" font-family='"Liberation Sans", sans-serif' font-weight="bold" font-size="42" fill="#1e1e1e">EPDR (ohms)</text>
<path d="M2253,158.6H2350" stroke="#1414ff" stroke-width="13"/>
<text x="2358" y="176" font-family='"Liberation Sans", sans-serif' font-weight="bold" font-size="42" fill="#1e1e1e">Phase (degrees)</text>
</svg>
</body></html>
